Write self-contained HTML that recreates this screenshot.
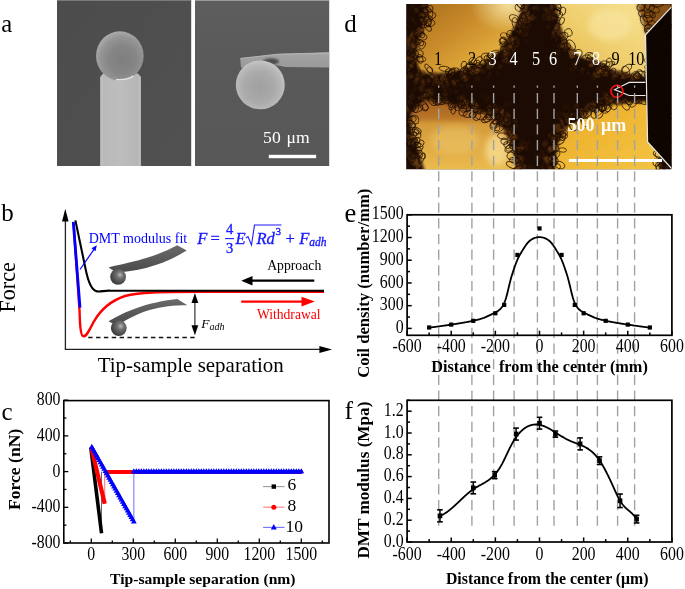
<!DOCTYPE html>
<html><head><meta charset="utf-8"><style>
html,body{margin:0;padding:0;background:#fff;width:685px;height:589px;overflow:hidden}
svg{display:block;font-family:'Liberation Serif',serif;will-change:transform}
</style></head><body>
<svg width="685" height="589" viewBox="0 0 685 589">
<text x="1.23" y="31.65" font-size="24.7" text-anchor="start" font-weight="normal" font-style="normal" fill="#000" >a</text>
<defs>
<linearGradient id="aBgL" x1="0" y1="0" x2="1" y2="1"><stop offset="0" stop-color="#4c4c4c"/><stop offset="1" stop-color="#515151"/></linearGradient>
<linearGradient id="aBgR" x1="0" y1="0" x2="0" y2="1"><stop offset="0" stop-color="#5e5e5e"/><stop offset="0.3" stop-color="#5a5a5a"/><stop offset="1" stop-color="#575757"/></linearGradient>
<linearGradient id="aBeam" x1="0" y1="0" x2="1" y2="0"><stop offset="0" stop-color="#c4c4c4"/><stop offset="0.08" stop-color="#b9b9b9"/><stop offset="0.5" stop-color="#bdbdbd"/><stop offset="0.92" stop-color="#b6b6b6"/><stop offset="1" stop-color="#c2c2c2"/></linearGradient>
<radialGradient id="aSphL" cx="0.55" cy="0.58" r="0.58" fx="0.55" fy="0.58"><stop offset="0" stop-color="#7e7e7e"/><stop offset="0.5" stop-color="#868686"/><stop offset="0.8" stop-color="#959595"/><stop offset="1" stop-color="#aaaaaa"/></radialGradient>
<radialGradient id="aSphR" cx="0.48" cy="0.55" r="0.52"><stop offset="0" stop-color="#a0a0a0"/><stop offset="0.6" stop-color="#aaaaaa"/><stop offset="0.88" stop-color="#b8b8b8"/><stop offset="1" stop-color="#c2c2c2"/></radialGradient>
<linearGradient id="aBeamR" x1="0" y1="0" x2="0" y2="1"><stop offset="0" stop-color="#b0b0b0"/><stop offset="0.18" stop-color="#a2a2a2"/><stop offset="1" stop-color="#9a9a9a"/></linearGradient>
<filter id="bl05"><feGaussianBlur stdDeviation="0.5"/></filter>
<filter id="bl1"><feGaussianBlur stdDeviation="1"/></filter>
<filter id="bl2"><feGaussianBlur stdDeviation="2"/></filter>
</defs>
<rect x="57" y="0.5" width="134.2" height="165.5" fill="url(#aBgL)"/>
<rect x="57" y="0" width="134.2" height="1" fill="#7a7a7a"/>
<polygon points="100.20,166.00 100.20,77.00 103.00,73.60 138.00,73.60 140.90,77.00 140.90,166.00" fill="url(#aBeam)" />
<ellipse cx="119.85" cy="55.9" rx="23.8" ry="24.6" fill="url(#aSphL)"/>
<path d="M116,79.4 Q126,80.6 133.5,75.8" fill="none" stroke="#e2e2e2" stroke-width="1.5" filter="url(#bl05)"/>
<rect x="195" y="0" width="134.2" height="166" fill="url(#aBgR)"/>
<rect x="195" y="0" width="134.2" height="1" fill="#9a9a9a"/>
<polygon points="240.20,58.20 278.20,53.90 329.20,52.40 329.20,67.40 285.50,67.00 273.80,64.80 241.00,67.70" fill="url(#aBeamR)" />
<polyline points="240.50,58.40 278.20,54.20 329.20,52.80" fill="none" stroke="#b8b8b8" stroke-width="0.9" />
<ellipse cx="271" cy="61.5" rx="8" ry="3.2" fill="#4e4e4e" filter="url(#bl1)"/>
<circle cx="260.3" cy="84.9" r="24.45" fill="url(#aSphR)"/>
<rect x="268.8" y="154.8" width="47.3" height="3.4" fill="#fff"/>
<text x="263.08" y="142.72" font-size="17.6" text-anchor="start" font-weight="normal" font-style="normal" fill="#fff" >50</text>
<text x="286.60" y="142.72" font-size="17.6" text-anchor="start" font-weight="normal" font-style="normal" fill="#fff" >μm</text>
<text x="344.30" y="31.55" font-size="24.9" text-anchor="start" font-weight="normal" font-style="normal" fill="#000" >d</text>
<defs>
<clipPath id="dClip"><rect x="406.2" y="4" width="265.4" height="165.2"/></clipPath>
<linearGradient id="dUL" x1="0" y1="0" x2="1" y2="1"><stop offset="0" stop-color="#a66c1c"/><stop offset="0.4" stop-color="#c88a2a"/><stop offset="0.7" stop-color="#e0aa3a"/><stop offset="1" stop-color="#f0c04a"/></linearGradient>
<radialGradient id="dULh" cx="0.85" cy="0.1" r="0.35"><stop offset="0" stop-color="#f8e6a8" stop-opacity="0.9"/><stop offset="1" stop-color="#f8e6a8" stop-opacity="0"/></radialGradient>
<linearGradient id="dUR" x1="0" y1="1" x2="1" y2="0"><stop offset="0" stop-color="#e4b848"/><stop offset="0.5" stop-color="#f0d070"/><stop offset="1" stop-color="#f8e498"/></linearGradient>
<linearGradient id="dLL" x1="0" y1="0" x2="0" y2="1"><stop offset="0" stop-color="#a86222"/><stop offset="0.25" stop-color="#b87428"/><stop offset="0.33" stop-color="#d49a3a"/><stop offset="1" stop-color="#ecbc4e"/></linearGradient>
<linearGradient id="dLR" x1="0" y1="0" x2="1" y2="1"><stop offset="0" stop-color="#e8a628"/><stop offset="0.5" stop-color="#f0b834"/><stop offset="1" stop-color="#f2c444"/></linearGradient>
<filter id="dBlur" x="-10%" y="-10%" width="120%" height="120%"><feGaussianBlur stdDeviation="1.6"/></filter>
<filter id="dBlur3"><feGaussianBlur stdDeviation="3"/></filter>
</defs>
<g clip-path="url(#dClip)">
<rect x="406" y="4" width="266" height="166" fill="#1c0b03"/>
<g filter="url(#dBlur)">
<polygon points="428.00,-2.00 524.00,-2.00 521.00,12.00 515.00,26.00 507.00,39.00 500.00,51.00 484.00,63.00 464.00,69.00 444.00,73.00 430.00,74.00 419.00,71.00 416.00,55.00 418.00,42.00 422.00,30.00 427.00,15.00" fill="url(#dUL)" />
<polygon points="554.00,-2.00 641.00,-2.00 645.00,15.00 652.00,30.00 652.00,77.00 638.00,75.50 612.60,70.00 595.00,62.00 579.00,56.00 566.00,42.00 559.00,22.00" fill="url(#dUR)" />
<polygon points="411.00,113.00 425.00,100.00 444.00,103.00 464.00,108.00 484.00,112.50 494.00,117.00 503.50,129.00 513.40,149.00 517.00,172.00 425.00,172.00 418.00,150.00 411.00,130.00" fill="url(#dLL)" />
<polygon points="660.00,101.00 640.00,101.70 604.70,105.60 585.00,114.50 569.30,125.30 559.40,139.10 555.50,158.80 555.00,172.00 660.00,172.00" fill="url(#dLR)" />
<polygon points="428.00,-2.00 524.00,-2.00 521.00,12.00 515.00,26.00 507.00,39.00 500.00,51.00 484.00,63.00 464.00,69.00 444.00,73.00 430.00,74.00 419.00,71.00 416.00,55.00 418.00,42.00 422.00,30.00 427.00,15.00" fill="url(#dULh)" />
<polygon points="636.00,4.00 672.00,4.00 672.00,8.00 645.50,34.80 641.00,18.00" fill="#8a5216" />
</g>
<g filter="url(#dBlur3)" opacity="0.8">
<ellipse cx="497" cy="150" rx="12" ry="16" fill="#f8dc90"/>
<ellipse cx="455" cy="140" rx="25" ry="14" fill="#f0cc70" opacity="0.6"/>
<ellipse cx="610" cy="25" rx="22" ry="16" fill="#fae8a8" opacity="0.7"/>
</g>
<ellipse cx="421.4" cy="87.7" rx="3.1" ry="1.6" transform="rotate(16 421.4 87.7)" fill="#7a4a18" opacity="0.10"/>
<ellipse cx="551.7" cy="14.4" rx="2.5" ry="2.7" transform="rotate(77 551.7 14.4)" fill="#5a3010" opacity="0.29"/>
<ellipse cx="446.4" cy="84.7" rx="3.7" ry="2.8" transform="rotate(103 446.4 84.7)" fill="#7a4a18" opacity="0.16"/>
<ellipse cx="508.6" cy="114.3" rx="3.2" ry="1.8" transform="rotate(21 508.6 114.3)" fill="#5a3010" opacity="0.12"/>
<ellipse cx="660.8" cy="28.9" rx="2.6" ry="1.9" transform="rotate(87 660.8 28.9)" fill="#6a3c12" opacity="0.26"/>
<ellipse cx="422.6" cy="15.1" rx="2.4" ry="2.1" transform="rotate(9 422.6 15.1)" fill="#84541c" opacity="0.37"/>
<ellipse cx="534.7" cy="18.2" rx="2.9" ry="2.0" transform="rotate(149 534.7 18.2)" fill="#84541c" opacity="0.10"/>
<ellipse cx="666.8" cy="112.4" rx="3.4" ry="1.7" transform="rotate(3 666.8 112.4)" fill="#84541c" opacity="0.32"/>
<ellipse cx="411.0" cy="76.6" rx="2.0" ry="2.9" transform="rotate(31 411.0 76.6)" fill="#7a4a18" opacity="0.19"/>
<ellipse cx="553.7" cy="133.4" rx="3.4" ry="1.9" transform="rotate(50 553.7 133.4)" fill="#6a3c12" opacity="0.26"/>
<ellipse cx="523.6" cy="16.0" rx="2.2" ry="2.6" transform="rotate(141 523.6 16.0)" fill="#6a3c12" opacity="0.42"/>
<ellipse cx="669.3" cy="141.4" rx="3.1" ry="2.4" transform="rotate(61 669.3 141.4)" fill="#6a3c12" opacity="0.23"/>
<ellipse cx="553.1" cy="156.9" rx="2.3" ry="2.4" transform="rotate(43 553.1 156.9)" fill="#5a3010" opacity="0.44"/>
<ellipse cx="410.8" cy="45.3" rx="3.8" ry="2.4" transform="rotate(34 410.8 45.3)" fill="#7a4a18" opacity="0.29"/>
<ellipse cx="594.0" cy="108.9" rx="2.9" ry="1.6" transform="rotate(23 594.0 108.9)" fill="#6a3c12" opacity="0.44"/>
<ellipse cx="488.3" cy="62.8" rx="3.0" ry="2.3" transform="rotate(90 488.3 62.8)" fill="#84541c" opacity="0.46"/>
<ellipse cx="570.1" cy="110.1" rx="2.4" ry="1.9" transform="rotate(134 570.1 110.1)" fill="#6a3c12" opacity="0.15"/>
<ellipse cx="666.2" cy="158.5" rx="3.1" ry="2.9" transform="rotate(174 666.2 158.5)" fill="#6a3c12" opacity="0.32"/>
<ellipse cx="535.3" cy="8.1" rx="3.2" ry="2.3" transform="rotate(54 535.3 8.1)" fill="#7a4a18" opacity="0.11"/>
<ellipse cx="525.7" cy="27.0" rx="2.2" ry="2.1" transform="rotate(16 525.7 27.0)" fill="#6a3c12" opacity="0.22"/>
<ellipse cx="472.1" cy="70.0" rx="4.4" ry="2.9" transform="rotate(157 472.1 70.0)" fill="#7a4a18" opacity="0.43"/>
<ellipse cx="575.3" cy="119.3" rx="2.2" ry="2.4" transform="rotate(105 575.3 119.3)" fill="#6a3c12" opacity="0.46"/>
<ellipse cx="465.5" cy="103.2" rx="2.8" ry="2.3" transform="rotate(173 465.5 103.2)" fill="#7a4a18" opacity="0.35"/>
<ellipse cx="661.5" cy="120.3" rx="2.1" ry="2.3" transform="rotate(121 661.5 120.3)" fill="#7a4a18" opacity="0.47"/>
<ellipse cx="505.5" cy="58.7" rx="2.0" ry="2.0" transform="rotate(63 505.5 58.7)" fill="#7a4a18" opacity="0.25"/>
<ellipse cx="416.8" cy="9.8" rx="4.3" ry="1.9" transform="rotate(135 416.8 9.8)" fill="#5a3010" opacity="0.17"/>
<ellipse cx="659.7" cy="67.8" rx="3.1" ry="2.3" transform="rotate(167 659.7 67.8)" fill="#5a3010" opacity="0.29"/>
<ellipse cx="649.2" cy="10.7" rx="2.3" ry="1.8" transform="rotate(175 649.2 10.7)" fill="#6a3c12" opacity="0.38"/>
<ellipse cx="422.8" cy="20.7" rx="3.4" ry="2.6" transform="rotate(16 422.8 20.7)" fill="#84541c" opacity="0.41"/>
<ellipse cx="514.1" cy="149.7" rx="2.4" ry="1.5" transform="rotate(99 514.1 149.7)" fill="#5a3010" opacity="0.47"/>
<ellipse cx="544.6" cy="156.7" rx="3.2" ry="2.9" transform="rotate(174 544.6 156.7)" fill="#7a4a18" opacity="0.17"/>
<ellipse cx="453.8" cy="82.1" rx="2.3" ry="2.2" transform="rotate(17 453.8 82.1)" fill="#7a4a18" opacity="0.18"/>
<ellipse cx="542.4" cy="151.8" rx="2.6" ry="2.6" transform="rotate(4 542.4 151.8)" fill="#7a4a18" opacity="0.10"/>
<ellipse cx="512.9" cy="47.6" rx="3.6" ry="2.5" transform="rotate(63 512.9 47.6)" fill="#84541c" opacity="0.26"/>
<ellipse cx="552.5" cy="159.3" rx="2.5" ry="2.5" transform="rotate(91 552.5 159.3)" fill="#6a3c12" opacity="0.41"/>
<ellipse cx="526.4" cy="41.3" rx="2.6" ry="1.6" transform="rotate(60 526.4 41.3)" fill="#6a3c12" opacity="0.10"/>
<ellipse cx="410.1" cy="47.0" rx="3.9" ry="3.1" transform="rotate(134 410.1 47.0)" fill="#5a3010" opacity="0.29"/>
<ellipse cx="574.0" cy="51.4" rx="2.2" ry="2.8" transform="rotate(37 574.0 51.4)" fill="#5a3010" opacity="0.47"/>
<ellipse cx="657.1" cy="50.8" rx="3.7" ry="2.3" transform="rotate(20 657.1 50.8)" fill="#6a3c12" opacity="0.35"/>
<ellipse cx="412.7" cy="38.0" rx="4.3" ry="2.4" transform="rotate(68 412.7 38.0)" fill="#84541c" opacity="0.30"/>
<ellipse cx="605.3" cy="73.5" rx="3.8" ry="3.0" transform="rotate(139 605.3 73.5)" fill="#84541c" opacity="0.33"/>
<ellipse cx="489.3" cy="107.7" rx="3.0" ry="2.8" transform="rotate(128 489.3 107.7)" fill="#5a3010" opacity="0.30"/>
<ellipse cx="515.2" cy="160.4" rx="3.7" ry="2.2" transform="rotate(137 515.2 160.4)" fill="#5a3010" opacity="0.47"/>
<ellipse cx="479.0" cy="69.9" rx="3.0" ry="2.2" transform="rotate(126 479.0 69.9)" fill="#6a3c12" opacity="0.38"/>
<ellipse cx="510.3" cy="39.0" rx="3.9" ry="2.9" transform="rotate(114 510.3 39.0)" fill="#84541c" opacity="0.44"/>
<ellipse cx="506.1" cy="45.8" rx="2.5" ry="1.5" transform="rotate(130 506.1 45.8)" fill="#7a4a18" opacity="0.43"/>
<ellipse cx="553.4" cy="140.4" rx="4.1" ry="2.2" transform="rotate(91 553.4 140.4)" fill="#84541c" opacity="0.34"/>
<ellipse cx="420.5" cy="97.6" rx="2.3" ry="2.9" transform="rotate(104 420.5 97.6)" fill="#7a4a18" opacity="0.33"/>
<ellipse cx="524.8" cy="6.3" rx="3.5" ry="3.1" transform="rotate(177 524.8 6.3)" fill="#5a3010" opacity="0.44"/>
<ellipse cx="573.2" cy="121.0" rx="4.3" ry="1.9" transform="rotate(174 573.2 121.0)" fill="#84541c" opacity="0.47"/>
<ellipse cx="556.8" cy="52.2" rx="4.4" ry="2.7" transform="rotate(149 556.8 52.2)" fill="#7a4a18" opacity="0.10"/>
<ellipse cx="562.8" cy="35.2" rx="2.5" ry="2.7" transform="rotate(65 562.8 35.2)" fill="#6a3c12" opacity="0.46"/>
<ellipse cx="447.5" cy="102.5" rx="3.3" ry="1.5" transform="rotate(6 447.5 102.5)" fill="#7a4a18" opacity="0.44"/>
<ellipse cx="662.3" cy="45.9" rx="2.5" ry="1.8" transform="rotate(15 662.3 45.9)" fill="#84541c" opacity="0.20"/>
<ellipse cx="439.0" cy="83.4" rx="2.6" ry="1.7" transform="rotate(122 439.0 83.4)" fill="#5a3010" opacity="0.20"/>
<ellipse cx="443.2" cy="77.8" rx="4.3" ry="2.9" transform="rotate(113 443.2 77.8)" fill="#84541c" opacity="0.38"/>
<ellipse cx="515.5" cy="29.7" rx="4.1" ry="2.1" transform="rotate(30 515.5 29.7)" fill="#7a4a18" opacity="0.46"/>
<ellipse cx="411.5" cy="163.6" rx="2.5" ry="1.7" transform="rotate(45 411.5 163.6)" fill="#6a3c12" opacity="0.24"/>
<ellipse cx="558.4" cy="127.2" rx="4.1" ry="3.1" transform="rotate(70 558.4 127.2)" fill="#6a3c12" opacity="0.27"/>
<ellipse cx="521.4" cy="160.9" rx="2.8" ry="2.6" transform="rotate(22 521.4 160.9)" fill="#5a3010" opacity="0.29"/>
<ellipse cx="484.1" cy="71.1" rx="2.6" ry="1.6" transform="rotate(98 484.1 71.1)" fill="#5a3010" opacity="0.27"/>
<ellipse cx="637.8" cy="76.6" rx="3.0" ry="2.2" transform="rotate(132 637.8 76.6)" fill="#7a4a18" opacity="0.46"/>
<ellipse cx="483.3" cy="96.7" rx="3.3" ry="2.2" transform="rotate(73 483.3 96.7)" fill="#5a3010" opacity="0.10"/>
<ellipse cx="499.9" cy="123.2" rx="4.4" ry="1.9" transform="rotate(171 499.9 123.2)" fill="#5a3010" opacity="0.47"/>
<ellipse cx="466.5" cy="78.7" rx="3.8" ry="1.9" transform="rotate(162 466.5 78.7)" fill="#5a3010" opacity="0.22"/>
<ellipse cx="416.8" cy="10.6" rx="2.5" ry="2.0" transform="rotate(69 416.8 10.6)" fill="#7a4a18" opacity="0.17"/>
<ellipse cx="654.9" cy="62.0" rx="4.2" ry="1.7" transform="rotate(101 654.9 62.0)" fill="#6a3c12" opacity="0.44"/>
<ellipse cx="592.6" cy="77.9" rx="2.8" ry="2.3" transform="rotate(65 592.6 77.9)" fill="#5a3010" opacity="0.10"/>
<ellipse cx="615.3" cy="74.2" rx="3.7" ry="2.4" transform="rotate(76 615.3 74.2)" fill="#84541c" opacity="0.39"/>
<ellipse cx="410.0" cy="102.1" rx="2.7" ry="2.7" transform="rotate(77 410.0 102.1)" fill="#5a3010" opacity="0.25"/>
<ellipse cx="552.0" cy="136.5" rx="4.3" ry="2.6" transform="rotate(46 552.0 136.5)" fill="#84541c" opacity="0.24"/>
<ellipse cx="509.2" cy="62.4" rx="3.4" ry="2.1" transform="rotate(4 509.2 62.4)" fill="#84541c" opacity="0.10"/>
<ellipse cx="552.6" cy="158.7" rx="4.3" ry="2.5" transform="rotate(14 552.6 158.7)" fill="#7a4a18" opacity="0.41"/>
<ellipse cx="545.2" cy="159.3" rx="2.0" ry="2.3" transform="rotate(118 545.2 159.3)" fill="#6a3c12" opacity="0.20"/>
<ellipse cx="512.9" cy="146.6" rx="3.4" ry="2.2" transform="rotate(165 512.9 146.6)" fill="#5a3010" opacity="0.47"/>
<ellipse cx="463.6" cy="98.0" rx="4.2" ry="3.0" transform="rotate(48 463.6 98.0)" fill="#7a4a18" opacity="0.19"/>
<ellipse cx="670.6" cy="53.1" rx="2.3" ry="3.2" transform="rotate(2 670.6 53.1)" fill="#5a3010" opacity="0.10"/>
<ellipse cx="520.5" cy="21.3" rx="4.5" ry="2.0" transform="rotate(158 520.5 21.3)" fill="#84541c" opacity="0.43"/>
<ellipse cx="459.4" cy="98.1" rx="2.4" ry="2.7" transform="rotate(49 459.4 98.1)" fill="#7a4a18" opacity="0.24"/>
<ellipse cx="603.0" cy="70.3" rx="3.7" ry="2.4" transform="rotate(138 603.0 70.3)" fill="#7a4a18" opacity="0.37"/>
<ellipse cx="606.4" cy="97.1" rx="3.7" ry="2.7" transform="rotate(87 606.4 97.1)" fill="#84541c" opacity="0.26"/>
<ellipse cx="666.7" cy="68.6" rx="2.9" ry="2.6" transform="rotate(40 666.7 68.6)" fill="#5a3010" opacity="0.10"/>
<ellipse cx="538.1" cy="157.4" rx="3.2" ry="3.0" transform="rotate(108 538.1 157.4)" fill="#7a4a18" opacity="0.10"/>
<ellipse cx="549.8" cy="18.6" rx="2.7" ry="3.0" transform="rotate(152 549.8 18.6)" fill="#7a4a18" opacity="0.23"/>
<ellipse cx="424.5" cy="96.3" rx="3.4" ry="2.8" transform="rotate(107 424.5 96.3)" fill="#84541c" opacity="0.38"/>
<ellipse cx="415.0" cy="88.7" rx="3.6" ry="1.7" transform="rotate(104 415.0 88.7)" fill="#6a3c12" opacity="0.10"/>
<ellipse cx="437.3" cy="81.2" rx="3.3" ry="2.4" transform="rotate(66 437.3 81.2)" fill="#7a4a18" opacity="0.26"/>
<ellipse cx="513.4" cy="37.6" rx="2.6" ry="3.0" transform="rotate(90 513.4 37.6)" fill="#7a4a18" opacity="0.38"/>
<ellipse cx="547.4" cy="160.1" rx="4.4" ry="2.8" transform="rotate(45 547.4 160.1)" fill="#84541c" opacity="0.26"/>
<ellipse cx="407.2" cy="84.7" rx="2.3" ry="2.9" transform="rotate(75 407.2 84.7)" fill="#5a3010" opacity="0.10"/>
<ellipse cx="570.7" cy="52.2" rx="2.7" ry="2.7" transform="rotate(80 570.7 52.2)" fill="#84541c" opacity="0.39"/>
<ellipse cx="449.1" cy="91.0" rx="2.4" ry="3.1" transform="rotate(82 449.1 91.0)" fill="#84541c" opacity="0.10"/>
<ellipse cx="415.3" cy="57.7" rx="4.4" ry="3.0" transform="rotate(26 415.3 57.7)" fill="#5a3010" opacity="0.47"/>
<ellipse cx="657.0" cy="36.6" rx="3.1" ry="1.7" transform="rotate(47 657.0 36.6)" fill="#5a3010" opacity="0.35"/>
<ellipse cx="515.8" cy="137.3" rx="2.8" ry="2.6" transform="rotate(174 515.8 137.3)" fill="#6a3c12" opacity="0.28"/>
<ellipse cx="593.2" cy="105.0" rx="2.2" ry="2.5" transform="rotate(148 593.2 105.0)" fill="#6a3c12" opacity="0.35"/>
<ellipse cx="406.9" cy="107.8" rx="2.7" ry="1.6" transform="rotate(80 406.9 107.8)" fill="#84541c" opacity="0.27"/>
<ellipse cx="465.7" cy="107.9" rx="2.8" ry="2.5" transform="rotate(39 465.7 107.9)" fill="#5a3010" opacity="0.46"/>
<ellipse cx="425.0" cy="82.8" rx="3.1" ry="2.7" transform="rotate(128 425.0 82.8)" fill="#6a3c12" opacity="0.22"/>
<ellipse cx="513.2" cy="50.6" rx="3.8" ry="2.4" transform="rotate(79 513.2 50.6)" fill="#5a3010" opacity="0.18"/>
<ellipse cx="527.0" cy="20.9" rx="2.4" ry="2.8" transform="rotate(85 527.0 20.9)" fill="#6a3c12" opacity="0.24"/>
<ellipse cx="433.7" cy="101.6" rx="2.5" ry="2.3" transform="rotate(105 433.7 101.6)" fill="#7a4a18" opacity="0.47"/>
<ellipse cx="594.1" cy="76.5" rx="3.8" ry="1.6" transform="rotate(85 594.1 76.5)" fill="#7a4a18" opacity="0.11"/>
<ellipse cx="664.9" cy="121.1" rx="4.0" ry="1.8" transform="rotate(92 664.9 121.1)" fill="#6a3c12" opacity="0.38"/>
<ellipse cx="520.6" cy="148.9" rx="4.4" ry="2.3" transform="rotate(127 520.6 148.9)" fill="#7a4a18" opacity="0.29"/>
<ellipse cx="472.4" cy="72.0" rx="2.6" ry="3.0" transform="rotate(166 472.4 72.0)" fill="#7a4a18" opacity="0.35"/>
<ellipse cx="647.1" cy="6.2" rx="3.8" ry="3.2" transform="rotate(32 647.1 6.2)" fill="#84541c" opacity="0.41"/>
<ellipse cx="423.0" cy="15.0" rx="2.9" ry="1.7" transform="rotate(20 423.0 15.0)" fill="#7a4a18" opacity="0.39"/>
<ellipse cx="663.9" cy="117.4" rx="3.9" ry="1.8" transform="rotate(18 663.9 117.4)" fill="#6a3c12" opacity="0.41"/>
<ellipse cx="414.2" cy="140.7" rx="4.1" ry="2.9" transform="rotate(121 414.2 140.7)" fill="#6a3c12" opacity="0.47"/>
<ellipse cx="562.1" cy="113.1" rx="2.4" ry="1.7" transform="rotate(177 562.1 113.1)" fill="#6a3c12" opacity="0.10"/>
<ellipse cx="507.3" cy="130.2" rx="2.5" ry="1.9" transform="rotate(69 507.3 130.2)" fill="#84541c" opacity="0.41"/>
<ellipse cx="523.1" cy="23.5" rx="2.9" ry="2.3" transform="rotate(169 523.1 23.5)" fill="#7a4a18" opacity="0.33"/>
<ellipse cx="415.6" cy="76.4" rx="2.5" ry="2.8" transform="rotate(105 415.6 76.4)" fill="#5a3010" opacity="0.31"/>
<ellipse cx="512.9" cy="116.1" rx="4.4" ry="1.9" transform="rotate(86 512.9 116.1)" fill="#5a3010" opacity="0.10"/>
<ellipse cx="669.8" cy="106.5" rx="4.1" ry="1.8" transform="rotate(180 669.8 106.5)" fill="#6a3c12" opacity="0.23"/>
<ellipse cx="412.1" cy="65.7" rx="4.1" ry="1.5" transform="rotate(109 412.1 65.7)" fill="#7a4a18" opacity="0.33"/>
<ellipse cx="663.2" cy="147.6" rx="3.3" ry="2.9" transform="rotate(145 663.2 147.6)" fill="#5a3010" opacity="0.41"/>
<ellipse cx="662.0" cy="35.8" rx="4.2" ry="2.5" transform="rotate(33 662.0 35.8)" fill="#5a3010" opacity="0.23"/>
<ellipse cx="638.8" cy="101.2" rx="2.0" ry="2.4" transform="rotate(131 638.8 101.2)" fill="#6a3c12" opacity="0.47"/>
<ellipse cx="555.1" cy="12.5" rx="3.7" ry="2.2" transform="rotate(129 555.1 12.5)" fill="#7a4a18" opacity="0.41"/>
<ellipse cx="556.3" cy="26.8" rx="3.5" ry="1.7" transform="rotate(114 556.3 26.8)" fill="#84541c" opacity="0.38"/>
<ellipse cx="488.8" cy="113.3" rx="2.4" ry="1.9" transform="rotate(139 488.8 113.3)" fill="#6a3c12" opacity="0.47"/>
<ellipse cx="420.8" cy="104.5" rx="2.1" ry="2.4" transform="rotate(27 420.8 104.5)" fill="#7a4a18" opacity="0.47"/>
<ellipse cx="667.0" cy="154.1" rx="3.2" ry="2.6" transform="rotate(54 667.0 154.1)" fill="#6a3c12" opacity="0.32"/>
<ellipse cx="530.8" cy="167.4" rx="4.1" ry="2.0" transform="rotate(31 530.8 167.4)" fill="#7a4a18" opacity="0.10"/>
<ellipse cx="499.9" cy="66.4" rx="2.6" ry="3.0" transform="rotate(74 499.9 66.4)" fill="#84541c" opacity="0.16"/>
<ellipse cx="586.1" cy="111.7" rx="4.2" ry="2.4" transform="rotate(82 586.1 111.7)" fill="#6a3c12" opacity="0.43"/>
<ellipse cx="412.9" cy="135.4" rx="2.2" ry="1.6" transform="rotate(133 412.9 135.4)" fill="#6a3c12" opacity="0.47"/>
<ellipse cx="596.8" cy="74.8" rx="3.3" ry="2.9" transform="rotate(142 596.8 74.8)" fill="#84541c" opacity="0.19"/>
<ellipse cx="530.6" cy="19.2" rx="2.9" ry="2.7" transform="rotate(135 530.6 19.2)" fill="#6a3c12" opacity="0.18"/>
<ellipse cx="458.7" cy="101.7" rx="2.4" ry="1.6" transform="rotate(126 458.7 101.7)" fill="#6a3c12" opacity="0.34"/>
<ellipse cx="499.6" cy="118.0" rx="2.4" ry="3.0" transform="rotate(103 499.6 118.0)" fill="#84541c" opacity="0.38"/>
<ellipse cx="594.4" cy="108.0" rx="2.4" ry="1.8" transform="rotate(110 594.4 108.0)" fill="#5a3010" opacity="0.42"/>
<ellipse cx="510.0" cy="45.8" rx="4.4" ry="3.2" transform="rotate(127 510.0 45.8)" fill="#6a3c12" opacity="0.37"/>
<ellipse cx="508.0" cy="118.0" rx="4.0" ry="2.8" transform="rotate(93 508.0 118.0)" fill="#7a4a18" opacity="0.19"/>
<ellipse cx="490.1" cy="66.1" rx="4.3" ry="2.8" transform="rotate(142 490.1 66.1)" fill="#7a4a18" opacity="0.33"/>
<ellipse cx="475.8" cy="104.8" rx="4.1" ry="2.3" transform="rotate(50 475.8 104.8)" fill="#7a4a18" opacity="0.32"/>
<ellipse cx="519.7" cy="158.0" rx="3.9" ry="1.7" transform="rotate(50 519.7 158.0)" fill="#7a4a18" opacity="0.35"/>
<ellipse cx="575.4" cy="66.1" rx="4.0" ry="1.6" transform="rotate(86 575.4 66.1)" fill="#84541c" opacity="0.18"/>
<ellipse cx="633.4" cy="77.2" rx="4.3" ry="2.9" transform="rotate(123 633.4 77.2)" fill="#7a4a18" opacity="0.41"/>
<ellipse cx="608.7" cy="101.2" rx="4.2" ry="2.1" transform="rotate(173 608.7 101.2)" fill="#6a3c12" opacity="0.38"/>
<ellipse cx="551.6" cy="55.8" rx="2.5" ry="1.7" transform="rotate(51 551.6 55.8)" fill="#84541c" opacity="0.10"/>
<ellipse cx="489.3" cy="97.8" rx="3.0" ry="3.0" transform="rotate(106 489.3 97.8)" fill="#5a3010" opacity="0.10"/>
<ellipse cx="409.5" cy="37.5" rx="4.1" ry="1.7" transform="rotate(168 409.5 37.5)" fill="#6a3c12" opacity="0.20"/>
<ellipse cx="513.7" cy="119.1" rx="4.1" ry="3.2" transform="rotate(20 513.7 119.1)" fill="#84541c" opacity="0.10"/>
<ellipse cx="655.1" cy="44.3" rx="2.8" ry="2.1" transform="rotate(164 655.1 44.3)" fill="#5a3010" opacity="0.41"/>
<ellipse cx="520.1" cy="31.4" rx="2.3" ry="2.9" transform="rotate(117 520.1 31.4)" fill="#6a3c12" opacity="0.30"/>
<ellipse cx="503.5" cy="121.5" rx="4.4" ry="2.2" transform="rotate(1 503.5 121.5)" fill="#84541c" opacity="0.35"/>
<ellipse cx="507.2" cy="114.8" rx="2.1" ry="2.1" transform="rotate(157 507.2 114.8)" fill="#7a4a18" opacity="0.14"/>
<ellipse cx="505.8" cy="51.9" rx="3.8" ry="2.9" transform="rotate(87 505.8 51.9)" fill="#84541c" opacity="0.38"/>
<ellipse cx="636.8" cy="76.5" rx="2.8" ry="3.2" transform="rotate(33 636.8 76.5)" fill="#84541c" opacity="0.44"/>
<ellipse cx="564.3" cy="46.1" rx="3.0" ry="2.1" transform="rotate(2 564.3 46.1)" fill="#84541c" opacity="0.37"/>
<ellipse cx="586.8" cy="107.1" rx="2.1" ry="2.6" transform="rotate(110 586.8 107.1)" fill="#7a4a18" opacity="0.33"/>
<ellipse cx="509.0" cy="135.9" rx="2.6" ry="2.8" transform="rotate(79 509.0 135.9)" fill="#84541c" opacity="0.42"/>
<ellipse cx="430.2" cy="80.2" rx="2.0" ry="1.7" transform="rotate(16 430.2 80.2)" fill="#5a3010" opacity="0.32"/>
<ellipse cx="543.3" cy="166.0" rx="3.3" ry="2.3" transform="rotate(67 543.3 166.0)" fill="#5a3010" opacity="0.14"/>
<ellipse cx="660.1" cy="64.9" rx="3.6" ry="2.4" transform="rotate(59 660.1 64.9)" fill="#6a3c12" opacity="0.26"/>
<ellipse cx="517.0" cy="161.9" rx="3.0" ry="1.8" transform="rotate(119 517.0 161.9)" fill="#5a3010" opacity="0.41"/>
<ellipse cx="577.6" cy="118.5" rx="3.6" ry="1.7" transform="rotate(110 577.6 118.5)" fill="#84541c" opacity="0.46"/>
<ellipse cx="664.6" cy="124.1" rx="4.1" ry="1.8" transform="rotate(149 664.6 124.1)" fill="#84541c" opacity="0.38"/>
<ellipse cx="511.4" cy="41.0" rx="4.4" ry="2.1" transform="rotate(92 511.4 41.0)" fill="#7a4a18" opacity="0.39"/>
<ellipse cx="463.9" cy="76.2" rx="4.0" ry="1.9" transform="rotate(150 463.9 76.2)" fill="#84541c" opacity="0.29"/>
<ellipse cx="566.0" cy="107.3" rx="3.9" ry="2.0" transform="rotate(155 566.0 107.3)" fill="#7a4a18" opacity="0.10"/>
<ellipse cx="653.4" cy="36.9" rx="3.9" ry="2.5" transform="rotate(97 653.4 36.9)" fill="#6a3c12" opacity="0.47"/>
<ellipse cx="408.2" cy="58.3" rx="3.7" ry="2.8" transform="rotate(179 408.2 58.3)" fill="#84541c" opacity="0.26"/>
<ellipse cx="653.7" cy="68.8" rx="2.2" ry="3.1" transform="rotate(92 653.7 68.8)" fill="#5a3010" opacity="0.47"/>
<ellipse cx="551.2" cy="137.3" rx="3.8" ry="1.6" transform="rotate(169 551.2 137.3)" fill="#84541c" opacity="0.25"/>
<ellipse cx="525.4" cy="148.2" rx="3.1" ry="2.8" transform="rotate(50 525.4 148.2)" fill="#5a3010" opacity="0.14"/>
<ellipse cx="561.9" cy="121.2" rx="4.3" ry="1.7" transform="rotate(54 561.9 121.2)" fill="#5a3010" opacity="0.24"/>
<ellipse cx="411.1" cy="66.0" rx="3.2" ry="1.5" transform="rotate(27 411.1 66.0)" fill="#84541c" opacity="0.30"/>
<ellipse cx="516.9" cy="45.6" rx="4.1" ry="1.6" transform="rotate(134 516.9 45.6)" fill="#5a3010" opacity="0.18"/>
<ellipse cx="562.3" cy="123.0" rx="3.2" ry="1.8" transform="rotate(79 562.3 123.0)" fill="#7a4a18" opacity="0.28"/>
<ellipse cx="557.1" cy="39.0" rx="2.3" ry="1.8" transform="rotate(129 557.1 39.0)" fill="#5a3010" opacity="0.29"/>
<ellipse cx="477.2" cy="69.1" rx="3.1" ry="2.1" transform="rotate(2 477.2 69.1)" fill="#84541c" opacity="0.38"/>
<ellipse cx="661.5" cy="41.7" rx="2.1" ry="1.7" transform="rotate(128 661.5 41.7)" fill="#6a3c12" opacity="0.23"/>
<ellipse cx="664.5" cy="32.8" rx="3.1" ry="1.5" transform="rotate(87 664.5 32.8)" fill="#5a3010" opacity="0.14"/>
<ellipse cx="562.0" cy="43.2" rx="3.2" ry="2.2" transform="rotate(116 562.0 43.2)" fill="#5a3010" opacity="0.35"/>
<ellipse cx="409.3" cy="67.3" rx="3.6" ry="1.6" transform="rotate(98 409.3 67.3)" fill="#84541c" opacity="0.23"/>
<ellipse cx="618.9" cy="102.7" rx="3.5" ry="3.0" transform="rotate(178 618.9 102.7)" fill="#5a3010" opacity="0.44"/>
<ellipse cx="652.8" cy="14.6" rx="2.4" ry="1.7" transform="rotate(55 652.8 14.6)" fill="#6a3c12" opacity="0.30"/>
<ellipse cx="414.3" cy="60.2" rx="4.0" ry="2.7" transform="rotate(141 414.3 60.2)" fill="#5a3010" opacity="0.41"/>
<ellipse cx="508.4" cy="52.3" rx="3.8" ry="1.9" transform="rotate(59 508.4 52.3)" fill="#5a3010" opacity="0.28"/>
<ellipse cx="574.4" cy="64.3" rx="2.2" ry="2.4" transform="rotate(105 574.4 64.3)" fill="#6a3c12" opacity="0.22"/>
<ellipse cx="420.3" cy="30.3" rx="4.0" ry="3.0" transform="rotate(43 420.3 30.3)" fill="#7a4a18" opacity="0.44"/>
<ellipse cx="547.8" cy="11.0" rx="3.7" ry="2.7" transform="rotate(68 547.8 11.0)" fill="#84541c" opacity="0.19"/>
<ellipse cx="409.5" cy="58.5" rx="2.5" ry="2.2" transform="rotate(162 409.5 58.5)" fill="#5a3010" opacity="0.29"/>
<ellipse cx="663.0" cy="151.0" rx="3.4" ry="3.1" transform="rotate(21 663.0 151.0)" fill="#6a3c12" opacity="0.41"/>
<ellipse cx="413.8" cy="156.4" rx="2.1" ry="1.7" transform="rotate(179 413.8 156.4)" fill="#7a4a18" opacity="0.33"/>
<ellipse cx="558.3" cy="25.3" rx="3.1" ry="2.2" transform="rotate(101 558.3 25.3)" fill="#5a3010" opacity="0.44"/>
<ellipse cx="528.2" cy="27.9" rx="3.8" ry="1.6" transform="rotate(146 528.2 27.9)" fill="#5a3010" opacity="0.14"/>
<ellipse cx="439.0" cy="96.5" rx="2.8" ry="2.6" transform="rotate(162 439.0 96.5)" fill="#6a3c12" opacity="0.32"/>
<ellipse cx="473.7" cy="100.7" rx="4.0" ry="1.8" transform="rotate(47 473.7 100.7)" fill="#7a4a18" opacity="0.20"/>
<ellipse cx="507.4" cy="48.8" rx="4.2" ry="2.1" transform="rotate(126 507.4 48.8)" fill="#84541c" opacity="0.37"/>
<ellipse cx="418.2" cy="166.0" rx="4.1" ry="1.7" transform="rotate(118 418.2 166.0)" fill="#7a4a18" opacity="0.44"/>
<ellipse cx="577.0" cy="116.5" rx="2.7" ry="1.6" transform="rotate(177 577.0 116.5)" fill="#84541c" opacity="0.42"/>
<ellipse cx="522.0" cy="157.6" rx="2.4" ry="2.6" transform="rotate(118 522.0 157.6)" fill="#7a4a18" opacity="0.29"/>
<ellipse cx="513.4" cy="136.0" rx="2.8" ry="3.1" transform="rotate(156 513.4 136.0)" fill="#5a3010" opacity="0.33"/>
<ellipse cx="590.4" cy="65.3" rx="2.4" ry="2.9" transform="rotate(83 590.4 65.3)" fill="#84541c" opacity="0.37"/>
<ellipse cx="653.6" cy="12.5" rx="2.6" ry="2.8" transform="rotate(27 653.6 12.5)" fill="#7a4a18" opacity="0.26"/>
<ellipse cx="412.2" cy="49.2" rx="3.3" ry="2.0" transform="rotate(121 412.2 49.2)" fill="#5a3010" opacity="0.35"/>
<ellipse cx="548.3" cy="161.9" rx="2.1" ry="3.1" transform="rotate(47 548.3 161.9)" fill="#84541c" opacity="0.29"/>
<ellipse cx="657.1" cy="46.0" rx="3.5" ry="1.9" transform="rotate(128 657.1 46.0)" fill="#6a3c12" opacity="0.35"/>
<ellipse cx="410.9" cy="75.2" rx="3.5" ry="3.2" transform="rotate(38 410.9 75.2)" fill="#7a4a18" opacity="0.20"/>
<ellipse cx="522.8" cy="166.7" rx="2.8" ry="2.3" transform="rotate(29 522.8 166.7)" fill="#7a4a18" opacity="0.27"/>
<ellipse cx="425.0" cy="10.0" rx="2.1" ry="2.4" transform="rotate(114 425.0 10.0)" fill="#5a3010" opacity="0.41"/>
<ellipse cx="573.8" cy="55.6" rx="4.3" ry="2.4" transform="rotate(4 573.8 55.6)" fill="#5a3010" opacity="0.39"/>
<ellipse cx="666.8" cy="134.7" rx="2.3" ry="1.9" transform="rotate(118 666.8 134.7)" fill="#7a4a18" opacity="0.32"/>
<ellipse cx="474.9" cy="67.1" rx="2.0" ry="1.9" transform="rotate(44 474.9 67.1)" fill="#6a3c12" opacity="0.47"/>
<ellipse cx="656.2" cy="77.8" rx="2.1" ry="2.3" transform="rotate(96 656.2 77.8)" fill="#7a4a18" opacity="0.38"/>
<ellipse cx="434.0" cy="83.9" rx="2.4" ry="2.3" transform="rotate(63 434.0 83.9)" fill="#7a4a18" opacity="0.22"/>
<ellipse cx="554.8" cy="164.1" rx="2.9" ry="2.0" transform="rotate(134 554.8 164.1)" fill="#7a4a18" opacity="0.47"/>
<ellipse cx="668.6" cy="109.4" rx="3.5" ry="2.0" transform="rotate(85 668.6 109.4)" fill="#7a4a18" opacity="0.26"/>
<ellipse cx="573.5" cy="51.6" rx="3.3" ry="2.4" transform="rotate(40 573.5 51.6)" fill="#84541c" opacity="0.47"/>
<ellipse cx="559.2" cy="34.0" rx="2.4" ry="2.3" transform="rotate(8 559.2 34.0)" fill="#7a4a18" opacity="0.39"/>
<ellipse cx="552.9" cy="7.7" rx="2.1" ry="3.2" transform="rotate(163 552.9 7.7)" fill="#84541c" opacity="0.35"/>
<ellipse cx="473.7" cy="71.8" rx="2.2" ry="3.0" transform="rotate(123 473.7 71.8)" fill="#7a4a18" opacity="0.37"/>
<ellipse cx="551.0" cy="149.2" rx="2.9" ry="2.7" transform="rotate(96 551.0 149.2)" fill="#84541c" opacity="0.34"/>
<ellipse cx="573.3" cy="114.4" rx="2.8" ry="2.1" transform="rotate(155 573.3 114.4)" fill="#84541c" opacity="0.30"/>
<ellipse cx="421.7" cy="14.2" rx="2.2" ry="3.1" transform="rotate(65 421.7 14.2)" fill="#7a4a18" opacity="0.33"/>
<ellipse cx="523.3" cy="19.1" rx="4.4" ry="2.1" transform="rotate(115 523.3 19.1)" fill="#84541c" opacity="0.37"/>
<ellipse cx="444.8" cy="94.4" rx="2.3" ry="3.0" transform="rotate(103 444.8 94.4)" fill="#84541c" opacity="0.23"/>
<ellipse cx="556.3" cy="6.8" rx="2.4" ry="2.6" transform="rotate(110 556.3 6.8)" fill="#5a3010" opacity="0.47"/>
<ellipse cx="463.7" cy="71.0" rx="3.5" ry="1.9" transform="rotate(126 463.7 71.0)" fill="#84541c" opacity="0.44"/>
<ellipse cx="609.1" cy="103.0" rx="4.3" ry="3.1" transform="rotate(171 609.1 103.0)" fill="#6a3c12" opacity="0.41"/>
<ellipse cx="549.5" cy="148.2" rx="2.0" ry="2.3" transform="rotate(18 549.5 148.2)" fill="#84541c" opacity="0.27"/>
<ellipse cx="661.1" cy="38.1" rx="2.5" ry="1.8" transform="rotate(153 661.1 38.1)" fill="#5a3010" opacity="0.23"/>
<ellipse cx="646.6" cy="77.4" rx="3.5" ry="1.7" transform="rotate(94 646.6 77.4)" fill="#84541c" opacity="0.47"/>
<ellipse cx="429.6" cy="94.5" rx="3.9" ry="2.5" transform="rotate(164 429.6 94.5)" fill="#6a3c12" opacity="0.29"/>
<ellipse cx="422.6" cy="72.8" rx="3.2" ry="3.0" transform="rotate(101 422.6 72.8)" fill="#5a3010" opacity="0.47"/>
<ellipse cx="416.0" cy="161.6" rx="2.1" ry="2.8" transform="rotate(29 416.0 161.6)" fill="#7a4a18" opacity="0.38"/>
<ellipse cx="458.2" cy="105.3" rx="3.9" ry="2.5" transform="rotate(149 458.2 105.3)" fill="#5a3010" opacity="0.44"/>
<ellipse cx="558.5" cy="114.0" rx="3.1" ry="3.1" transform="rotate(37 558.5 114.0)" fill="#6a3c12" opacity="0.10"/>
<ellipse cx="530.3" cy="16.8" rx="4.1" ry="1.6" transform="rotate(144 530.3 16.8)" fill="#7a4a18" opacity="0.22"/>
<ellipse cx="653.8" cy="65.3" rx="4.4" ry="2.4" transform="rotate(123 653.8 65.3)" fill="#6a3c12" opacity="0.47"/>
<ellipse cx="589.7" cy="60.1" rx="2.8" ry="2.8" transform="rotate(101 589.7 60.1)" fill="#5a3010" opacity="0.47"/>
<ellipse cx="417.9" cy="78.2" rx="4.2" ry="1.7" transform="rotate(135 417.9 78.2)" fill="#7a4a18" opacity="0.28"/>
<ellipse cx="422.6" cy="82.9" rx="3.5" ry="2.2" transform="rotate(82 422.6 82.9)" fill="#7a4a18" opacity="0.20"/>
<ellipse cx="666.3" cy="167.8" rx="2.2" ry="1.9" transform="rotate(90 666.3 167.8)" fill="#6a3c12" opacity="0.32"/>
<ellipse cx="589.8" cy="106.6" rx="4.2" ry="2.8" transform="rotate(93 589.8 106.6)" fill="#84541c" opacity="0.34"/>
<ellipse cx="620.5" cy="72.6" rx="3.2" ry="2.7" transform="rotate(161 620.5 72.6)" fill="#6a3c12" opacity="0.47"/>
<ellipse cx="453.1" cy="82.6" rx="3.6" ry="2.2" transform="rotate(44 453.1 82.6)" fill="#7a4a18" opacity="0.18"/>
<ellipse cx="552.7" cy="17.4" rx="2.4" ry="3.1" transform="rotate(142 552.7 17.4)" fill="#6a3c12" opacity="0.32"/>
<ellipse cx="664.2" cy="30.3" rx="3.0" ry="2.9" transform="rotate(18 664.2 30.3)" fill="#5a3010" opacity="0.14"/>
<ellipse cx="416.3" cy="81.0" rx="3.9" ry="2.7" transform="rotate(123 416.3 81.0)" fill="#6a3c12" opacity="0.22"/>
<ellipse cx="510.8" cy="40.5" rx="3.9" ry="3.0" transform="rotate(82 510.8 40.5)" fill="#6a3c12" opacity="0.42"/>
<ellipse cx="557.5" cy="128.2" rx="4.5" ry="2.5" transform="rotate(108 557.5 128.2)" fill="#84541c" opacity="0.27"/>
<ellipse cx="554.6" cy="161.3" rx="3.6" ry="1.5" transform="rotate(75 554.6 161.3)" fill="#84541c" opacity="0.47"/>
<ellipse cx="545.7" cy="9.0" rx="3.7" ry="2.2" transform="rotate(17 545.7 9.0)" fill="#7a4a18" opacity="0.14"/>
<ellipse cx="418.7" cy="33.7" rx="3.4" ry="3.1" transform="rotate(140 418.7 33.7)" fill="#6a3c12" opacity="0.42"/>
<ellipse cx="594.1" cy="103.7" rx="3.1" ry="2.4" transform="rotate(68 594.1 103.7)" fill="#7a4a18" opacity="0.31"/>
<ellipse cx="525.1" cy="145.2" rx="4.0" ry="2.6" transform="rotate(140 525.1 145.2)" fill="#5a3010" opacity="0.12"/>
<ellipse cx="530.4" cy="24.6" rx="2.7" ry="1.8" transform="rotate(162 530.4 24.6)" fill="#5a3010" opacity="0.12"/>
<ellipse cx="666.8" cy="66.7" rx="3.1" ry="1.6" transform="rotate(109 666.8 66.7)" fill="#7a4a18" opacity="0.10"/>
<ellipse cx="653.1" cy="7.1" rx="2.8" ry="2.9" transform="rotate(18 653.1 7.1)" fill="#6a3c12" opacity="0.23"/>
<ellipse cx="601.5" cy="98.9" rx="2.7" ry="1.6" transform="rotate(167 601.5 98.9)" fill="#84541c" opacity="0.27"/>
<ellipse cx="665.2" cy="136.5" rx="2.3" ry="3.1" transform="rotate(11 665.2 136.5)" fill="#5a3010" opacity="0.35"/>
<ellipse cx="564.5" cy="40.7" rx="3.9" ry="2.3" transform="rotate(22 564.5 40.7)" fill="#6a3c12" opacity="0.47"/>
<ellipse cx="662.0" cy="150.1" rx="3.6" ry="2.4" transform="rotate(97 662.0 150.1)" fill="#5a3010" opacity="0.44"/>
<ellipse cx="600.3" cy="72.0" rx="3.0" ry="2.5" transform="rotate(16 600.3 72.0)" fill="#7a4a18" opacity="0.29"/>
<ellipse cx="413.7" cy="44.7" rx="3.6" ry="1.8" transform="rotate(87 413.7 44.7)" fill="#7a4a18" opacity="0.37"/>
<ellipse cx="425.0" cy="8.3" rx="2.8" ry="1.7" transform="rotate(78 425.0 8.3)" fill="#6a3c12" opacity="0.41"/>
<ellipse cx="606.3" cy="73.5" rx="4.1" ry="3.0" transform="rotate(130 606.3 73.5)" fill="#6a3c12" opacity="0.34"/>
<ellipse cx="546.7" cy="159.1" rx="2.7" ry="2.1" transform="rotate(115 546.7 159.1)" fill="#6a3c12" opacity="0.23"/>
<ellipse cx="511.8" cy="142.1" rx="3.0" ry="2.7" transform="rotate(174 511.8 142.1)" fill="#6a3c12" opacity="0.46"/>
<ellipse cx="559.8" cy="131.6" rx="3.2" ry="1.8" transform="rotate(116 559.8 131.6)" fill="#6a3c12" opacity="0.37"/>
<ellipse cx="472.7" cy="102.6" rx="4.3" ry="2.7" transform="rotate(89 472.7 102.6)" fill="#7a4a18" opacity="0.27"/>
<ellipse cx="653.2" cy="55.0" rx="4.4" ry="2.7" transform="rotate(78 653.2 55.0)" fill="#84541c" opacity="0.47"/>
<ellipse cx="517.9" cy="164.5" rx="2.1" ry="3.0" transform="rotate(14 517.9 164.5)" fill="#6a3c12" opacity="0.41"/>
<ellipse cx="423.9" cy="93.8" rx="4.1" ry="2.2" transform="rotate(179 423.9 93.8)" fill="#5a3010" opacity="0.28"/>
<ellipse cx="605.4" cy="94.0" rx="2.6" ry="2.6" transform="rotate(21 605.4 94.0)" fill="#7a4a18" opacity="0.17"/>
<ellipse cx="593.2" cy="64.4" rx="3.1" ry="1.7" transform="rotate(85 593.2 64.4)" fill="#6a3c12" opacity="0.42"/>
<ellipse cx="526.1" cy="12.6" rx="4.1" ry="2.8" transform="rotate(35 526.1 12.6)" fill="#84541c" opacity="0.35"/>
<ellipse cx="556.9" cy="11.2" rx="3.7" ry="1.7" transform="rotate(162 556.9 11.2)" fill="#6a3c12" opacity="0.44"/>
<ellipse cx="442.0" cy="102.3" rx="3.7" ry="3.0" transform="rotate(149 442.0 102.3)" fill="#6a3c12" opacity="0.47"/>
<ellipse cx="545.3" cy="143.5" rx="4.2" ry="2.6" transform="rotate(107 545.3 143.5)" fill="#7a4a18" opacity="0.12"/>
<ellipse cx="411.0" cy="159.3" rx="4.0" ry="2.2" transform="rotate(40 411.0 159.3)" fill="#7a4a18" opacity="0.26"/>
<ellipse cx="565.3" cy="128.4" rx="2.8" ry="2.7" transform="rotate(102 565.3 128.4)" fill="#7a4a18" opacity="0.46"/>
<ellipse cx="548.0" cy="166.2" rx="3.0" ry="2.4" transform="rotate(10 548.0 166.2)" fill="#5a3010" opacity="0.26"/>
<ellipse cx="445.8" cy="99.8" rx="3.0" ry="2.3" transform="rotate(52 445.8 99.8)" fill="#6a3c12" opacity="0.38"/>
<ellipse cx="623.3" cy="75.7" rx="3.6" ry="1.6" transform="rotate(117 623.3 75.7)" fill="#84541c" opacity="0.41"/>
<ellipse cx="503.7" cy="116.2" rx="3.4" ry="2.0" transform="rotate(164 503.7 116.2)" fill="#84541c" opacity="0.27"/>
<ellipse cx="414.0" cy="21.0" rx="4.2" ry="1.6" transform="rotate(58 414.0 21.0)" fill="#5a3010" opacity="0.16"/>
<ellipse cx="410.5" cy="120.2" rx="3.5" ry="2.4" transform="rotate(130 410.5 120.2)" fill="#6a3c12" opacity="0.47"/>
<ellipse cx="509.1" cy="133.7" rx="4.4" ry="1.9" transform="rotate(51 509.1 133.7)" fill="#7a4a18" opacity="0.39"/>
<ellipse cx="435.3" cy="75.2" rx="4.0" ry="2.2" transform="rotate(80 435.3 75.2)" fill="#6a3c12" opacity="0.44"/>
<ellipse cx="467.5" cy="108.7" rx="3.9" ry="2.7" transform="rotate(66 467.5 108.7)" fill="#6a3c12" opacity="0.47"/>
<ellipse cx="600.8" cy="105.4" rx="3.7" ry="2.8" transform="rotate(122 600.8 105.4)" fill="#5a3010" opacity="0.44"/>
<ellipse cx="503.9" cy="47.9" rx="3.9" ry="2.2" transform="rotate(27 503.9 47.9)" fill="#6a3c12" opacity="0.47"/>
<ellipse cx="657.4" cy="65.4" rx="3.1" ry="2.4" transform="rotate(139 657.4 65.4)" fill="#84541c" opacity="0.35"/>
<ellipse cx="660.2" cy="13.3" rx="3.5" ry="2.7" transform="rotate(108 660.2 13.3)" fill="#5a3010" opacity="0.10"/>
<ellipse cx="590.4" cy="64.2" rx="3.5" ry="2.1" transform="rotate(99 590.4 64.2)" fill="#5a3010" opacity="0.39"/>
<ellipse cx="655.2" cy="76.6" rx="4.3" ry="2.9" transform="rotate(122 655.2 76.6)" fill="#6a3c12" opacity="0.41"/>
<ellipse cx="408.5" cy="95.0" rx="3.4" ry="1.5" transform="rotate(84 408.5 95.0)" fill="#6a3c12" opacity="0.10"/>
<ellipse cx="553.2" cy="32.1" rx="2.7" ry="2.1" transform="rotate(75 553.2 32.1)" fill="#5a3010" opacity="0.24"/>
<ellipse cx="665.2" cy="56.6" rx="2.5" ry="1.5" transform="rotate(48 665.2 56.6)" fill="#7a4a18" opacity="0.11"/>
<ellipse cx="425.2" cy="13.3" rx="3.5" ry="1.6" transform="rotate(90 425.2 13.3)" fill="#84541c" opacity="0.44"/>
<ellipse cx="516.7" cy="39.8" rx="4.2" ry="2.6" transform="rotate(54 516.7 39.8)" fill="#7a4a18" opacity="0.27"/>
<ellipse cx="501.6" cy="117.9" rx="2.6" ry="1.8" transform="rotate(19 501.6 117.9)" fill="#7a4a18" opacity="0.33"/>
<ellipse cx="501.0" cy="112.8" rx="2.6" ry="3.0" transform="rotate(141 501.0 112.8)" fill="#5a3010" opacity="0.27"/>
<ellipse cx="432.2" cy="100.8" rx="3.8" ry="2.1" transform="rotate(68 432.2 100.8)" fill="#6a3c12" opacity="0.46"/>
<ellipse cx="604.9" cy="67.3" rx="2.1" ry="2.8" transform="rotate(77 604.9 67.3)" fill="#6a3c12" opacity="0.47"/>
<ellipse cx="496.8" cy="111.2" rx="2.5" ry="3.0" transform="rotate(83 496.8 111.2)" fill="#7a4a18" opacity="0.31"/>
<ellipse cx="436.9" cy="81.6" rx="2.4" ry="2.4" transform="rotate(126 436.9 81.6)" fill="#6a3c12" opacity="0.26"/>
<ellipse cx="518.2" cy="166.0" rx="2.0" ry="2.5" transform="rotate(125 518.2 166.0)" fill="#6a3c12" opacity="0.38"/>
<ellipse cx="664.6" cy="133.4" rx="3.8" ry="2.2" transform="rotate(84 664.6 133.4)" fill="#84541c" opacity="0.38"/>
<ellipse cx="611.0" cy="91.2" rx="2.8" ry="3.1" transform="rotate(50 611.0 91.2)" fill="#84541c" opacity="0.11"/>
<ellipse cx="406.1" cy="156.3" rx="3.4" ry="1.8" transform="rotate(80 406.1 156.3)" fill="#6a3c12" opacity="0.13"/>
<ellipse cx="525.2" cy="4.8" rx="4.3" ry="1.6" transform="rotate(72 525.2 4.8)" fill="#84541c" opacity="0.41"/>
<ellipse cx="415.6" cy="157.6" rx="4.4" ry="2.2" transform="rotate(106 415.6 157.6)" fill="#5a3010" opacity="0.38"/>
<ellipse cx="408.2" cy="109.9" rx="2.5" ry="1.7" transform="rotate(90 408.2 109.9)" fill="#6a3c12" opacity="0.35"/>
<ellipse cx="518.4" cy="168.3" rx="2.9" ry="1.8" transform="rotate(31 518.4 168.3)" fill="#84541c" opacity="0.41"/>
<ellipse cx="520.4" cy="32.6" rx="3.3" ry="2.1" transform="rotate(90 520.4 32.6)" fill="#7a4a18" opacity="0.28"/>
<ellipse cx="443.4" cy="83.4" rx="3.2" ry="2.6" transform="rotate(132 443.4 83.4)" fill="#5a3010" opacity="0.20"/>
<ellipse cx="439.3" cy="100.0" rx="3.9" ry="1.6" transform="rotate(122 439.3 100.0)" fill="#6a3c12" opacity="0.41"/>
<ellipse cx="603.8" cy="66.8" rx="4.2" ry="2.6" transform="rotate(63 603.8 66.8)" fill="#6a3c12" opacity="0.47"/>
<ellipse cx="495.4" cy="107.4" rx="3.8" ry="2.0" transform="rotate(76 495.4 107.4)" fill="#84541c" opacity="0.22"/>
<ellipse cx="468.2" cy="85.9" rx="2.9" ry="2.5" transform="rotate(47 468.2 85.9)" fill="#5a3010" opacity="0.10"/>
<ellipse cx="562.9" cy="36.6" rx="2.6" ry="1.8" transform="rotate(1 562.9 36.6)" fill="#7a4a18" opacity="0.44"/>
<ellipse cx="653.3" cy="48.8" rx="2.3" ry="2.1" transform="rotate(18 653.3 48.8)" fill="#84541c" opacity="0.47"/>
<ellipse cx="565.4" cy="48.8" rx="2.8" ry="2.2" transform="rotate(116 565.4 48.8)" fill="#6a3c12" opacity="0.35"/>
<ellipse cx="658.0" cy="37.4" rx="2.4" ry="2.0" transform="rotate(75 658.0 37.4)" fill="#5a3010" opacity="0.35"/>
<ellipse cx="528.4" cy="9.8" rx="3.3" ry="1.6" transform="rotate(87 528.4 9.8)" fill="#5a3010" opacity="0.30"/>
<ellipse cx="525.9" cy="4.1" rx="4.3" ry="2.4" transform="rotate(176 525.9 4.1)" fill="#7a4a18" opacity="0.41"/>
<ellipse cx="476.8" cy="73.1" rx="2.1" ry="1.7" transform="rotate(1 476.8 73.1)" fill="#84541c" opacity="0.28"/>
<ellipse cx="420.3" cy="29.8" rx="2.5" ry="2.1" transform="rotate(18 420.3 29.8)" fill="#7a4a18" opacity="0.44"/>
<ellipse cx="613.5" cy="77.9" rx="2.1" ry="2.7" transform="rotate(66 613.5 77.9)" fill="#6a3c12" opacity="0.29"/>
<ellipse cx="563.3" cy="131.9" rx="2.2" ry="2.5" transform="rotate(111 563.3 131.9)" fill="#84541c" opacity="0.46"/>
<ellipse cx="423.4" cy="5.7" rx="2.8" ry="1.9" transform="rotate(155 423.4 5.7)" fill="#6a3c12" opacity="0.38"/>
<ellipse cx="505.0" cy="60.0" rx="3.1" ry="3.1" transform="rotate(175 505.0 60.0)" fill="#84541c" opacity="0.22"/>
<ellipse cx="666.7" cy="134.4" rx="2.5" ry="2.6" transform="rotate(31 666.7 134.4)" fill="#5a3010" opacity="0.32"/>
<ellipse cx="540.8" cy="167.4" rx="3.1" ry="1.8" transform="rotate(30 540.8 167.4)" fill="#6a3c12" opacity="0.10"/>
<ellipse cx="507.8" cy="47.7" rx="2.6" ry="2.7" transform="rotate(144 507.8 47.7)" fill="#5a3010" opacity="0.38"/>
<ellipse cx="442.2" cy="83.4" rx="3.2" ry="2.3" transform="rotate(3 442.2 83.4)" fill="#6a3c12" opacity="0.20"/>
<ellipse cx="492.2" cy="61.4" rx="3.5" ry="1.9" transform="rotate(96 492.2 61.4)" fill="#5a3010" opacity="0.41"/>
<ellipse cx="537.9" cy="6.5" rx="4.4" ry="1.9" transform="rotate(77 537.9 6.5)" fill="#7a4a18" opacity="0.10"/>
<ellipse cx="570.4" cy="47.5" rx="2.8" ry="1.6" transform="rotate(36 570.4 47.5)" fill="#84541c" opacity="0.47"/>
<ellipse cx="509.9" cy="129.5" rx="2.5" ry="2.4" transform="rotate(124 509.9 129.5)" fill="#6a3c12" opacity="0.34"/>
<ellipse cx="566.3" cy="117.7" rx="2.3" ry="2.4" transform="rotate(40 566.3 117.7)" fill="#6a3c12" opacity="0.26"/>
<ellipse cx="455.9" cy="91.5" rx="2.8" ry="2.6" transform="rotate(27 455.9 91.5)" fill="#7a4a18" opacity="0.10"/>
<ellipse cx="576.2" cy="106.5" rx="3.2" ry="3.0" transform="rotate(101 576.2 106.5)" fill="#7a4a18" opacity="0.15"/>
<ellipse cx="409.1" cy="40.1" rx="2.2" ry="1.6" transform="rotate(136 409.1 40.1)" fill="#6a3c12" opacity="0.23"/>
<ellipse cx="524.7" cy="8.8" rx="3.2" ry="1.5" transform="rotate(79 524.7 8.8)" fill="#6a3c12" opacity="0.42"/>
<ellipse cx="582.4" cy="70.0" rx="2.9" ry="2.4" transform="rotate(113 582.4 70.0)" fill="#84541c" opacity="0.14"/>
<ellipse cx="580.9" cy="111.8" rx="4.0" ry="1.7" transform="rotate(159 580.9 111.8)" fill="#5a3010" opacity="0.34"/>
<ellipse cx="550.4" cy="168.3" rx="2.2" ry="2.5" transform="rotate(41 550.4 168.3)" fill="#7a4a18" opacity="0.35"/>
<ellipse cx="665.5" cy="150.8" rx="4.2" ry="2.4" transform="rotate(177 665.5 150.8)" fill="#84541c" opacity="0.35"/>
<ellipse cx="410.0" cy="138.8" rx="2.2" ry="2.5" transform="rotate(17 410.0 138.8)" fill="#6a3c12" opacity="0.38"/>
<ellipse cx="418.4" cy="164.4" rx="3.7" ry="2.6" transform="rotate(37 418.4 164.4)" fill="#6a3c12" opacity="0.44"/>
<ellipse cx="557.6" cy="137.5" rx="4.5" ry="2.7" transform="rotate(85 557.6 137.5)" fill="#6a3c12" opacity="0.42"/>
<ellipse cx="507.3" cy="133.1" rx="3.8" ry="2.5" transform="rotate(4 507.3 133.1)" fill="#5a3010" opacity="0.44"/>
<ellipse cx="582.8" cy="112.1" rx="3.5" ry="2.1" transform="rotate(46 582.8 112.1)" fill="#84541c" opacity="0.39"/>
<ellipse cx="427.8" cy="92.2" rx="3.3" ry="2.9" transform="rotate(121 427.8 92.2)" fill="#84541c" opacity="0.25"/>
<ellipse cx="506.6" cy="49.4" rx="3.6" ry="2.4" transform="rotate(78 506.6 49.4)" fill="#6a3c12" opacity="0.38"/>
<ellipse cx="561.1" cy="46.0" rx="3.6" ry="2.9" transform="rotate(171 561.1 46.0)" fill="#7a4a18" opacity="0.33"/>
<ellipse cx="624.9" cy="101.3" rx="2.7" ry="3.0" transform="rotate(49 624.9 101.3)" fill="#6a3c12" opacity="0.44"/>
<ellipse cx="552.1" cy="6.9" rx="2.5" ry="2.9" transform="rotate(141 552.1 6.9)" fill="#5a3010" opacity="0.35"/>
<ellipse cx="663.6" cy="107.7" rx="3.5" ry="1.9" transform="rotate(13 663.6 107.7)" fill="#6a3c12" opacity="0.41"/>
<ellipse cx="647.3" cy="6.1" rx="2.1" ry="2.2" transform="rotate(58 647.3 6.1)" fill="#84541c" opacity="0.41"/>
<ellipse cx="410.0" cy="154.3" rx="3.4" ry="3.1" transform="rotate(138 410.0 154.3)" fill="#6a3c12" opacity="0.26"/>
<ellipse cx="553.3" cy="35.0" rx="3.5" ry="2.2" transform="rotate(90 553.3 35.0)" fill="#7a4a18" opacity="0.20"/>
<ellipse cx="422.1" cy="84.9" rx="2.5" ry="1.8" transform="rotate(69 422.1 84.9)" fill="#84541c" opacity="0.15"/>
<ellipse cx="654.5" cy="53.6" rx="2.2" ry="2.1" transform="rotate(141 654.5 53.6)" fill="#5a3010" opacity="0.44"/>
<ellipse cx="670.9" cy="142.3" rx="3.4" ry="2.5" transform="rotate(99 670.9 142.3)" fill="#7a4a18" opacity="0.20"/>
<ellipse cx="664.2" cy="36.7" rx="2.9" ry="2.3" transform="rotate(26 664.2 36.7)" fill="#6a3c12" opacity="0.14"/>
<ellipse cx="507.0" cy="123.1" rx="3.7" ry="2.3" transform="rotate(177 507.0 123.1)" fill="#7a4a18" opacity="0.30"/>
<ellipse cx="408.1" cy="41.1" rx="3.8" ry="3.1" transform="rotate(113 408.1 41.1)" fill="#5a3010" opacity="0.20"/>
<ellipse cx="449.1" cy="75.1" rx="3.3" ry="2.2" transform="rotate(53 449.1 75.1)" fill="#5a3010" opacity="0.41"/>
<ellipse cx="516.0" cy="126.6" rx="2.5" ry="2.6" transform="rotate(85 516.0 126.6)" fill="#7a4a18" opacity="0.14"/>
<ellipse cx="461.1" cy="85.4" rx="2.8" ry="1.7" transform="rotate(34 461.1 85.4)" fill="#6a3c12" opacity="0.10"/>
<ellipse cx="515.8" cy="52.3" rx="2.7" ry="2.2" transform="rotate(124 515.8 52.3)" fill="#6a3c12" opacity="0.10"/>
<ellipse cx="533.4" cy="8.2" rx="2.6" ry="1.8" transform="rotate(149 533.4 8.2)" fill="#84541c" opacity="0.16"/>
<ellipse cx="486.1" cy="99.9" rx="4.3" ry="2.4" transform="rotate(106 486.1 99.9)" fill="#5a3010" opacity="0.11"/>
<ellipse cx="490.6" cy="111.6" rx="3.6" ry="1.7" transform="rotate(35 490.6 111.6)" fill="#6a3c12" opacity="0.39"/>
<ellipse cx="464.3" cy="78.3" rx="4.2" ry="3.0" transform="rotate(34 464.3 78.3)" fill="#7a4a18" opacity="0.23"/>
<ellipse cx="532.4" cy="18.7" rx="4.0" ry="2.0" transform="rotate(126 532.4 18.7)" fill="#84541c" opacity="0.14"/>
<ellipse cx="527.8" cy="18.0" rx="3.7" ry="2.2" transform="rotate(37 527.8 18.0)" fill="#7a4a18" opacity="0.27"/>
<ellipse cx="507.7" cy="113.7" rx="2.9" ry="3.1" transform="rotate(176 507.7 113.7)" fill="#6a3c12" opacity="0.12"/>
<ellipse cx="562.6" cy="131.4" rx="2.1" ry="2.9" transform="rotate(125 562.6 131.4)" fill="#7a4a18" opacity="0.43"/>
<ellipse cx="563.8" cy="43.0" rx="2.6" ry="2.4" transform="rotate(50 563.8 43.0)" fill="#6a3c12" opacity="0.42"/>
<ellipse cx="658.3" cy="70.9" rx="3.8" ry="3.0" transform="rotate(67 658.3 70.9)" fill="#5a3010" opacity="0.32"/>
<ellipse cx="545.0" cy="162.5" rx="3.0" ry="1.5" transform="rotate(9 545.0 162.5)" fill="#5a3010" opacity="0.17"/>
<ellipse cx="577.2" cy="62.5" rx="2.8" ry="1.6" transform="rotate(146 577.2 62.5)" fill="#6a3c12" opacity="0.31"/>
<ellipse cx="412.1" cy="93.9" rx="4.4" ry="2.0" transform="rotate(94 412.1 93.9)" fill="#6a3c12" opacity="0.10"/>
<ellipse cx="646.5" cy="5.4" rx="2.6" ry="2.8" transform="rotate(67 646.5 5.4)" fill="#7a4a18" opacity="0.44"/>
<ellipse cx="527.0" cy="18.2" rx="3.3" ry="2.5" transform="rotate(38 527.0 18.2)" fill="#5a3010" opacity="0.27"/>
<ellipse cx="515.7" cy="121.9" rx="2.1" ry="1.9" transform="rotate(115 515.7 121.9)" fill="#7a4a18" opacity="0.10"/>
<ellipse cx="661.4" cy="149.7" rx="3.0" ry="1.7" transform="rotate(110 661.4 149.7)" fill="#84541c" opacity="0.47"/>
<ellipse cx="406.0" cy="68.2" rx="3.9" ry="3.2" transform="rotate(6 406.0 68.2)" fill="#6a3c12" opacity="0.14"/>
<ellipse cx="507.3" cy="104.2" rx="4.3" ry="3.1" transform="rotate(6 507.3 104.2)" fill="#5a3010" opacity="0.10"/>
<ellipse cx="407.6" cy="55.8" rx="3.9" ry="3.0" transform="rotate(98 407.6 55.8)" fill="#5a3010" opacity="0.23"/>
<ellipse cx="658.7" cy="17.4" rx="2.9" ry="3.1" transform="rotate(82 658.7 17.4)" fill="#84541c" opacity="0.18"/>
<ellipse cx="549.4" cy="150.7" rx="2.6" ry="2.9" transform="rotate(143 549.4 150.7)" fill="#5a3010" opacity="0.29"/>
<ellipse cx="602.5" cy="69.7" rx="3.9" ry="2.7" transform="rotate(65 602.5 69.7)" fill="#84541c" opacity="0.39"/>
<ellipse cx="497.5" cy="73.1" rx="2.8" ry="2.1" transform="rotate(59 497.5 73.1)" fill="#84541c" opacity="0.10"/>
<ellipse cx="512.2" cy="130.7" rx="3.1" ry="1.6" transform="rotate(39 512.2 130.7)" fill="#5a3010" opacity="0.27"/>
<ellipse cx="507.1" cy="117.4" rx="2.3" ry="1.5" transform="rotate(60 507.1 117.4)" fill="#6a3c12" opacity="0.19"/>
<ellipse cx="662.4" cy="21.7" rx="3.2" ry="2.8" transform="rotate(5 662.4 21.7)" fill="#6a3c12" opacity="0.12"/>
<ellipse cx="595.1" cy="73.4" rx="2.2" ry="2.8" transform="rotate(92 595.1 73.4)" fill="#7a4a18" opacity="0.20"/>
<ellipse cx="410.8" cy="137.1" rx="4.4" ry="2.1" transform="rotate(26 410.8 137.1)" fill="#7a4a18" opacity="0.41"/>
<ellipse cx="563.2" cy="40.8" rx="2.2" ry="1.9" transform="rotate(39 563.2 40.8)" fill="#7a4a18" opacity="0.44"/>
<ellipse cx="446.4" cy="79.5" rx="4.0" ry="2.2" transform="rotate(50 446.4 79.5)" fill="#7a4a18" opacity="0.31"/>
<ellipse cx="413.3" cy="145.2" rx="2.6" ry="2.0" transform="rotate(90 413.3 145.2)" fill="#6a3c12" opacity="0.41"/>
<ellipse cx="428.3" cy="80.2" rx="3.1" ry="1.8" transform="rotate(80 428.3 80.2)" fill="#5a3010" opacity="0.31"/>
<ellipse cx="566.7" cy="115.2" rx="4.1" ry="2.1" transform="rotate(15 566.7 115.2)" fill="#84541c" opacity="0.20"/>
<ellipse cx="517.2" cy="168.5" rx="4.4" ry="2.6" transform="rotate(116 517.2 168.5)" fill="#5a3010" opacity="0.43"/>
<ellipse cx="664.8" cy="109.9" rx="4.2" ry="2.8" transform="rotate(110 664.8 109.9)" fill="#7a4a18" opacity="0.38"/>
<ellipse cx="548.0" cy="27.0" rx="2.2" ry="2.3" transform="rotate(100 548.0 27.0)" fill="#6a3c12" opacity="0.16"/>
<ellipse cx="424.8" cy="15.7" rx="2.9" ry="3.1" transform="rotate(141 424.8 15.7)" fill="#5a3010" opacity="0.42"/>
<ellipse cx="519.0" cy="25.4" rx="2.1" ry="2.4" transform="rotate(17 519.0 25.4)" fill="#7a4a18" opacity="0.43"/>
<ellipse cx="554.6" cy="146.4" rx="3.8" ry="2.9" transform="rotate(94 554.6 146.4)" fill="#7a4a18" opacity="0.41"/>
<ellipse cx="415.7" cy="106.6" rx="3.9" ry="1.5" transform="rotate(124 415.7 106.6)" fill="#5a3010" opacity="0.43"/>
<ellipse cx="664.4" cy="52.7" rx="2.7" ry="2.1" transform="rotate(107 664.4 52.7)" fill="#5a3010" opacity="0.14"/>
<ellipse cx="527.2" cy="21.3" rx="3.8" ry="2.3" transform="rotate(158 527.2 21.3)" fill="#5a3010" opacity="0.23"/>
<ellipse cx="524.4" cy="34.9" rx="4.2" ry="2.1" transform="rotate(172 524.4 34.9)" fill="#5a3010" opacity="0.15"/>
<ellipse cx="654.3" cy="75.4" rx="2.4" ry="2.0" transform="rotate(67 654.3 75.4)" fill="#5a3010" opacity="0.44"/>
<ellipse cx="557.9" cy="29.5" rx="4.4" ry="2.7" transform="rotate(169 557.9 29.5)" fill="#7a4a18" opacity="0.38"/>
<ellipse cx="479.0" cy="65.8" rx="3.4" ry="1.8" transform="rotate(40 479.0 65.8)" fill="#84541c" opacity="0.47"/>
<ellipse cx="411.0" cy="143.0" rx="3.3" ry="2.5" transform="rotate(7 411.0 143.0)" fill="#84541c" opacity="0.35"/>
<ellipse cx="521.4" cy="28.1" rx="2.7" ry="2.5" transform="rotate(11 521.4 28.1)" fill="#6a3c12" opacity="0.31"/>
<ellipse cx="445.2" cy="92.3" rx="4.1" ry="1.6" transform="rotate(64 445.2 92.3)" fill="#7a4a18" opacity="0.17"/>
<ellipse cx="455.8" cy="105.6" rx="2.1" ry="1.8" transform="rotate(142 455.8 105.6)" fill="#84541c" opacity="0.47"/>
<ellipse cx="417.5" cy="74.6" rx="2.1" ry="1.7" transform="rotate(127 417.5 74.6)" fill="#7a4a18" opacity="0.39"/>
<ellipse cx="454.8" cy="84.6" rx="3.1" ry="1.7" transform="rotate(36 454.8 84.6)" fill="#84541c" opacity="0.11"/>
<ellipse cx="571.7" cy="69.1" rx="2.8" ry="2.7" transform="rotate(34 571.7 69.1)" fill="#84541c" opacity="0.10"/>
<ellipse cx="590.4" cy="105.7" rx="2.0" ry="3.0" transform="rotate(60 590.4 105.7)" fill="#5a3010" opacity="0.33"/>
<ellipse cx="659.7" cy="58.6" rx="2.4" ry="3.0" transform="rotate(145 659.7 58.6)" fill="#7a4a18" opacity="0.29"/>
<ellipse cx="655.2" cy="50.7" rx="3.2" ry="2.3" transform="rotate(88 655.2 50.7)" fill="#84541c" opacity="0.41"/>
<ellipse cx="545.0" cy="143.9" rx="3.8" ry="2.3" transform="rotate(170 545.0 143.9)" fill="#7a4a18" opacity="0.12"/>
<ellipse cx="419.0" cy="30.2" rx="3.6" ry="2.7" transform="rotate(150 419.0 30.2)" fill="#6a3c12" opacity="0.39"/>
<ellipse cx="664.9" cy="61.5" rx="3.0" ry="3.0" transform="rotate(154 664.9 61.5)" fill="#84541c" opacity="0.14"/>
<ellipse cx="653.8" cy="27.3" rx="2.8" ry="2.9" transform="rotate(138 653.8 27.3)" fill="#5a3010" opacity="0.44"/>
<ellipse cx="407.1" cy="77.3" rx="2.2" ry="2.7" transform="rotate(138 407.1 77.3)" fill="#84541c" opacity="0.10"/>
<ellipse cx="579.8" cy="111.5" rx="3.1" ry="2.9" transform="rotate(107 579.8 111.5)" fill="#5a3010" opacity="0.33"/>
<ellipse cx="431.4" cy="90.8" rx="3.6" ry="2.8" transform="rotate(69 431.4 90.8)" fill="#6a3c12" opacity="0.17"/>
<ellipse cx="571.6" cy="54.4" rx="4.3" ry="2.6" transform="rotate(90 571.6 54.4)" fill="#84541c" opacity="0.37"/>
<ellipse cx="494.5" cy="57.8" rx="2.6" ry="1.9" transform="rotate(159 494.5 57.8)" fill="#6a3c12" opacity="0.46"/>
<ellipse cx="520.8" cy="149.3" rx="2.7" ry="1.7" transform="rotate(149 520.8 149.3)" fill="#6a3c12" opacity="0.29"/>
<ellipse cx="490.9" cy="64.5" rx="3.6" ry="2.9" transform="rotate(41 490.9 64.5)" fill="#84541c" opacity="0.37"/>
<ellipse cx="415.7" cy="54.8" rx="2.1" ry="1.7" transform="rotate(148 415.7 54.8)" fill="#6a3c12" opacity="0.47"/>
<ellipse cx="604.2" cy="67.1" rx="4.1" ry="3.1" transform="rotate(68 604.2 67.1)" fill="#5a3010" opacity="0.47"/>
<ellipse cx="462.4" cy="75.0" rx="3.2" ry="2.5" transform="rotate(73 462.4 75.0)" fill="#84541c" opacity="0.35"/>
<ellipse cx="611.2" cy="98.7" rx="4.5" ry="2.8" transform="rotate(173 611.2 98.7)" fill="#6a3c12" opacity="0.31"/>
<ellipse cx="656.9" cy="30.3" rx="3.3" ry="2.6" transform="rotate(27 656.9 30.3)" fill="#84541c" opacity="0.38"/>
<ellipse cx="412.8" cy="55.3" rx="3.3" ry="1.7" transform="rotate(119 412.8 55.3)" fill="#6a3c12" opacity="0.38"/>
<ellipse cx="669.5" cy="23.6" rx="3.3" ry="2.4" transform="rotate(152 669.5 23.6)" fill="#6a3c12" opacity="0.10"/>
<ellipse cx="413.1" cy="33.8" rx="3.1" ry="2.9" transform="rotate(119 413.1 33.8)" fill="#7a4a18" opacity="0.28"/>
<ellipse cx="527.2" cy="143.1" rx="2.8" ry="1.7" transform="rotate(152 527.2 143.1)" fill="#7a4a18" opacity="0.10"/>
<ellipse cx="407.7" cy="148.9" rx="2.4" ry="2.8" transform="rotate(78 407.7 148.9)" fill="#5a3010" opacity="0.22"/>
<ellipse cx="655.9" cy="29.0" rx="4.3" ry="3.1" transform="rotate(147 655.9 29.0)" fill="#7a4a18" opacity="0.41"/>
<ellipse cx="434.1" cy="79.6" rx="3.1" ry="1.8" transform="rotate(74 434.1 79.6)" fill="#5a3010" opacity="0.32"/>
<ellipse cx="654.4" cy="54.5" rx="3.0" ry="1.9" transform="rotate(152 654.4 54.5)" fill="#6a3c12" opacity="0.44"/>
<ellipse cx="582.5" cy="111.0" rx="2.7" ry="2.8" transform="rotate(17 582.5 111.0)" fill="#6a3c12" opacity="0.35"/>
<ellipse cx="598.5" cy="74.6" rx="3.6" ry="2.9" transform="rotate(133 598.5 74.6)" fill="#84541c" opacity="0.22"/>
<ellipse cx="422.6" cy="80.3" rx="3.3" ry="2.6" transform="rotate(108 422.6 80.3)" fill="#5a3010" opacity="0.26"/>
<ellipse cx="479.1" cy="110.7" rx="2.3" ry="2.9" transform="rotate(147 479.1 110.7)" fill="#7a4a18" opacity="0.47"/>
<ellipse cx="667.8" cy="72.8" rx="2.8" ry="1.7" transform="rotate(157 667.8 72.8)" fill="#5a3010" opacity="0.10"/>
<ellipse cx="447.1" cy="82.0" rx="4.3" ry="1.5" transform="rotate(63 447.1 82.0)" fill="#6a3c12" opacity="0.22"/>
<ellipse cx="504.5" cy="111.1" rx="2.6" ry="2.0" transform="rotate(73 504.5 111.1)" fill="#6a3c12" opacity="0.16"/>
<ellipse cx="662.4" cy="159.9" rx="4.4" ry="1.9" transform="rotate(20 662.4 159.9)" fill="#6a3c12" opacity="0.44"/>
<ellipse cx="466.0" cy="71.6" rx="2.2" ry="1.9" transform="rotate(5 466.0 71.6)" fill="#6a3c12" opacity="0.43"/>
<ellipse cx="504.9" cy="56.4" rx="3.7" ry="2.2" transform="rotate(2 504.9 56.4)" fill="#5a3010" opacity="0.31"/>
<ellipse cx="525.2" cy="166.2" rx="2.8" ry="1.9" transform="rotate(85 525.2 166.2)" fill="#7a4a18" opacity="0.19"/>
<ellipse cx="662.9" cy="104.8" rx="2.4" ry="3.1" transform="rotate(137 662.9 104.8)" fill="#84541c" opacity="0.44"/>
<ellipse cx="661.9" cy="100.4" rx="4.2" ry="3.1" transform="rotate(87 661.9 100.4)" fill="#7a4a18" opacity="0.46"/>
<ellipse cx="477.1" cy="67.4" rx="3.3" ry="3.0" transform="rotate(53 477.1 67.4)" fill="#84541c" opacity="0.44"/>
<ellipse cx="656.5" cy="62.8" rx="3.9" ry="2.9" transform="rotate(142 656.5 62.8)" fill="#6a3c12" opacity="0.38"/>
<ellipse cx="474.9" cy="109.3" rx="4.3" ry="2.4" transform="rotate(58 474.9 109.3)" fill="#84541c" opacity="0.47"/>
<ellipse cx="625.6" cy="75.6" rx="4.1" ry="2.8" transform="rotate(114 625.6 75.6)" fill="#5a3010" opacity="0.41"/>
<ellipse cx="657.4" cy="66.8" rx="3.7" ry="3.1" transform="rotate(96 657.4 66.8)" fill="#6a3c12" opacity="0.35"/>
<ellipse cx="423.5" cy="89.3" rx="3.9" ry="2.7" transform="rotate(41 423.5 89.3)" fill="#5a3010" opacity="0.16"/>
<ellipse cx="601.0" cy="69.5" rx="2.8" ry="2.1" transform="rotate(88 601.0 69.5)" fill="#84541c" opacity="0.38"/>
<ellipse cx="420.6" cy="89.2" rx="3.2" ry="2.5" transform="rotate(40 420.6 89.2)" fill="#7a4a18" opacity="0.14"/>
<ellipse cx="652.4" cy="14.4" rx="3.3" ry="2.2" transform="rotate(47 652.4 14.4)" fill="#6a3c12" opacity="0.30"/>
<ellipse cx="667.5" cy="42.9" rx="2.6" ry="3.1" transform="rotate(112 667.5 42.9)" fill="#84541c" opacity="0.10"/>
<ellipse cx="501.8" cy="110.2" rx="3.8" ry="2.9" transform="rotate(96 501.8 110.2)" fill="#84541c" opacity="0.20"/>
<ellipse cx="544.8" cy="143.7" rx="2.2" ry="2.3" transform="rotate(110 544.8 143.7)" fill="#6a3c12" opacity="0.10"/>
<ellipse cx="516.6" cy="46.6" rx="2.1" ry="2.3" transform="rotate(168 516.6 46.6)" fill="#5a3010" opacity="0.16"/>
<ellipse cx="558.7" cy="19.4" rx="2.3" ry="1.7" transform="rotate(156 558.7 19.4)" fill="#5a3010" opacity="0.47"/>
<ellipse cx="558.6" cy="118.7" rx="4.4" ry="1.6" transform="rotate(20 558.6 118.7)" fill="#6a3c12" opacity="0.12"/>
<ellipse cx="466.4" cy="102.3" rx="3.3" ry="2.8" transform="rotate(76 466.4 102.3)" fill="#84541c" opacity="0.31"/>
<ellipse cx="545.0" cy="17.0" rx="4.1" ry="3.1" transform="rotate(75 545.0 17.0)" fill="#84541c" opacity="0.11"/>
<ellipse cx="656.7" cy="50.1" rx="3.9" ry="2.0" transform="rotate(130 656.7 50.1)" fill="#5a3010" opacity="0.38"/>
<ellipse cx="588.0" cy="73.3" rx="2.4" ry="2.1" transform="rotate(89 588.0 73.3)" fill="#7a4a18" opacity="0.12"/>
<ellipse cx="451.8" cy="72.3" rx="3.3" ry="2.7" transform="rotate(5 451.8 72.3)" fill="#84541c" opacity="0.47"/>
<ellipse cx="489.4" cy="74.8" rx="3.8" ry="1.8" transform="rotate(104 489.4 74.8)" fill="#6a3c12" opacity="0.14"/>
<ellipse cx="409.4" cy="41.3" rx="3.7" ry="3.2" transform="rotate(38 409.4 41.3)" fill="#6a3c12" opacity="0.23"/>
<ellipse cx="512.6" cy="139.8" rx="4.0" ry="1.6" transform="rotate(107 512.6 139.8)" fill="#6a3c12" opacity="0.39"/>
<ellipse cx="566.6" cy="44.2" rx="4.0" ry="2.0" transform="rotate(167 566.6 44.2)" fill="#7a4a18" opacity="0.46"/>
<ellipse cx="431.1" cy="75.1" rx="3.6" ry="2.3" transform="rotate(57 431.1 75.1)" fill="#84541c" opacity="0.46"/>
<ellipse cx="550.6" cy="10.7" rx="2.6" ry="2.0" transform="rotate(64 550.6 10.7)" fill="#7a4a18" opacity="0.29"/>
<ellipse cx="503.6" cy="116.9" rx="4.4" ry="1.6" transform="rotate(53 503.6 116.9)" fill="#84541c" opacity="0.27"/>
<ellipse cx="461.3" cy="104.4" rx="2.6" ry="1.7" transform="rotate(124 461.3 104.4)" fill="#5a3010" opacity="0.41"/>
<ellipse cx="513.9" cy="135.1" rx="4.2" ry="2.5" transform="rotate(71 513.9 135.1)" fill="#6a3c12" opacity="0.31"/>
<ellipse cx="558.5" cy="54.6" rx="3.4" ry="2.5" transform="rotate(119 558.5 54.6)" fill="#5a3010" opacity="0.10"/>
<ellipse cx="554.0" cy="125.8" rx="3.2" ry="3.0" transform="rotate(88 554.0 125.8)" fill="#7a4a18" opacity="0.14"/>
<ellipse cx="547.3" cy="157.8" rx="2.7" ry="1.8" transform="rotate(157 547.3 157.8)" fill="#6a3c12" opacity="0.26"/>
<ellipse cx="522.3" cy="142.8" rx="3.9" ry="2.9" transform="rotate(132 522.3 142.8)" fill="#6a3c12" opacity="0.16"/>
<ellipse cx="477.2" cy="78.7" rx="3.4" ry="2.7" transform="rotate(93 477.2 78.7)" fill="#6a3c12" opacity="0.13"/>
<ellipse cx="628.5" cy="75.8" rx="2.1" ry="2.5" transform="rotate(95 628.5 75.8)" fill="#6a3c12" opacity="0.44"/>
<ellipse cx="466.0" cy="105.7" rx="3.1" ry="1.9" transform="rotate(114 466.0 105.7)" fill="#7a4a18" opacity="0.41"/>
<ellipse cx="569.0" cy="120.6" rx="3.6" ry="3.0" transform="rotate(14 569.0 120.6)" fill="#6a3c12" opacity="0.37"/>
<ellipse cx="415.5" cy="162.6" rx="4.0" ry="2.9" transform="rotate(105 415.5 162.6)" fill="#84541c" opacity="0.37"/>
<ellipse cx="520.2" cy="165.2" rx="3.1" ry="2.5" transform="rotate(67 520.2 165.2)" fill="#5a3010" opacity="0.32"/>
<ellipse cx="653.9" cy="65.8" rx="3.3" ry="1.7" transform="rotate(44 653.9 65.8)" fill="#5a3010" opacity="0.47"/>
<ellipse cx="525.7" cy="33.3" rx="4.4" ry="2.9" transform="rotate(114 525.7 33.3)" fill="#6a3c12" opacity="0.14"/>
<ellipse cx="552.2" cy="4.5" rx="2.1" ry="3.0" transform="rotate(156 552.2 4.5)" fill="#5a3010" opacity="0.35"/>
<ellipse cx="475.2" cy="105.4" rx="3.3" ry="2.4" transform="rotate(122 475.2 105.4)" fill="#6a3c12" opacity="0.35"/>
<ellipse cx="598.2" cy="70.1" rx="2.6" ry="2.9" transform="rotate(170 598.2 70.1)" fill="#7a4a18" opacity="0.33"/>
<ellipse cx="662.0" cy="31.8" rx="4.5" ry="1.7" transform="rotate(6 662.0 31.8)" fill="#5a3010" opacity="0.20"/>
<ellipse cx="444.1" cy="86.5" rx="3.9" ry="2.4" transform="rotate(10 444.1 86.5)" fill="#7a4a18" opacity="0.11"/>
<ellipse cx="650.1" cy="100.9" rx="3.7" ry="2.3" transform="rotate(33 650.1 100.9)" fill="#7a4a18" opacity="0.47"/>
<ellipse cx="412.1" cy="97.6" rx="3.2" ry="2.8" transform="rotate(16 412.1 97.6)" fill="#7a4a18" opacity="0.16"/>
<ellipse cx="510.6" cy="46.8" rx="4.4" ry="2.2" transform="rotate(149 510.6 46.8)" fill="#5a3010" opacity="0.33"/>
<ellipse cx="413.7" cy="7.3" rx="2.5" ry="2.9" transform="rotate(120 413.7 7.3)" fill="#7a4a18" opacity="0.10"/>
<ellipse cx="501.8" cy="111.2" rx="3.6" ry="2.4" transform="rotate(106 501.8 111.2)" fill="#84541c" opacity="0.22"/>
<ellipse cx="456.1" cy="80.8" rx="3.4" ry="2.2" transform="rotate(153 456.1 80.8)" fill="#6a3c12" opacity="0.22"/>
<ellipse cx="570.5" cy="116.2" rx="4.4" ry="3.1" transform="rotate(47 570.5 116.2)" fill="#7a4a18" opacity="0.30"/>
<ellipse cx="441.7" cy="85.0" rx="2.3" ry="2.7" transform="rotate(142 441.7 85.0)" fill="#84541c" opacity="0.14"/>
<ellipse cx="519.0" cy="148.1" rx="3.3" ry="1.9" transform="rotate(20 519.0 148.1)" fill="#7a4a18" opacity="0.35"/>
<ellipse cx="481.0" cy="69.4" rx="4.2" ry="2.0" transform="rotate(72 481.0 69.4)" fill="#5a3010" opacity="0.35"/>
<ellipse cx="562.3" cy="134.1" rx="4.2" ry="1.9" transform="rotate(179 562.3 134.1)" fill="#5a3010" opacity="0.47"/>
<ellipse cx="611.0" cy="72.2" rx="4.1" ry="2.5" transform="rotate(38 611.0 72.2)" fill="#5a3010" opacity="0.43"/>
<ellipse cx="511.5" cy="165.1" rx="5.6" ry="2.7" transform="rotate(26 511.5 165.1)" fill="none" stroke="#1e0c03" stroke-width="0.9" opacity="0.8"/>
<ellipse cx="508.6" cy="114.3" rx="5.3" ry="2.4" transform="rotate(45 508.6 114.3)" fill="none" stroke="#1e0c03" stroke-width="0.9" opacity="0.8"/>
<ellipse cx="510.0" cy="147.8" rx="4.3" ry="3.2" transform="rotate(159 510.0 147.8)" fill="none" stroke="#1e0c03" stroke-width="0.9" opacity="0.8"/>
<ellipse cx="422.6" cy="15.1" rx="3.5" ry="2.4" transform="rotate(65 422.6 15.1)" fill="none" stroke="#1e0c03" stroke-width="0.9" opacity="0.8"/>
<ellipse cx="412.8" cy="148.3" rx="3.8" ry="2.8" transform="rotate(66 412.8 148.3)" fill="none" stroke="#1e0c03" stroke-width="0.9" opacity="0.8"/>
<ellipse cx="475.5" cy="64.5" rx="5.3" ry="3.2" transform="rotate(140 475.5 64.5)" fill="none" stroke="#1e0c03" stroke-width="0.9" opacity="0.8"/>
<ellipse cx="503.0" cy="40.4" rx="3.6" ry="2.6" transform="rotate(112 503.0 40.4)" fill="none" stroke="#1e0c03" stroke-width="0.9" opacity="0.8"/>
<ellipse cx="562.0" cy="46.8" rx="5.7" ry="2.8" transform="rotate(82 562.0 46.8)" fill="none" stroke="#1e0c03" stroke-width="0.9" opacity="0.8"/>
<ellipse cx="411.2" cy="95.4" rx="4.0" ry="3.3" transform="rotate(92 411.2 95.4)" fill="none" stroke="#1e0c03" stroke-width="0.9" opacity="0.8"/>
<ellipse cx="664.5" cy="21.3" rx="5.3" ry="2.7" transform="rotate(23 664.5 21.3)" fill="none" stroke="#1e0c03" stroke-width="0.9" opacity="0.8"/>
<ellipse cx="518.3" cy="154.4" rx="3.4" ry="3.9" transform="rotate(103 518.3 154.4)" fill="none" stroke="#1e0c03" stroke-width="0.9" opacity="0.8"/>
<ellipse cx="553.1" cy="156.9" rx="3.5" ry="2.3" transform="rotate(36 553.1 156.9)" fill="none" stroke="#1e0c03" stroke-width="0.9" opacity="0.8"/>
<ellipse cx="594.0" cy="108.9" rx="5.2" ry="2.7" transform="rotate(29 594.0 108.9)" fill="none" stroke="#1e0c03" stroke-width="0.9" opacity="0.8"/>
<ellipse cx="488.3" cy="62.8" rx="4.5" ry="2.2" transform="rotate(48 488.3 62.8)" fill="none" stroke="#1e0c03" stroke-width="0.9" opacity="0.8"/>
<ellipse cx="429.9" cy="69.9" rx="3.1" ry="2.7" transform="rotate(42 429.9 69.9)" fill="none" stroke="#1e0c03" stroke-width="0.9" opacity="0.8"/>
<ellipse cx="598.6" cy="110.1" rx="5.5" ry="3.8" transform="rotate(113 598.6 110.1)" fill="none" stroke="#1e0c03" stroke-width="0.9" opacity="0.8"/>
<ellipse cx="414.3" cy="26.0" rx="5.5" ry="3.2" transform="rotate(113 414.3 26.0)" fill="none" stroke="#1e0c03" stroke-width="0.9" opacity="0.8"/>
<ellipse cx="572.6" cy="116.3" rx="5.4" ry="3.5" transform="rotate(91 572.6 116.3)" fill="none" stroke="#1e0c03" stroke-width="0.9" opacity="0.8"/>
<ellipse cx="557.0" cy="6.1" rx="3.8" ry="3.4" transform="rotate(125 557.0 6.1)" fill="none" stroke="#1e0c03" stroke-width="0.9" opacity="0.8"/>
<ellipse cx="657.5" cy="38.8" rx="4.6" ry="3.9" transform="rotate(24 657.5 38.8)" fill="none" stroke="#1e0c03" stroke-width="0.9" opacity="0.8"/>
<ellipse cx="497.5" cy="56.2" rx="5.3" ry="3.7" transform="rotate(22 497.5 56.2)" fill="none" stroke="#1e0c03" stroke-width="0.9" opacity="0.8"/>
<ellipse cx="472.1" cy="70.0" rx="3.1" ry="3.5" transform="rotate(161 472.1 70.0)" fill="none" stroke="#1e0c03" stroke-width="0.9" opacity="0.8"/>
<ellipse cx="416.5" cy="133.1" rx="5.8" ry="3.4" transform="rotate(55 416.5 133.1)" fill="none" stroke="#1e0c03" stroke-width="0.9" opacity="0.8"/>
<ellipse cx="444.9" cy="68.9" rx="5.9" ry="2.5" transform="rotate(9 444.9 68.9)" fill="none" stroke="#1e0c03" stroke-width="0.9" opacity="0.8"/>
<ellipse cx="463.9" cy="64.8" rx="3.6" ry="2.7" transform="rotate(108 463.9 64.8)" fill="none" stroke="#1e0c03" stroke-width="0.9" opacity="0.8"/>
<ellipse cx="422.8" cy="20.7" rx="5.1" ry="2.9" transform="rotate(51 422.8 20.7)" fill="none" stroke="#1e0c03" stroke-width="0.9" opacity="0.8"/>
<ellipse cx="513.6" cy="143.6" rx="3.7" ry="2.9" transform="rotate(93 513.6 143.6)" fill="none" stroke="#1e0c03" stroke-width="0.9" opacity="0.8"/>
<ellipse cx="412.2" cy="106.1" rx="5.3" ry="3.6" transform="rotate(82 412.2 106.1)" fill="none" stroke="#1e0c03" stroke-width="0.9" opacity="0.8"/>
<ellipse cx="660.5" cy="155.1" rx="5.4" ry="3.9" transform="rotate(12 660.5 155.1)" fill="none" stroke="#1e0c03" stroke-width="0.9" opacity="0.8"/>
<ellipse cx="499.3" cy="128.8" rx="5.7" ry="2.7" transform="rotate(147 499.3 128.8)" fill="none" stroke="#1e0c03" stroke-width="0.9" opacity="0.8"/>
<ellipse cx="523.6" cy="33.2" rx="5.5" ry="2.7" transform="rotate(115 523.6 33.2)" fill="none" stroke="#1e0c03" stroke-width="0.9" opacity="0.8"/>
<ellipse cx="542.4" cy="151.8" rx="4.1" ry="2.4" transform="rotate(64 542.4 151.8)" fill="none" stroke="#1e0c03" stroke-width="0.9" opacity="0.8"/>
<ellipse cx="648.3" cy="27.9" rx="3.3" ry="3.9" transform="rotate(62 648.3 27.9)" fill="none" stroke="#1e0c03" stroke-width="0.9" opacity="0.8"/>
<ellipse cx="574.6" cy="119.0" rx="4.8" ry="2.9" transform="rotate(147 574.6 119.0)" fill="none" stroke="#1e0c03" stroke-width="0.9" opacity="0.8"/>
<ellipse cx="518.7" cy="7.5" rx="3.8" ry="3.5" transform="rotate(66 518.7 7.5)" fill="none" stroke="#1e0c03" stroke-width="0.9" opacity="0.8"/>
<ellipse cx="498.2" cy="120.3" rx="5.6" ry="2.4" transform="rotate(148 498.2 120.3)" fill="none" stroke="#1e0c03" stroke-width="0.9" opacity="0.8"/>
<ellipse cx="521.7" cy="36.4" rx="3.6" ry="2.9" transform="rotate(6 521.7 36.4)" fill="none" stroke="#1e0c03" stroke-width="0.9" opacity="0.8"/>
<ellipse cx="515.2" cy="160.4" rx="6.0" ry="2.8" transform="rotate(10 515.2 160.4)" fill="none" stroke="#1e0c03" stroke-width="0.9" opacity="0.8"/>
<ellipse cx="553.4" cy="140.4" rx="4.5" ry="4.0" transform="rotate(118 553.4 140.4)" fill="none" stroke="#1e0c03" stroke-width="0.9" opacity="0.8"/>
<ellipse cx="419.2" cy="53.6" rx="3.6" ry="3.9" transform="rotate(110 419.2 53.6)" fill="none" stroke="#1e0c03" stroke-width="0.9" opacity="0.8"/>
<ellipse cx="649.1" cy="61.2" rx="4.7" ry="3.6" transform="rotate(36 649.1 61.2)" fill="none" stroke="#1e0c03" stroke-width="0.9" opacity="0.8"/>
<ellipse cx="662.3" cy="45.9" rx="4.7" ry="3.8" transform="rotate(82 662.3 45.9)" fill="none" stroke="#1e0c03" stroke-width="0.9" opacity="0.8"/>
<ellipse cx="658.0" cy="154.1" rx="4.8" ry="2.9" transform="rotate(22 658.0 154.1)" fill="none" stroke="#1e0c03" stroke-width="0.9" opacity="0.8"/>
<ellipse cx="439.0" cy="83.4" rx="5.2" ry="2.6" transform="rotate(6 439.0 83.4)" fill="none" stroke="#1e0c03" stroke-width="0.9" opacity="0.8"/>
<ellipse cx="669.6" cy="168.7" rx="3.9" ry="3.8" transform="rotate(10 669.6 168.7)" fill="none" stroke="#1e0c03" stroke-width="0.9" opacity="0.8"/>
<ellipse cx="455.4" cy="75.8" rx="4.7" ry="2.4" transform="rotate(32 455.4 75.8)" fill="none" stroke="#1e0c03" stroke-width="0.9" opacity="0.8"/>
<ellipse cx="600.9" cy="71.3" rx="5.4" ry="2.8" transform="rotate(152 600.9 71.3)" fill="none" stroke="#1e0c03" stroke-width="0.9" opacity="0.8"/>
<ellipse cx="476.7" cy="115.9" rx="4.6" ry="3.9" transform="rotate(112 476.7 115.9)" fill="none" stroke="#1e0c03" stroke-width="0.9" opacity="0.8"/>
<ellipse cx="637.8" cy="76.6" rx="3.7" ry="3.9" transform="rotate(133 637.8 76.6)" fill="none" stroke="#1e0c03" stroke-width="0.9" opacity="0.8"/>
<ellipse cx="460.3" cy="74.4" rx="3.1" ry="3.2" transform="rotate(90 460.3 74.4)" fill="none" stroke="#1e0c03" stroke-width="0.9" opacity="0.8"/>
<ellipse cx="596.3" cy="62.4" rx="3.8" ry="2.4" transform="rotate(163 596.3 62.4)" fill="none" stroke="#1e0c03" stroke-width="0.9" opacity="0.8"/>
<ellipse cx="571.0" cy="45.1" rx="5.8" ry="3.7" transform="rotate(57 571.0 45.1)" fill="none" stroke="#1e0c03" stroke-width="0.9" opacity="0.8"/>
<ellipse cx="483.3" cy="96.7" rx="3.4" ry="3.7" transform="rotate(63 483.3 96.7)" fill="none" stroke="#1e0c03" stroke-width="0.9" opacity="0.8"/>
<ellipse cx="557.0" cy="55.3" rx="3.5" ry="3.7" transform="rotate(58 557.0 55.3)" fill="none" stroke="#1e0c03" stroke-width="0.9" opacity="0.8"/>
<ellipse cx="416.8" cy="10.6" rx="3.9" ry="3.3" transform="rotate(32 416.8 10.6)" fill="none" stroke="#1e0c03" stroke-width="0.9" opacity="0.8"/>
<ellipse cx="633.2" cy="104.2" rx="3.7" ry="2.4" transform="rotate(142 633.2 104.2)" fill="none" stroke="#1e0c03" stroke-width="0.9" opacity="0.8"/>
<ellipse cx="652.9" cy="25.1" rx="5.1" ry="3.7" transform="rotate(47 652.9 25.1)" fill="none" stroke="#1e0c03" stroke-width="0.9" opacity="0.8"/>
<ellipse cx="594.1" cy="114.6" rx="3.7" ry="3.1" transform="rotate(80 594.1 114.6)" fill="none" stroke="#1e0c03" stroke-width="0.9" opacity="0.8"/>
<ellipse cx="483.0" cy="63.5" rx="3.2" ry="2.7" transform="rotate(35 483.0 63.5)" fill="none" stroke="#1e0c03" stroke-width="0.9" opacity="0.8"/>
<ellipse cx="504.2" cy="141.2" rx="3.1" ry="3.2" transform="rotate(113 504.2 141.2)" fill="none" stroke="#1e0c03" stroke-width="0.9" opacity="0.8"/>
<ellipse cx="449.5" cy="77.1" rx="3.1" ry="3.0" transform="rotate(34 449.5 77.1)" fill="none" stroke="#1e0c03" stroke-width="0.9" opacity="0.8"/>
<ellipse cx="553.4" cy="41.4" rx="4.5" ry="3.3" transform="rotate(14 553.4 41.4)" fill="none" stroke="#1e0c03" stroke-width="0.9" opacity="0.8"/>
<ellipse cx="626.8" cy="68.7" rx="5.9" ry="3.2" transform="rotate(139 626.8 68.7)" fill="none" stroke="#1e0c03" stroke-width="0.9" opacity="0.8"/>
<ellipse cx="555.7" cy="155.4" rx="5.2" ry="2.8" transform="rotate(137 555.7 155.4)" fill="none" stroke="#1e0c03" stroke-width="0.9" opacity="0.8"/>
<ellipse cx="524.8" cy="142.3" rx="3.1" ry="2.4" transform="rotate(144 524.8 142.3)" fill="none" stroke="#1e0c03" stroke-width="0.9" opacity="0.8"/>
<ellipse cx="562.7" cy="11.2" rx="4.1" ry="3.0" transform="rotate(104 562.7 11.2)" fill="none" stroke="#1e0c03" stroke-width="0.9" opacity="0.8"/>
<ellipse cx="660.6" cy="167.7" rx="4.7" ry="3.6" transform="rotate(157 660.6 167.7)" fill="none" stroke="#1e0c03" stroke-width="0.9" opacity="0.8"/>
<ellipse cx="503.7" cy="44.2" rx="4.0" ry="2.4" transform="rotate(1 503.7 44.2)" fill="none" stroke="#1e0c03" stroke-width="0.9" opacity="0.8"/>
<ellipse cx="552.6" cy="158.7" rx="4.7" ry="4.0" transform="rotate(64 552.6 158.7)" fill="none" stroke="#1e0c03" stroke-width="0.9" opacity="0.8"/>
<ellipse cx="612.0" cy="74.7" rx="4.5" ry="3.8" transform="rotate(50 612.0 74.7)" fill="none" stroke="#1e0c03" stroke-width="0.9" opacity="0.8"/>
<ellipse cx="513.8" cy="116.0" rx="4.2" ry="2.3" transform="rotate(113 513.8 116.0)" fill="none" stroke="#1e0c03" stroke-width="0.9" opacity="0.8"/>
<ellipse cx="565.0" cy="46.4" rx="5.8" ry="3.2" transform="rotate(178 565.0 46.4)" fill="none" stroke="#1e0c03" stroke-width="0.9" opacity="0.8"/>
<ellipse cx="429.9" cy="8.6" rx="3.2" ry="3.1" transform="rotate(100 429.9 8.6)" fill="none" stroke="#1e0c03" stroke-width="0.9" opacity="0.8"/>
<ellipse cx="651.1" cy="30.7" rx="5.3" ry="2.6" transform="rotate(177 651.1 30.7)" fill="none" stroke="#1e0c03" stroke-width="0.9" opacity="0.8"/>
<ellipse cx="520.5" cy="21.3" rx="4.5" ry="2.4" transform="rotate(77 520.5 21.3)" fill="none" stroke="#1e0c03" stroke-width="0.9" opacity="0.8"/>
<ellipse cx="606.4" cy="97.1" rx="5.1" ry="3.0" transform="rotate(105 606.4 97.1)" fill="none" stroke="#1e0c03" stroke-width="0.9" opacity="0.8"/>
<ellipse cx="503.3" cy="136.2" rx="5.8" ry="3.2" transform="rotate(9 503.3 136.2)" fill="none" stroke="#1e0c03" stroke-width="0.9" opacity="0.8"/>
<ellipse cx="654.7" cy="77.4" rx="4.3" ry="3.4" transform="rotate(9 654.7 77.4)" fill="none" stroke="#1e0c03" stroke-width="0.9" opacity="0.8"/>
<ellipse cx="658.9" cy="72.4" rx="5.7" ry="3.4" transform="rotate(28 658.9 72.4)" fill="none" stroke="#1e0c03" stroke-width="0.9" opacity="0.8"/>
<ellipse cx="514.3" cy="18.5" rx="5.2" ry="3.4" transform="rotate(27 514.3 18.5)" fill="none" stroke="#1e0c03" stroke-width="0.9" opacity="0.8"/>
<ellipse cx="605.9" cy="109.0" rx="4.9" ry="3.7" transform="rotate(142 605.9 109.0)" fill="none" stroke="#1e0c03" stroke-width="0.9" opacity="0.8"/>
<ellipse cx="662.9" cy="115.0" rx="5.5" ry="3.9" transform="rotate(163 662.9 115.0)" fill="none" stroke="#1e0c03" stroke-width="0.9" opacity="0.8"/>
<ellipse cx="625.7" cy="71.0" rx="5.0" ry="3.7" transform="rotate(61 625.7 71.0)" fill="none" stroke="#1e0c03" stroke-width="0.9" opacity="0.8"/>
<ellipse cx="472.7" cy="62.1" rx="4.7" ry="3.8" transform="rotate(92 472.7 62.1)" fill="none" stroke="#1e0c03" stroke-width="0.9" opacity="0.8"/>
<ellipse cx="593.2" cy="105.0" rx="3.6" ry="2.6" transform="rotate(17 593.2 105.0)" fill="none" stroke="#1e0c03" stroke-width="0.9" opacity="0.8"/>
<ellipse cx="414.1" cy="132.4" rx="4.5" ry="3.0" transform="rotate(11 414.1 132.4)" fill="none" stroke="#1e0c03" stroke-width="0.9" opacity="0.8"/>
<ellipse cx="462.9" cy="100.6" rx="5.5" ry="3.6" transform="rotate(83 462.9 100.6)" fill="none" stroke="#1e0c03" stroke-width="0.9" opacity="0.8"/>
<ellipse cx="417.5" cy="150.7" rx="4.0" ry="3.3" transform="rotate(159 417.5 150.7)" fill="none" stroke="#1e0c03" stroke-width="0.9" opacity="0.8"/>
<ellipse cx="585.0" cy="121.8" rx="4.9" ry="3.4" transform="rotate(85 585.0 121.8)" fill="none" stroke="#1e0c03" stroke-width="0.9" opacity="0.8"/>
<ellipse cx="650.5" cy="47.4" rx="3.1" ry="3.6" transform="rotate(19 650.5 47.4)" fill="none" stroke="#1e0c03" stroke-width="0.9" opacity="0.8"/>
<ellipse cx="664.9" cy="121.1" rx="5.4" ry="3.8" transform="rotate(165 664.9 121.1)" fill="none" stroke="#1e0c03" stroke-width="0.9" opacity="0.8"/>
<ellipse cx="564.2" cy="135.9" rx="3.2" ry="3.2" transform="rotate(52 564.2 135.9)" fill="none" stroke="#1e0c03" stroke-width="0.9" opacity="0.8"/>
<ellipse cx="503.8" cy="53.9" rx="4.8" ry="4.0" transform="rotate(138 503.8 53.9)" fill="none" stroke="#1e0c03" stroke-width="0.9" opacity="0.8"/>
<ellipse cx="414.2" cy="140.7" rx="3.0" ry="2.5" transform="rotate(163 414.2 140.7)" fill="none" stroke="#1e0c03" stroke-width="0.9" opacity="0.8"/>
<ellipse cx="423.2" cy="6.4" rx="5.9" ry="2.9" transform="rotate(130 423.2 6.4)" fill="none" stroke="#1e0c03" stroke-width="0.9" opacity="0.8"/>
<ellipse cx="412.1" cy="65.7" rx="4.4" ry="3.2" transform="rotate(128 412.1 65.7)" fill="none" stroke="#1e0c03" stroke-width="0.9" opacity="0.8"/>
<ellipse cx="641.8" cy="13.4" rx="3.5" ry="3.3" transform="rotate(81 641.8 13.4)" fill="none" stroke="#1e0c03" stroke-width="0.9" opacity="0.8"/>
<ellipse cx="419.7" cy="154.9" rx="3.1" ry="2.7" transform="rotate(52 419.7 154.9)" fill="none" stroke="#1e0c03" stroke-width="0.9" opacity="0.8"/>
<ellipse cx="661.0" cy="133.6" rx="4.3" ry="3.9" transform="rotate(37 661.0 133.6)" fill="none" stroke="#1e0c03" stroke-width="0.9" opacity="0.8"/>
<ellipse cx="500.6" cy="120.2" rx="4.4" ry="2.2" transform="rotate(122 500.6 120.2)" fill="none" stroke="#1e0c03" stroke-width="0.9" opacity="0.8"/>
<ellipse cx="574.8" cy="120.3" rx="5.3" ry="2.7" transform="rotate(46 574.8 120.3)" fill="none" stroke="#1e0c03" stroke-width="0.9" opacity="0.8"/>
<ellipse cx="638.8" cy="101.2" rx="3.2" ry="2.2" transform="rotate(31 638.8 101.2)" fill="none" stroke="#1e0c03" stroke-width="0.9" opacity="0.8"/>
<ellipse cx="555.1" cy="12.5" rx="5.4" ry="3.6" transform="rotate(17 555.1 12.5)" fill="none" stroke="#1e0c03" stroke-width="0.9" opacity="0.8"/>
<ellipse cx="556.3" cy="26.8" rx="3.8" ry="3.0" transform="rotate(96 556.3 26.8)" fill="none" stroke="#1e0c03" stroke-width="0.9" opacity="0.8"/>
<ellipse cx="473.2" cy="114.3" rx="4.0" ry="3.1" transform="rotate(128 473.2 114.3)" fill="none" stroke="#1e0c03" stroke-width="0.9" opacity="0.8"/>
<ellipse cx="667.0" cy="154.1" rx="5.3" ry="3.6" transform="rotate(79 667.0 154.1)" fill="none" stroke="#1e0c03" stroke-width="0.9" opacity="0.8"/>
<ellipse cx="428.8" cy="69.0" rx="5.9" ry="2.3" transform="rotate(52 428.8 69.0)" fill="none" stroke="#1e0c03" stroke-width="0.9" opacity="0.8"/>
<ellipse cx="412.9" cy="135.4" rx="4.4" ry="2.9" transform="rotate(144 412.9 135.4)" fill="none" stroke="#1e0c03" stroke-width="0.9" opacity="0.8"/>
<ellipse cx="516.8" cy="149.3" rx="4.1" ry="2.9" transform="rotate(173 516.8 149.3)" fill="none" stroke="#1e0c03" stroke-width="0.9" opacity="0.8"/>
<ellipse cx="493.5" cy="124.8" rx="4.6" ry="3.1" transform="rotate(120 493.5 124.8)" fill="none" stroke="#1e0c03" stroke-width="0.9" opacity="0.8"/>
<ellipse cx="452.7" cy="103.5" rx="4.8" ry="3.5" transform="rotate(135 452.7 103.5)" fill="none" stroke="#1e0c03" stroke-width="0.9" opacity="0.8"/>
<ellipse cx="499.6" cy="118.0" rx="5.5" ry="3.5" transform="rotate(64 499.6 118.0)" fill="none" stroke="#1e0c03" stroke-width="0.9" opacity="0.8"/>
<ellipse cx="606.4" cy="102.5" rx="3.2" ry="2.4" transform="rotate(4 606.4 102.5)" fill="none" stroke="#1e0c03" stroke-width="0.9" opacity="0.8"/>
<ellipse cx="510.0" cy="45.8" rx="3.5" ry="2.5" transform="rotate(63 510.0 45.8)" fill="none" stroke="#1e0c03" stroke-width="0.9" opacity="0.8"/>
<ellipse cx="508.0" cy="118.0" rx="5.4" ry="2.9" transform="rotate(120 508.0 118.0)" fill="none" stroke="#1e0c03" stroke-width="0.9" opacity="0.8"/>
<ellipse cx="519.7" cy="158.0" rx="5.6" ry="3.0" transform="rotate(131 519.7 158.0)" fill="none" stroke="#1e0c03" stroke-width="0.9" opacity="0.8"/>
<ellipse cx="463.1" cy="112.0" rx="4.1" ry="3.9" transform="rotate(170 463.1 112.0)" fill="none" stroke="#1e0c03" stroke-width="0.9" opacity="0.8"/>
<ellipse cx="575.4" cy="66.1" rx="5.6" ry="3.8" transform="rotate(6 575.4 66.1)" fill="none" stroke="#1e0c03" stroke-width="0.9" opacity="0.8"/>
<ellipse cx="423.1" cy="5.6" rx="4.5" ry="2.4" transform="rotate(151 423.1 5.6)" fill="none" stroke="#1e0c03" stroke-width="0.9" opacity="0.8"/>
<ellipse cx="669.9" cy="115.9" rx="3.1" ry="3.0" transform="rotate(174 669.9 115.9)" fill="none" stroke="#1e0c03" stroke-width="0.9" opacity="0.8"/>
<ellipse cx="562.5" cy="136.1" rx="4.5" ry="3.2" transform="rotate(101 562.5 136.1)" fill="none" stroke="#1e0c03" stroke-width="0.9" opacity="0.8"/>
<ellipse cx="520.1" cy="31.4" rx="4.9" ry="2.3" transform="rotate(91 520.1 31.4)" fill="none" stroke="#1e0c03" stroke-width="0.9" opacity="0.8"/>
<ellipse cx="559.8" cy="165.1" rx="5.1" ry="3.6" transform="rotate(20 559.8 165.1)" fill="none" stroke="#1e0c03" stroke-width="0.9" opacity="0.8"/>
<ellipse cx="503.5" cy="121.5" rx="5.2" ry="3.8" transform="rotate(115 503.5 121.5)" fill="none" stroke="#1e0c03" stroke-width="0.9" opacity="0.8"/>
<ellipse cx="585.9" cy="108.8" rx="3.2" ry="2.8" transform="rotate(6 585.9 108.8)" fill="none" stroke="#1e0c03" stroke-width="0.9" opacity="0.8"/>
<ellipse cx="636.8" cy="76.5" rx="3.8" ry="3.9" transform="rotate(153 636.8 76.5)" fill="none" stroke="#1e0c03" stroke-width="0.9" opacity="0.8"/>
<ellipse cx="642.9" cy="74.5" rx="5.3" ry="2.9" transform="rotate(21 642.9 74.5)" fill="none" stroke="#1e0c03" stroke-width="0.9" opacity="0.8"/>
<ellipse cx="470.8" cy="100.9" rx="5.4" ry="3.7" transform="rotate(48 470.8 100.9)" fill="none" stroke="#1e0c03" stroke-width="0.9" opacity="0.8"/>
<ellipse cx="577.6" cy="118.5" rx="4.5" ry="2.8" transform="rotate(99 577.6 118.5)" fill="none" stroke="#1e0c03" stroke-width="0.9" opacity="0.8"/>
<ellipse cx="664.0" cy="139.7" rx="4.8" ry="2.3" transform="rotate(168 664.0 139.7)" fill="none" stroke="#1e0c03" stroke-width="0.9" opacity="0.8"/>
<ellipse cx="425.2" cy="107.0" rx="3.5" ry="2.7" transform="rotate(50 425.2 107.0)" fill="none" stroke="#1e0c03" stroke-width="0.9" opacity="0.8"/>
<ellipse cx="653.4" cy="36.9" rx="5.3" ry="2.8" transform="rotate(131 653.4 36.9)" fill="none" stroke="#1e0c03" stroke-width="0.9" opacity="0.8"/>
<ellipse cx="446.8" cy="94.9" rx="5.5" ry="3.8" transform="rotate(9 446.8 94.9)" fill="none" stroke="#1e0c03" stroke-width="0.9" opacity="0.8"/>
<ellipse cx="576.9" cy="112.4" rx="4.3" ry="2.8" transform="rotate(107 576.9 112.4)" fill="none" stroke="#1e0c03" stroke-width="0.9" opacity="0.8"/>
<ellipse cx="551.2" cy="137.3" rx="5.2" ry="2.9" transform="rotate(32 551.2 137.3)" fill="none" stroke="#1e0c03" stroke-width="0.9" opacity="0.8"/>
<ellipse cx="469.3" cy="96.5" rx="4.3" ry="3.8" transform="rotate(55 469.3 96.5)" fill="none" stroke="#1e0c03" stroke-width="0.9" opacity="0.8"/>
<ellipse cx="411.1" cy="66.0" rx="3.2" ry="2.4" transform="rotate(35 411.1 66.0)" fill="none" stroke="#1e0c03" stroke-width="0.9" opacity="0.8"/>
<ellipse cx="516.9" cy="45.6" rx="5.8" ry="2.9" transform="rotate(108 516.9 45.6)" fill="none" stroke="#1e0c03" stroke-width="0.9" opacity="0.8"/>
<ellipse cx="554.4" cy="17.1" rx="3.8" ry="3.3" transform="rotate(35 554.4 17.1)" fill="none" stroke="#1e0c03" stroke-width="0.9" opacity="0.8"/>
<ellipse cx="556.6" cy="167.7" rx="4.4" ry="3.2" transform="rotate(131 556.6 167.7)" fill="none" stroke="#1e0c03" stroke-width="0.9" opacity="0.8"/>
<ellipse cx="469.3" cy="66.9" rx="5.1" ry="3.2" transform="rotate(109 469.3 66.9)" fill="none" stroke="#1e0c03" stroke-width="0.9" opacity="0.8"/>
<ellipse cx="423.8" cy="95.3" rx="3.1" ry="3.1" transform="rotate(6 423.8 95.3)" fill="none" stroke="#1e0c03" stroke-width="0.9" opacity="0.8"/>
<ellipse cx="602.0" cy="107.2" rx="4.3" ry="2.6" transform="rotate(33 602.0 107.2)" fill="none" stroke="#1e0c03" stroke-width="0.9" opacity="0.8"/>
<ellipse cx="552.4" cy="128.7" rx="5.3" ry="2.6" transform="rotate(85 552.4 128.7)" fill="none" stroke="#1e0c03" stroke-width="0.9" opacity="0.8"/>
<ellipse cx="409.5" cy="58.5" rx="5.5" ry="2.8" transform="rotate(2 409.5 58.5)" fill="none" stroke="#1e0c03" stroke-width="0.9" opacity="0.8"/>
<ellipse cx="414.9" cy="119.6" rx="4.6" ry="3.7" transform="rotate(63 414.9 119.6)" fill="none" stroke="#1e0c03" stroke-width="0.9" opacity="0.8"/>
<ellipse cx="667.3" cy="35.0" rx="3.8" ry="2.4" transform="rotate(27 667.3 35.0)" fill="none" stroke="#1e0c03" stroke-width="0.9" opacity="0.8"/>
<ellipse cx="546.5" cy="32.8" rx="4.9" ry="3.7" transform="rotate(23 546.5 32.8)" fill="none" stroke="#1e0c03" stroke-width="0.9" opacity="0.8"/>
<ellipse cx="551.0" cy="8.2" rx="5.6" ry="3.4" transform="rotate(77 551.0 8.2)" fill="none" stroke="#1e0c03" stroke-width="0.9" opacity="0.8"/>
<ellipse cx="665.2" cy="160.2" rx="5.1" ry="3.5" transform="rotate(109 665.2 160.2)" fill="none" stroke="#1e0c03" stroke-width="0.9" opacity="0.8"/>
<ellipse cx="657.8" cy="4.5" rx="6.0" ry="2.4" transform="rotate(172 657.8 4.5)" fill="none" stroke="#1e0c03" stroke-width="0.9" opacity="0.8"/>
<ellipse cx="639.0" cy="73.3" rx="3.7" ry="3.0" transform="rotate(117 639.0 73.3)" fill="none" stroke="#1e0c03" stroke-width="0.9" opacity="0.8"/>
<ellipse cx="542.4" cy="167.2" rx="4.0" ry="2.8" transform="rotate(22 542.4 167.2)" fill="none" stroke="#1e0c03" stroke-width="0.9" opacity="0.8"/>
<ellipse cx="659.2" cy="58.0" rx="4.2" ry="3.3" transform="rotate(115 659.2 58.0)" fill="none" stroke="#1e0c03" stroke-width="0.9" opacity="0.8"/>
<ellipse cx="647.6" cy="31.3" rx="3.4" ry="2.6" transform="rotate(60 647.6 31.3)" fill="none" stroke="#1e0c03" stroke-width="0.9" opacity="0.8"/>
<ellipse cx="495.4" cy="116.4" rx="5.1" ry="3.0" transform="rotate(12 495.4 116.4)" fill="none" stroke="#1e0c03" stroke-width="0.9" opacity="0.8"/>
<ellipse cx="577.0" cy="116.5" rx="4.8" ry="2.8" transform="rotate(34 577.0 116.5)" fill="none" stroke="#1e0c03" stroke-width="0.9" opacity="0.8"/>
<ellipse cx="417.2" cy="141.1" rx="4.0" ry="2.5" transform="rotate(108 417.2 141.1)" fill="none" stroke="#1e0c03" stroke-width="0.9" opacity="0.8"/>
<ellipse cx="491.7" cy="71.2" rx="5.1" ry="3.6" transform="rotate(143 491.7 71.2)" fill="none" stroke="#1e0c03" stroke-width="0.9" opacity="0.8"/>
<ellipse cx="554.2" cy="18.8" rx="3.4" ry="3.4" transform="rotate(115 554.2 18.8)" fill="none" stroke="#1e0c03" stroke-width="0.9" opacity="0.8"/>
<ellipse cx="500.0" cy="61.6" rx="5.5" ry="2.8" transform="rotate(164 500.0 61.6)" fill="none" stroke="#1e0c03" stroke-width="0.9" opacity="0.8"/>
<ellipse cx="493.6" cy="54.4" rx="5.9" ry="3.3" transform="rotate(149 493.6 54.4)" fill="none" stroke="#1e0c03" stroke-width="0.9" opacity="0.8"/>
<ellipse cx="657.9" cy="148.7" rx="5.5" ry="2.2" transform="rotate(75 657.9 148.7)" fill="none" stroke="#1e0c03" stroke-width="0.9" opacity="0.8"/>
<ellipse cx="520.1" cy="4.5" rx="5.1" ry="2.4" transform="rotate(46 520.1 4.5)" fill="none" stroke="#1e0c03" stroke-width="0.9" opacity="0.8"/>
<ellipse cx="410.9" cy="75.2" rx="5.1" ry="2.4" transform="rotate(40 410.9 75.2)" fill="none" stroke="#1e0c03" stroke-width="0.9" opacity="0.8"/>
<ellipse cx="573.7" cy="125.8" rx="5.1" ry="4.0" transform="rotate(70 573.7 125.8)" fill="none" stroke="#1e0c03" stroke-width="0.9" opacity="0.8"/>
<ellipse cx="425.0" cy="10.0" rx="5.6" ry="2.9" transform="rotate(173 425.0 10.0)" fill="none" stroke="#1e0c03" stroke-width="0.9" opacity="0.8"/>
<ellipse cx="666.2" cy="153.0" rx="4.3" ry="2.4" transform="rotate(131 666.2 153.0)" fill="none" stroke="#1e0c03" stroke-width="0.9" opacity="0.8"/>
<ellipse cx="492.3" cy="60.4" rx="4.3" ry="2.4" transform="rotate(180 492.3 60.4)" fill="none" stroke="#1e0c03" stroke-width="0.9" opacity="0.8"/>
<ellipse cx="625.7" cy="106.2" rx="4.7" ry="2.9" transform="rotate(48 625.7 106.2)" fill="none" stroke="#1e0c03" stroke-width="0.9" opacity="0.8"/>
<ellipse cx="666.8" cy="134.7" rx="3.1" ry="3.1" transform="rotate(1 666.8 134.7)" fill="none" stroke="#1e0c03" stroke-width="0.9" opacity="0.8"/>
<ellipse cx="661.2" cy="164.2" rx="4.7" ry="3.0" transform="rotate(42 661.2 164.2)" fill="none" stroke="#1e0c03" stroke-width="0.9" opacity="0.8"/>
<ellipse cx="504.1" cy="49.5" rx="3.8" ry="3.1" transform="rotate(177 504.1 49.5)" fill="none" stroke="#1e0c03" stroke-width="0.9" opacity="0.8"/>
<ellipse cx="663.3" cy="150.6" rx="4.4" ry="3.1" transform="rotate(141 663.3 150.6)" fill="none" stroke="#1e0c03" stroke-width="0.9" opacity="0.8"/>
<ellipse cx="605.6" cy="73.9" rx="5.6" ry="2.6" transform="rotate(9 605.6 73.9)" fill="none" stroke="#1e0c03" stroke-width="0.9" opacity="0.8"/>
<ellipse cx="664.5" cy="62.5" rx="4.5" ry="3.2" transform="rotate(18 664.5 62.5)" fill="none" stroke="#1e0c03" stroke-width="0.9" opacity="0.8"/>
<ellipse cx="427.1" cy="21.6" rx="5.4" ry="3.2" transform="rotate(64 427.1 21.6)" fill="none" stroke="#1e0c03" stroke-width="0.9" opacity="0.8"/>
<ellipse cx="561.7" cy="21.0" rx="3.8" ry="2.3" transform="rotate(115 561.7 21.0)" fill="none" stroke="#1e0c03" stroke-width="0.9" opacity="0.8"/>
<ellipse cx="529.5" cy="158.6" rx="4.1" ry="2.6" transform="rotate(112 529.5 158.6)" fill="none" stroke="#1e0c03" stroke-width="0.9" opacity="0.8"/>
<ellipse cx="564.7" cy="111.7" rx="4.4" ry="3.7" transform="rotate(108 564.7 111.7)" fill="none" stroke="#1e0c03" stroke-width="0.9" opacity="0.8"/>
<ellipse cx="448.0" cy="83.9" rx="3.8" ry="3.9" transform="rotate(48 448.0 83.9)" fill="none" stroke="#1e0c03" stroke-width="0.9" opacity="0.8"/>
<ellipse cx="664.1" cy="49.6" rx="4.1" ry="2.3" transform="rotate(90 664.1 49.6)" fill="none" stroke="#1e0c03" stroke-width="0.9" opacity="0.8"/>
<ellipse cx="664.9" cy="36.2" rx="4.7" ry="3.5" transform="rotate(28 664.9 36.2)" fill="none" stroke="#1e0c03" stroke-width="0.9" opacity="0.8"/>
<ellipse cx="421.7" cy="158.3" rx="5.7" ry="2.3" transform="rotate(117 421.7 158.3)" fill="none" stroke="#1e0c03" stroke-width="0.9" opacity="0.8"/>
<ellipse cx="428.8" cy="22.5" rx="3.6" ry="2.5" transform="rotate(119 428.8 22.5)" fill="none" stroke="#1e0c03" stroke-width="0.9" opacity="0.8"/>
<ellipse cx="523.3" cy="19.1" rx="5.3" ry="3.8" transform="rotate(67 523.3 19.1)" fill="none" stroke="#1e0c03" stroke-width="0.9" opacity="0.8"/>
<ellipse cx="657.2" cy="142.3" rx="3.4" ry="4.0" transform="rotate(157 657.2 142.3)" fill="none" stroke="#1e0c03" stroke-width="0.9" opacity="0.8"/>
<ellipse cx="463.7" cy="71.0" rx="5.1" ry="3.3" transform="rotate(128 463.7 71.0)" fill="none" stroke="#1e0c03" stroke-width="0.9" opacity="0.8"/>
<ellipse cx="608.5" cy="93.6" rx="3.3" ry="3.2" transform="rotate(158 608.5 93.6)" fill="none" stroke="#1e0c03" stroke-width="0.9" opacity="0.8"/>
<ellipse cx="502.2" cy="113.3" rx="5.9" ry="2.7" transform="rotate(98 502.2 113.3)" fill="none" stroke="#1e0c03" stroke-width="0.9" opacity="0.8"/>
<ellipse cx="407.9" cy="24.4" rx="4.4" ry="2.8" transform="rotate(133 407.9 24.4)" fill="none" stroke="#1e0c03" stroke-width="0.9" opacity="0.8"/>
<ellipse cx="458.2" cy="105.3" rx="5.5" ry="3.1" transform="rotate(114 458.2 105.3)" fill="none" stroke="#1e0c03" stroke-width="0.9" opacity="0.8"/>
<ellipse cx="653.8" cy="65.3" rx="3.0" ry="2.7" transform="rotate(19 653.8 65.3)" fill="none" stroke="#1e0c03" stroke-width="0.9" opacity="0.8"/>
<ellipse cx="660.7" cy="115.9" rx="5.1" ry="2.8" transform="rotate(95 660.7 115.9)" fill="none" stroke="#1e0c03" stroke-width="0.9" opacity="0.8"/>
<ellipse cx="589.7" cy="60.1" rx="3.7" ry="3.1" transform="rotate(3 589.7 60.1)" fill="none" stroke="#1e0c03" stroke-width="0.9" opacity="0.8"/>
<ellipse cx="666.3" cy="167.8" rx="3.8" ry="3.1" transform="rotate(123 666.3 167.8)" fill="none" stroke="#1e0c03" stroke-width="0.9" opacity="0.8"/>
<ellipse cx="666.9" cy="27.9" rx="5.9" ry="3.5" transform="rotate(146 666.9 27.9)" fill="none" stroke="#1e0c03" stroke-width="0.9" opacity="0.8"/>
<ellipse cx="550.7" cy="135.7" rx="3.3" ry="3.5" transform="rotate(91 550.7 135.7)" fill="none" stroke="#1e0c03" stroke-width="0.9" opacity="0.8"/>
<ellipse cx="568.1" cy="111.8" rx="4.7" ry="2.9" transform="rotate(160 568.1 111.8)" fill="none" stroke="#1e0c03" stroke-width="0.9" opacity="0.8"/>
<ellipse cx="599.2" cy="114.0" rx="4.5" ry="3.6" transform="rotate(115 599.2 114.0)" fill="none" stroke="#1e0c03" stroke-width="0.9" opacity="0.8"/>
<ellipse cx="648.0" cy="18.7" rx="4.9" ry="3.2" transform="rotate(13 648.0 18.7)" fill="none" stroke="#1e0c03" stroke-width="0.9" opacity="0.8"/>
<ellipse cx="554.6" cy="161.3" rx="3.4" ry="3.7" transform="rotate(21 554.6 161.3)" fill="none" stroke="#1e0c03" stroke-width="0.9" opacity="0.8"/>
<ellipse cx="418.7" cy="33.7" rx="4.6" ry="2.8" transform="rotate(176 418.7 33.7)" fill="none" stroke="#1e0c03" stroke-width="0.9" opacity="0.8"/>
<ellipse cx="601.9" cy="66.9" rx="4.9" ry="2.2" transform="rotate(35 601.9 66.9)" fill="none" stroke="#1e0c03" stroke-width="0.9" opacity="0.8"/>
<ellipse cx="571.9" cy="118.7" rx="4.4" ry="2.3" transform="rotate(33 571.9 118.7)" fill="none" stroke="#1e0c03" stroke-width="0.9" opacity="0.8"/>
<ellipse cx="489.7" cy="114.3" rx="4.5" ry="2.5" transform="rotate(134 489.7 114.3)" fill="none" stroke="#1e0c03" stroke-width="0.9" opacity="0.8"/>
<ellipse cx="511.5" cy="145.5" rx="3.4" ry="2.2" transform="rotate(100 511.5 145.5)" fill="none" stroke="#1e0c03" stroke-width="0.9" opacity="0.8"/>
<ellipse cx="413.7" cy="44.7" rx="4.7" ry="3.4" transform="rotate(93 413.7 44.7)" fill="none" stroke="#1e0c03" stroke-width="0.9" opacity="0.8"/>
<ellipse cx="605.5" cy="106.8" rx="5.0" ry="3.1" transform="rotate(137 605.5 106.8)" fill="none" stroke="#1e0c03" stroke-width="0.9" opacity="0.8"/>
<ellipse cx="655.3" cy="62.0" rx="5.0" ry="2.2" transform="rotate(148 655.3 62.0)" fill="none" stroke="#1e0c03" stroke-width="0.9" opacity="0.8"/>
<ellipse cx="658.1" cy="166.1" rx="3.7" ry="2.5" transform="rotate(80 658.1 166.1)" fill="none" stroke="#1e0c03" stroke-width="0.9" opacity="0.8"/>
<ellipse cx="423.9" cy="106.1" rx="5.2" ry="3.6" transform="rotate(58 423.9 106.1)" fill="none" stroke="#1e0c03" stroke-width="0.9" opacity="0.8"/>
<ellipse cx="415.0" cy="94.0" rx="5.7" ry="3.2" transform="rotate(180 415.0 94.0)" fill="none" stroke="#1e0c03" stroke-width="0.9" opacity="0.8"/>
<ellipse cx="606.3" cy="73.5" rx="4.5" ry="3.1" transform="rotate(66 606.3 73.5)" fill="none" stroke="#1e0c03" stroke-width="0.9" opacity="0.8"/>
<ellipse cx="497.0" cy="72.0" rx="6.0" ry="3.6" transform="rotate(101 497.0 72.0)" fill="none" stroke="#1e0c03" stroke-width="0.9" opacity="0.8"/>
<ellipse cx="417.7" cy="99.7" rx="3.1" ry="3.4" transform="rotate(12 417.7 99.7)" fill="none" stroke="#1e0c03" stroke-width="0.9" opacity="0.8"/>
<ellipse cx="448.7" cy="71.6" rx="3.3" ry="2.8" transform="rotate(158 448.7 71.6)" fill="none" stroke="#1e0c03" stroke-width="0.9" opacity="0.8"/>
<ellipse cx="459.5" cy="79.9" rx="4.2" ry="2.6" transform="rotate(152 459.5 79.9)" fill="none" stroke="#1e0c03" stroke-width="0.9" opacity="0.8"/>
<ellipse cx="426.6" cy="95.5" rx="3.3" ry="3.4" transform="rotate(85 426.6 95.5)" fill="none" stroke="#1e0c03" stroke-width="0.9" opacity="0.8"/>
<ellipse cx="420.9" cy="59.0" rx="4.9" ry="2.6" transform="rotate(5 420.9 59.0)" fill="none" stroke="#1e0c03" stroke-width="0.9" opacity="0.8"/>
<ellipse cx="430.3" cy="13.4" rx="4.2" ry="2.5" transform="rotate(83 430.3 13.4)" fill="none" stroke="#1e0c03" stroke-width="0.9" opacity="0.8"/>
<ellipse cx="653.2" cy="55.0" rx="4.1" ry="2.7" transform="rotate(171 653.2 55.0)" fill="none" stroke="#1e0c03" stroke-width="0.9" opacity="0.8"/>
<ellipse cx="652.3" cy="104.3" rx="5.7" ry="2.3" transform="rotate(21 652.3 104.3)" fill="none" stroke="#1e0c03" stroke-width="0.9" opacity="0.8"/>
<ellipse cx="593.2" cy="64.4" rx="5.2" ry="2.6" transform="rotate(168 593.2 64.4)" fill="none" stroke="#1e0c03" stroke-width="0.9" opacity="0.8"/>
<ellipse cx="520.4" cy="4.4" rx="5.5" ry="3.0" transform="rotate(53 520.4 4.4)" fill="none" stroke="#1e0c03" stroke-width="0.9" opacity="0.8"/>
<ellipse cx="556.9" cy="11.2" rx="3.2" ry="4.0" transform="rotate(73 556.9 11.2)" fill="none" stroke="#1e0c03" stroke-width="0.9" opacity="0.8"/>
<ellipse cx="498.8" cy="105.6" rx="5.1" ry="3.0" transform="rotate(95 498.8 105.6)" fill="none" stroke="#1e0c03" stroke-width="0.9" opacity="0.8"/>
<ellipse cx="411.0" cy="159.3" rx="4.3" ry="3.3" transform="rotate(10 411.0 159.3)" fill="none" stroke="#1e0c03" stroke-width="0.9" opacity="0.8"/>
<ellipse cx="648.8" cy="72.3" rx="5.4" ry="2.7" transform="rotate(129 648.8 72.3)" fill="none" stroke="#1e0c03" stroke-width="0.9" opacity="0.8"/>
<ellipse cx="445.8" cy="99.8" rx="5.0" ry="3.3" transform="rotate(15 445.8 99.8)" fill="none" stroke="#1e0c03" stroke-width="0.9" opacity="0.8"/>
<ellipse cx="515.2" cy="23.0" rx="5.5" ry="3.0" transform="rotate(79 515.2 23.0)" fill="none" stroke="#1e0c03" stroke-width="0.9" opacity="0.8"/>
<ellipse cx="410.5" cy="120.2" rx="5.9" ry="3.5" transform="rotate(157 410.5 120.2)" fill="none" stroke="#1e0c03" stroke-width="0.9" opacity="0.8"/>
<ellipse cx="563.1" cy="43.7" rx="5.2" ry="3.5" transform="rotate(124 563.1 43.7)" fill="none" stroke="#1e0c03" stroke-width="0.9" opacity="0.8"/>
<ellipse cx="650.5" cy="66.1" rx="5.9" ry="3.6" transform="rotate(161 650.5 66.1)" fill="none" stroke="#1e0c03" stroke-width="0.9" opacity="0.8"/>
<ellipse cx="478.8" cy="71.5" rx="5.5" ry="3.9" transform="rotate(166 478.8 71.5)" fill="none" stroke="#1e0c03" stroke-width="0.9" opacity="0.8"/>
<ellipse cx="661.5" cy="166.9" rx="4.2" ry="2.3" transform="rotate(71 661.5 166.9)" fill="none" stroke="#1e0c03" stroke-width="0.9" opacity="0.8"/>
<ellipse cx="423.7" cy="24.7" rx="5.6" ry="3.1" transform="rotate(174 423.7 24.7)" fill="none" stroke="#1e0c03" stroke-width="0.9" opacity="0.8"/>
<ellipse cx="481.0" cy="102.3" rx="5.5" ry="3.1" transform="rotate(44 481.0 102.3)" fill="none" stroke="#1e0c03" stroke-width="0.9" opacity="0.8"/>
<ellipse cx="468.9" cy="114.0" rx="5.9" ry="3.2" transform="rotate(166 468.9 114.0)" fill="none" stroke="#1e0c03" stroke-width="0.9" opacity="0.8"/>
<ellipse cx="600.8" cy="105.4" rx="5.9" ry="3.8" transform="rotate(78 600.8 105.4)" fill="none" stroke="#1e0c03" stroke-width="0.9" opacity="0.8"/>
<ellipse cx="474.8" cy="82.9" rx="5.6" ry="2.9" transform="rotate(53 474.8 82.9)" fill="none" stroke="#1e0c03" stroke-width="0.9" opacity="0.8"/>
<ellipse cx="654.6" cy="65.1" rx="4.2" ry="3.8" transform="rotate(148 654.6 65.1)" fill="none" stroke="#1e0c03" stroke-width="0.9" opacity="0.8"/>
<ellipse cx="447.8" cy="96.3" rx="5.8" ry="3.5" transform="rotate(150 447.8 96.3)" fill="none" stroke="#1e0c03" stroke-width="0.9" opacity="0.8"/>
<ellipse cx="417.6" cy="23.6" rx="4.6" ry="3.3" transform="rotate(113 417.6 23.6)" fill="none" stroke="#1e0c03" stroke-width="0.9" opacity="0.8"/>
<ellipse cx="657.4" cy="65.4" rx="3.1" ry="3.5" transform="rotate(34 657.4 65.4)" fill="none" stroke="#1e0c03" stroke-width="0.9" opacity="0.8"/>
<ellipse cx="509.2" cy="148.7" rx="4.6" ry="3.3" transform="rotate(151 509.2 148.7)" fill="none" stroke="#1e0c03" stroke-width="0.9" opacity="0.8"/>
<ellipse cx="416.8" cy="72.6" rx="5.3" ry="3.0" transform="rotate(112 416.8 72.6)" fill="none" stroke="#1e0c03" stroke-width="0.9" opacity="0.8"/>
<ellipse cx="643.9" cy="20.4" rx="5.7" ry="3.3" transform="rotate(72 643.9 20.4)" fill="none" stroke="#1e0c03" stroke-width="0.9" opacity="0.8"/>
<ellipse cx="412.7" cy="156.1" rx="3.1" ry="3.2" transform="rotate(168 412.7 156.1)" fill="none" stroke="#1e0c03" stroke-width="0.9" opacity="0.8"/>
<ellipse cx="432.2" cy="100.8" rx="5.4" ry="3.4" transform="rotate(54 432.2 100.8)" fill="none" stroke="#1e0c03" stroke-width="0.9" opacity="0.8"/>
<ellipse cx="589.7" cy="55.5" rx="4.2" ry="3.0" transform="rotate(178 589.7 55.5)" fill="none" stroke="#1e0c03" stroke-width="0.9" opacity="0.8"/>
<ellipse cx="446.6" cy="81.9" rx="4.4" ry="2.5" transform="rotate(108 446.6 81.9)" fill="none" stroke="#1e0c03" stroke-width="0.9" opacity="0.8"/>
<ellipse cx="462.3" cy="106.6" rx="5.9" ry="3.8" transform="rotate(66 462.3 106.6)" fill="none" stroke="#1e0c03" stroke-width="0.9" opacity="0.8"/>
<ellipse cx="555.1" cy="137.9" rx="5.9" ry="3.9" transform="rotate(151 555.1 137.9)" fill="none" stroke="#1e0c03" stroke-width="0.9" opacity="0.8"/>
<ellipse cx="666.8" cy="60.6" rx="5.4" ry="2.4" transform="rotate(90 666.8 60.6)" fill="none" stroke="#1e0c03" stroke-width="0.9" opacity="0.8"/>
<ellipse cx="417.4" cy="144.8" rx="3.2" ry="2.4" transform="rotate(14 417.4 144.8)" fill="none" stroke="#1e0c03" stroke-width="0.9" opacity="0.8"/>
<ellipse cx="416.8" cy="130.4" rx="4.7" ry="2.7" transform="rotate(29 416.8 130.4)" fill="none" stroke="#1e0c03" stroke-width="0.9" opacity="0.8"/>
<ellipse cx="510.9" cy="155.9" rx="3.8" ry="3.9" transform="rotate(130 510.9 155.9)" fill="none" stroke="#1e0c03" stroke-width="0.9" opacity="0.8"/>
<ellipse cx="469.2" cy="67.7" rx="5.5" ry="3.6" transform="rotate(174 469.2 67.7)" fill="none" stroke="#1e0c03" stroke-width="0.9" opacity="0.8"/>
<ellipse cx="518.4" cy="168.3" rx="4.9" ry="2.3" transform="rotate(156 518.4 168.3)" fill="none" stroke="#1e0c03" stroke-width="0.9" opacity="0.8"/>
<ellipse cx="520.4" cy="32.6" rx="4.1" ry="3.1" transform="rotate(15 520.4 32.6)" fill="none" stroke="#1e0c03" stroke-width="0.9" opacity="0.8"/>
<ellipse cx="428.0" cy="27.4" rx="4.6" ry="2.5" transform="rotate(50 428.0 27.4)" fill="none" stroke="#1e0c03" stroke-width="0.9" opacity="0.8"/>
<ellipse cx="515.5" cy="35.9" rx="5.6" ry="2.2" transform="rotate(75 515.5 35.9)" fill="none" stroke="#1e0c03" stroke-width="0.9" opacity="0.8"/>
<ellipse cx="439.3" cy="100.0" rx="5.9" ry="2.8" transform="rotate(120 439.3 100.0)" fill="none" stroke="#1e0c03" stroke-width="0.9" opacity="0.8"/>
<ellipse cx="603.8" cy="66.8" rx="4.9" ry="2.3" transform="rotate(43 603.8 66.8)" fill="none" stroke="#1e0c03" stroke-width="0.9" opacity="0.8"/>
<ellipse cx="418.9" cy="32.4" rx="6.0" ry="2.7" transform="rotate(144 418.9 32.4)" fill="none" stroke="#1e0c03" stroke-width="0.9" opacity="0.8"/>
<ellipse cx="659.8" cy="109.7" rx="5.9" ry="3.5" transform="rotate(33 659.8 109.7)" fill="none" stroke="#1e0c03" stroke-width="0.9" opacity="0.8"/>
<ellipse cx="413.4" cy="39.2" rx="3.6" ry="2.3" transform="rotate(105 413.4 39.2)" fill="none" stroke="#1e0c03" stroke-width="0.9" opacity="0.8"/>
<ellipse cx="628.9" cy="102.2" rx="3.7" ry="2.4" transform="rotate(20 628.9 102.2)" fill="none" stroke="#1e0c03" stroke-width="0.9" opacity="0.8"/>
<ellipse cx="562.9" cy="36.6" rx="5.4" ry="3.8" transform="rotate(155 562.9 36.6)" fill="none" stroke="#1e0c03" stroke-width="0.9" opacity="0.8"/>
<ellipse cx="416.2" cy="40.8" rx="4.5" ry="3.1" transform="rotate(47 416.2 40.8)" fill="none" stroke="#1e0c03" stroke-width="0.9" opacity="0.8"/>
<ellipse cx="498.9" cy="107.2" rx="5.3" ry="3.6" transform="rotate(127 498.9 107.2)" fill="none" stroke="#1e0c03" stroke-width="0.9" opacity="0.8"/>
<ellipse cx="420.7" cy="143.6" rx="3.8" ry="2.9" transform="rotate(126 420.7 143.6)" fill="none" stroke="#1e0c03" stroke-width="0.9" opacity="0.8"/>
<ellipse cx="421.3" cy="154.5" rx="5.3" ry="2.6" transform="rotate(49 421.3 154.5)" fill="none" stroke="#1e0c03" stroke-width="0.9" opacity="0.8"/>
<ellipse cx="523.3" cy="15.8" rx="3.0" ry="2.3" transform="rotate(69 523.3 15.8)" fill="none" stroke="#1e0c03" stroke-width="0.9" opacity="0.8"/>
<ellipse cx="652.9" cy="37.5" rx="3.4" ry="2.6" transform="rotate(41 652.9 37.5)" fill="none" stroke="#1e0c03" stroke-width="0.9" opacity="0.8"/>
<ellipse cx="478.0" cy="61.2" rx="5.4" ry="2.9" transform="rotate(128 478.0 61.2)" fill="none" stroke="#1e0c03" stroke-width="0.9" opacity="0.8"/>
<ellipse cx="472.6" cy="115.0" rx="3.4" ry="2.8" transform="rotate(170 472.6 115.0)" fill="none" stroke="#1e0c03" stroke-width="0.9" opacity="0.8"/>
<ellipse cx="432.0" cy="77.0" rx="3.2" ry="2.6" transform="rotate(15 432.0 77.0)" fill="none" stroke="#1e0c03" stroke-width="0.9" opacity="0.8"/>
<ellipse cx="578.8" cy="114.3" rx="5.1" ry="3.9" transform="rotate(16 578.8 114.3)" fill="none" stroke="#1e0c03" stroke-width="0.9" opacity="0.8"/>
<ellipse cx="607.1" cy="84.3" rx="5.7" ry="2.8" transform="rotate(98 607.1 84.3)" fill="none" stroke="#1e0c03" stroke-width="0.9" opacity="0.8"/>
<ellipse cx="490.0" cy="116.8" rx="4.9" ry="2.7" transform="rotate(179 490.0 116.8)" fill="none" stroke="#1e0c03" stroke-width="0.9" opacity="0.8"/>
<ellipse cx="582.9" cy="67.9" rx="5.2" ry="3.4" transform="rotate(3 582.9 67.9)" fill="none" stroke="#1e0c03" stroke-width="0.9" opacity="0.8"/>
<ellipse cx="528.3" cy="23.2" rx="4.9" ry="3.2" transform="rotate(23 528.3 23.2)" fill="none" stroke="#1e0c03" stroke-width="0.9" opacity="0.8"/>
<ellipse cx="496.6" cy="127.0" rx="3.1" ry="4.0" transform="rotate(165 496.6 127.0)" fill="none" stroke="#1e0c03" stroke-width="0.9" opacity="0.8"/>
<ellipse cx="512.2" cy="142.6" rx="5.0" ry="2.5" transform="rotate(178 512.2 142.6)" fill="none" stroke="#1e0c03" stroke-width="0.9" opacity="0.8"/>
<ellipse cx="601.6" cy="108.3" rx="3.1" ry="3.1" transform="rotate(109 601.6 108.3)" fill="none" stroke="#1e0c03" stroke-width="0.9" opacity="0.8"/>
<ellipse cx="466.8" cy="107.8" rx="5.3" ry="3.6" transform="rotate(178 466.8 107.8)" fill="none" stroke="#1e0c03" stroke-width="0.9" opacity="0.8"/>
<ellipse cx="567.1" cy="121.2" rx="3.6" ry="3.3" transform="rotate(23 567.1 121.2)" fill="none" stroke="#1e0c03" stroke-width="0.9" opacity="0.8"/>
<ellipse cx="481.1" cy="116.5" rx="5.9" ry="3.4" transform="rotate(7 481.1 116.5)" fill="none" stroke="#1e0c03" stroke-width="0.9" opacity="0.8"/>
<ellipse cx="507.3" cy="145.0" rx="3.9" ry="3.1" transform="rotate(40 507.3 145.0)" fill="none" stroke="#1e0c03" stroke-width="0.9" opacity="0.8"/>
<ellipse cx="524.7" cy="8.8" rx="3.8" ry="3.8" transform="rotate(165 524.7 8.8)" fill="none" stroke="#1e0c03" stroke-width="0.9" opacity="0.8"/>
<ellipse cx="436.4" cy="101.0" rx="3.9" ry="3.2" transform="rotate(77 436.4 101.0)" fill="none" stroke="#1e0c03" stroke-width="0.9" opacity="0.8"/>
<ellipse cx="483.3" cy="107.3" rx="4.9" ry="3.2" transform="rotate(115 483.3 107.3)" fill="none" stroke="#1e0c03" stroke-width="0.9" opacity="0.8"/>
<ellipse cx="550.4" cy="168.3" rx="6.0" ry="3.2" transform="rotate(53 550.4 168.3)" fill="none" stroke="#1e0c03" stroke-width="0.9" opacity="0.8"/>
<ellipse cx="503.0" cy="41.2" rx="3.4" ry="4.0" transform="rotate(132 503.0 41.2)" fill="none" stroke="#1e0c03" stroke-width="0.9" opacity="0.8"/>
<ellipse cx="489.8" cy="60.0" rx="5.4" ry="2.4" transform="rotate(70 489.8 60.0)" fill="none" stroke="#1e0c03" stroke-width="0.9" opacity="0.8"/>
<ellipse cx="662.3" cy="105.5" rx="3.6" ry="3.7" transform="rotate(176 662.3 105.5)" fill="none" stroke="#1e0c03" stroke-width="0.9" opacity="0.8"/>
<ellipse cx="444.5" cy="88.6" rx="5.1" ry="2.4" transform="rotate(68 444.5 88.6)" fill="none" stroke="#1e0c03" stroke-width="0.9" opacity="0.8"/>
<ellipse cx="439.8" cy="99.9" rx="5.7" ry="4.0" transform="rotate(35 439.8 99.9)" fill="none" stroke="#1e0c03" stroke-width="0.9" opacity="0.8"/>
<ellipse cx="518.5" cy="33.5" rx="5.1" ry="3.9" transform="rotate(98 518.5 33.5)" fill="none" stroke="#1e0c03" stroke-width="0.9" opacity="0.8"/>
<ellipse cx="557.6" cy="137.5" rx="5.6" ry="3.2" transform="rotate(178 557.6 137.5)" fill="none" stroke="#1e0c03" stroke-width="0.9" opacity="0.8"/>
<ellipse cx="432.0" cy="15.4" rx="3.7" ry="3.6" transform="rotate(138 432.0 15.4)" fill="none" stroke="#1e0c03" stroke-width="0.9" opacity="0.8"/>
<ellipse cx="590.8" cy="64.8" rx="3.7" ry="3.0" transform="rotate(47 590.8 64.8)" fill="none" stroke="#1e0c03" stroke-width="0.9" opacity="0.8"/>
<ellipse cx="552.1" cy="6.9" rx="3.5" ry="4.0" transform="rotate(30 552.1 6.9)" fill="none" stroke="#1e0c03" stroke-width="0.9" opacity="0.8"/>
<ellipse cx="647.3" cy="6.1" rx="5.4" ry="2.4" transform="rotate(114 647.3 6.1)" fill="none" stroke="#1e0c03" stroke-width="0.9" opacity="0.8"/>
<ellipse cx="642.7" cy="101.5" rx="5.2" ry="2.5" transform="rotate(19 642.7 101.5)" fill="none" stroke="#1e0c03" stroke-width="0.9" opacity="0.8"/>
<ellipse cx="487.2" cy="118.2" rx="4.1" ry="3.3" transform="rotate(136 487.2 118.2)" fill="none" stroke="#1e0c03" stroke-width="0.9" opacity="0.8"/>
<ellipse cx="587.5" cy="112.6" rx="4.7" ry="3.7" transform="rotate(117 587.5 112.6)" fill="none" stroke="#1e0c03" stroke-width="0.9" opacity="0.8"/>
<ellipse cx="436.9" cy="85.5" rx="3.6" ry="2.3" transform="rotate(150 436.9 85.5)" fill="none" stroke="#1e0c03" stroke-width="0.9" opacity="0.8"/>
<ellipse cx="450.9" cy="72.3" rx="5.8" ry="2.2" transform="rotate(132 450.9 72.3)" fill="none" stroke="#1e0c03" stroke-width="0.9" opacity="0.8"/>
<ellipse cx="587.2" cy="58.2" rx="5.0" ry="3.2" transform="rotate(9 587.2 58.2)" fill="none" stroke="#1e0c03" stroke-width="0.9" opacity="0.8"/>
<ellipse cx="420.9" cy="42.8" rx="3.3" ry="2.4" transform="rotate(57 420.9 42.8)" fill="none" stroke="#1e0c03" stroke-width="0.9" opacity="0.8"/>
<ellipse cx="410.1" cy="124.0" rx="5.7" ry="3.6" transform="rotate(18 410.1 124.0)" fill="none" stroke="#1e0c03" stroke-width="0.9" opacity="0.8"/>
<ellipse cx="488.2" cy="60.3" rx="5.4" ry="2.9" transform="rotate(53 488.2 60.3)" fill="none" stroke="#1e0c03" stroke-width="0.9" opacity="0.8"/>
<ellipse cx="490.6" cy="111.6" rx="4.6" ry="3.5" transform="rotate(170 490.6 111.6)" fill="none" stroke="#1e0c03" stroke-width="0.9" opacity="0.8"/>
<ellipse cx="568.4" cy="32.6" rx="3.7" ry="3.9" transform="rotate(162 568.4 32.6)" fill="none" stroke="#1e0c03" stroke-width="0.9" opacity="0.8"/>
<ellipse cx="435.6" cy="98.6" rx="3.8" ry="3.4" transform="rotate(4 435.6 98.6)" fill="none" stroke="#1e0c03" stroke-width="0.9" opacity="0.8"/>
<ellipse cx="422.2" cy="45.2" rx="4.1" ry="2.8" transform="rotate(121 422.2 45.2)" fill="none" stroke="#1e0c03" stroke-width="0.9" opacity="0.8"/>
<ellipse cx="456.4" cy="93.8" rx="5.6" ry="2.7" transform="rotate(86 456.4 93.8)" fill="none" stroke="#1e0c03" stroke-width="0.9" opacity="0.8"/>
<ellipse cx="516.4" cy="32.4" rx="3.6" ry="2.5" transform="rotate(107 516.4 32.4)" fill="none" stroke="#1e0c03" stroke-width="0.9" opacity="0.8"/>
<ellipse cx="517.7" cy="151.6" rx="5.8" ry="2.3" transform="rotate(180 517.7 151.6)" fill="none" stroke="#1e0c03" stroke-width="0.9" opacity="0.8"/>
<ellipse cx="656.8" cy="147.0" rx="4.0" ry="3.3" transform="rotate(55 656.8 147.0)" fill="none" stroke="#1e0c03" stroke-width="0.9" opacity="0.8"/>
<ellipse cx="422.4" cy="35.0" rx="3.0" ry="2.4" transform="rotate(97 422.4 35.0)" fill="none" stroke="#1e0c03" stroke-width="0.9" opacity="0.8"/>
<ellipse cx="527.5" cy="153.6" rx="3.4" ry="3.5" transform="rotate(176 527.5 153.6)" fill="none" stroke="#1e0c03" stroke-width="0.9" opacity="0.8"/>
<ellipse cx="486.8" cy="56.9" rx="5.7" ry="3.7" transform="rotate(9 486.8 56.9)" fill="none" stroke="#1e0c03" stroke-width="0.9" opacity="0.8"/>
<ellipse cx="453.3" cy="110.0" rx="4.3" ry="2.3" transform="rotate(97 453.3 110.0)" fill="none" stroke="#1e0c03" stroke-width="0.9" opacity="0.8"/>
<ellipse cx="563.2" cy="40.8" rx="4.2" ry="3.0" transform="rotate(107 563.2 40.8)" fill="none" stroke="#1e0c03" stroke-width="0.9" opacity="0.8"/>
<ellipse cx="446.4" cy="79.5" rx="3.9" ry="3.3" transform="rotate(129 446.4 79.5)" fill="none" stroke="#1e0c03" stroke-width="0.9" opacity="0.8"/>
<ellipse cx="651.7" cy="60.6" rx="5.1" ry="2.5" transform="rotate(65 651.7 60.6)" fill="none" stroke="#1e0c03" stroke-width="0.9" opacity="0.8"/>
<ellipse cx="552.7" cy="162.7" rx="3.4" ry="3.8" transform="rotate(46 552.7 162.7)" fill="none" stroke="#1e0c03" stroke-width="0.9" opacity="0.8"/>
<ellipse cx="413.3" cy="145.2" rx="4.3" ry="2.5" transform="rotate(60 413.3 145.2)" fill="none" stroke="#1e0c03" stroke-width="0.9" opacity="0.8"/>
<ellipse cx="475.8" cy="70.4" rx="5.3" ry="3.7" transform="rotate(30 475.8 70.4)" fill="none" stroke="#1e0c03" stroke-width="0.9" opacity="0.8"/>
<ellipse cx="428.3" cy="80.2" rx="6.0" ry="2.6" transform="rotate(80 428.3 80.2)" fill="none" stroke="#1e0c03" stroke-width="0.9" opacity="0.8"/>
<ellipse cx="654.5" cy="9.3" rx="5.3" ry="3.0" transform="rotate(25 654.5 9.3)" fill="none" stroke="#1e0c03" stroke-width="0.9" opacity="0.8"/>
<ellipse cx="424.8" cy="15.7" rx="4.8" ry="2.5" transform="rotate(40 424.8 15.7)" fill="none" stroke="#1e0c03" stroke-width="0.9" opacity="0.8"/>
<ellipse cx="519.0" cy="25.4" rx="5.3" ry="2.7" transform="rotate(104 519.0 25.4)" fill="none" stroke="#1e0c03" stroke-width="0.9" opacity="0.8"/>
<ellipse cx="554.6" cy="146.4" rx="5.4" ry="3.0" transform="rotate(47 554.6 146.4)" fill="none" stroke="#1e0c03" stroke-width="0.9" opacity="0.8"/>
<ellipse cx="415.7" cy="106.6" rx="6.0" ry="3.1" transform="rotate(93 415.7 106.6)" fill="none" stroke="#1e0c03" stroke-width="0.9" opacity="0.8"/>
<ellipse cx="664.4" cy="52.7" rx="5.7" ry="3.6" transform="rotate(134 664.4 52.7)" fill="none" stroke="#1e0c03" stroke-width="0.9" opacity="0.8"/>
<ellipse cx="453.4" cy="72.0" rx="5.8" ry="3.0" transform="rotate(149 453.4 72.0)" fill="none" stroke="#1e0c03" stroke-width="0.9" opacity="0.8"/>
<ellipse cx="491.2" cy="56.7" rx="4.8" ry="2.5" transform="rotate(39 491.2 56.7)" fill="none" stroke="#1e0c03" stroke-width="0.9" opacity="0.8"/>
<ellipse cx="558.5" cy="7.5" rx="3.2" ry="2.7" transform="rotate(79 558.5 7.5)" fill="none" stroke="#1e0c03" stroke-width="0.9" opacity="0.8"/>
<ellipse cx="479.0" cy="65.8" rx="4.2" ry="2.4" transform="rotate(42 479.0 65.8)" fill="none" stroke="#1e0c03" stroke-width="0.9" opacity="0.8"/>
<ellipse cx="613.4" cy="106.0" rx="4.0" ry="3.3" transform="rotate(44 613.4 106.0)" fill="none" stroke="#1e0c03" stroke-width="0.9" opacity="0.8"/>
<ellipse cx="578.7" cy="118.4" rx="3.5" ry="3.1" transform="rotate(50 578.7 118.4)" fill="none" stroke="#1e0c03" stroke-width="0.9" opacity="0.8"/>
<ellipse cx="417.9" cy="73.0" rx="3.4" ry="3.1" transform="rotate(63 417.9 73.0)" fill="none" stroke="#1e0c03" stroke-width="0.9" opacity="0.8"/>
<ellipse cx="637.2" cy="100.3" rx="4.1" ry="2.5" transform="rotate(139 637.2 100.3)" fill="none" stroke="#1e0c03" stroke-width="0.9" opacity="0.8"/>
<ellipse cx="512.1" cy="38.5" rx="3.3" ry="2.9" transform="rotate(148 512.1 38.5)" fill="none" stroke="#1e0c03" stroke-width="0.9" opacity="0.8"/>
<ellipse cx="609.2" cy="63.1" rx="5.0" ry="2.8" transform="rotate(89 609.2 63.1)" fill="none" stroke="#1e0c03" stroke-width="0.9" opacity="0.8"/>
<ellipse cx="664.9" cy="61.5" rx="3.5" ry="2.6" transform="rotate(140 664.9 61.5)" fill="none" stroke="#1e0c03" stroke-width="0.9" opacity="0.8"/>
<ellipse cx="429.9" cy="23.2" rx="5.0" ry="3.5" transform="rotate(170 429.9 23.2)" fill="none" stroke="#1e0c03" stroke-width="0.9" opacity="0.8"/>
<ellipse cx="653.3" cy="72.6" rx="4.1" ry="2.6" transform="rotate(6 653.3 72.6)" fill="none" stroke="#1e0c03" stroke-width="0.9" opacity="0.8"/>
<ellipse cx="414.3" cy="142.5" rx="4.0" ry="2.8" transform="rotate(114 414.3 142.5)" fill="none" stroke="#1e0c03" stroke-width="0.9" opacity="0.8"/>
<ellipse cx="496.4" cy="121.2" rx="4.5" ry="3.3" transform="rotate(140 496.4 121.2)" fill="none" stroke="#1e0c03" stroke-width="0.9" opacity="0.8"/>
<ellipse cx="659.6" cy="102.8" rx="5.0" ry="2.2" transform="rotate(179 659.6 102.8)" fill="none" stroke="#1e0c03" stroke-width="0.9" opacity="0.8"/>
<ellipse cx="509.8" cy="33.9" rx="3.1" ry="3.5" transform="rotate(24 509.8 33.9)" fill="none" stroke="#1e0c03" stroke-width="0.9" opacity="0.8"/>
<ellipse cx="415.7" cy="54.8" rx="4.7" ry="2.6" transform="rotate(95 415.7 54.8)" fill="none" stroke="#1e0c03" stroke-width="0.9" opacity="0.8"/>
<ellipse cx="510.2" cy="47.9" rx="5.8" ry="3.0" transform="rotate(23 510.2 47.9)" fill="none" stroke="#1e0c03" stroke-width="0.9" opacity="0.8"/>
<ellipse cx="410.9" cy="143.2" rx="4.7" ry="3.6" transform="rotate(152 410.9 143.2)" fill="none" stroke="#1e0c03" stroke-width="0.9" opacity="0.8"/>
<ellipse cx="656.9" cy="30.3" rx="5.3" ry="3.9" transform="rotate(86 656.9 30.3)" fill="none" stroke="#1e0c03" stroke-width="0.9" opacity="0.8"/>
<ellipse cx="509.1" cy="130.6" rx="4.1" ry="2.2" transform="rotate(82 509.1 130.6)" fill="none" stroke="#1e0c03" stroke-width="0.9" opacity="0.8"/>
<ellipse cx="428.1" cy="18.8" rx="4.3" ry="3.0" transform="rotate(168 428.1 18.8)" fill="none" stroke="#1e0c03" stroke-width="0.9" opacity="0.8"/>
<ellipse cx="412.6" cy="129.2" rx="5.7" ry="2.2" transform="rotate(102 412.6 129.2)" fill="none" stroke="#1e0c03" stroke-width="0.9" opacity="0.8"/>
<ellipse cx="656.2" cy="162.6" rx="3.6" ry="3.3" transform="rotate(98 656.2 162.6)" fill="none" stroke="#1e0c03" stroke-width="0.9" opacity="0.8"/>
<ellipse cx="422.6" cy="80.3" rx="3.9" ry="2.7" transform="rotate(76 422.6 80.3)" fill="none" stroke="#1e0c03" stroke-width="0.9" opacity="0.8"/>
<ellipse cx="479.1" cy="110.7" rx="3.6" ry="2.2" transform="rotate(96 479.1 110.7)" fill="none" stroke="#1e0c03" stroke-width="0.9" opacity="0.8"/>
<ellipse cx="599.7" cy="101.2" rx="5.9" ry="3.6" transform="rotate(20 599.7 101.2)" fill="none" stroke="#1e0c03" stroke-width="0.9" opacity="0.8"/>
<ellipse cx="557.0" cy="13.4" rx="5.8" ry="3.6" transform="rotate(22 557.0 13.4)" fill="none" stroke="#1e0c03" stroke-width="0.9" opacity="0.8"/>
<ellipse cx="466.0" cy="71.6" rx="3.6" ry="2.8" transform="rotate(107 466.0 71.6)" fill="none" stroke="#1e0c03" stroke-width="0.9" opacity="0.8"/>
<ellipse cx="608.6" cy="108.2" rx="4.1" ry="2.4" transform="rotate(123 608.6 108.2)" fill="none" stroke="#1e0c03" stroke-width="0.9" opacity="0.8"/>
<ellipse cx="410.8" cy="53.8" rx="4.4" ry="3.0" transform="rotate(37 410.8 53.8)" fill="none" stroke="#1e0c03" stroke-width="0.9" opacity="0.8"/>
<ellipse cx="428.8" cy="80.2" rx="3.4" ry="2.8" transform="rotate(72 428.8 80.2)" fill="none" stroke="#1e0c03" stroke-width="0.9" opacity="0.8"/>
<ellipse cx="659.6" cy="58.0" rx="4.4" ry="2.5" transform="rotate(11 659.6 58.0)" fill="none" stroke="#1e0c03" stroke-width="0.9" opacity="0.8"/>
<ellipse cx="652.3" cy="39.2" rx="5.8" ry="3.8" transform="rotate(15 652.3 39.2)" fill="none" stroke="#1e0c03" stroke-width="0.9" opacity="0.8"/>
<ellipse cx="656.5" cy="62.8" rx="5.6" ry="3.6" transform="rotate(107 656.5 62.8)" fill="none" stroke="#1e0c03" stroke-width="0.9" opacity="0.8"/>
<ellipse cx="495.0" cy="123.5" rx="5.2" ry="3.0" transform="rotate(137 495.0 123.5)" fill="none" stroke="#1e0c03" stroke-width="0.9" opacity="0.8"/>
<ellipse cx="474.9" cy="109.3" rx="3.8" ry="2.9" transform="rotate(24 474.9 109.3)" fill="none" stroke="#1e0c03" stroke-width="0.9" opacity="0.8"/>
<ellipse cx="583.0" cy="114.5" rx="5.4" ry="3.7" transform="rotate(25 583.0 114.5)" fill="none" stroke="#1e0c03" stroke-width="0.9" opacity="0.8"/>
<ellipse cx="418.6" cy="146.7" rx="4.6" ry="3.9" transform="rotate(35 418.6 146.7)" fill="none" stroke="#1e0c03" stroke-width="0.9" opacity="0.8"/>
<ellipse cx="634.9" cy="76.0" rx="5.4" ry="3.7" transform="rotate(131 634.9 76.0)" fill="none" stroke="#1e0c03" stroke-width="0.9" opacity="0.8"/>
<ellipse cx="499.2" cy="67.8" rx="5.7" ry="2.7" transform="rotate(135 499.2 67.8)" fill="none" stroke="#1e0c03" stroke-width="0.9" opacity="0.8"/>
<ellipse cx="507.5" cy="125.8" rx="4.6" ry="2.4" transform="rotate(58 507.5 125.8)" fill="none" stroke="#1e0c03" stroke-width="0.9" opacity="0.8"/>
<ellipse cx="559.8" cy="140.7" rx="5.4" ry="3.4" transform="rotate(148 559.8 140.7)" fill="none" stroke="#1e0c03" stroke-width="0.9" opacity="0.8"/>
<ellipse cx="512.3" cy="130.9" rx="5.5" ry="3.8" transform="rotate(115 512.3 130.9)" fill="none" stroke="#1e0c03" stroke-width="0.9" opacity="0.8"/>
<ellipse cx="420.6" cy="89.2" rx="4.5" ry="3.4" transform="rotate(94 420.6 89.2)" fill="none" stroke="#1e0c03" stroke-width="0.9" opacity="0.8"/>
<ellipse cx="652.4" cy="14.4" rx="3.9" ry="2.3" transform="rotate(51 652.4 14.4)" fill="none" stroke="#1e0c03" stroke-width="0.9" opacity="0.8"/>
<ellipse cx="648.7" cy="14.7" rx="4.6" ry="2.7" transform="rotate(163 648.7 14.7)" fill="none" stroke="#1e0c03" stroke-width="0.9" opacity="0.8"/>
<ellipse cx="612.5" cy="71.5" rx="3.9" ry="2.5" transform="rotate(142 612.5 71.5)" fill="none" stroke="#1e0c03" stroke-width="0.9" opacity="0.8"/>
<ellipse cx="449.6" cy="93.8" rx="3.1" ry="3.1" transform="rotate(129 449.6 93.8)" fill="none" stroke="#1e0c03" stroke-width="0.9" opacity="0.8"/>
<ellipse cx="665.7" cy="41.8" rx="5.5" ry="2.6" transform="rotate(31 665.7 41.8)" fill="none" stroke="#1e0c03" stroke-width="0.9" opacity="0.8"/>
<ellipse cx="562.6" cy="150.0" rx="3.9" ry="2.2" transform="rotate(5 562.6 150.0)" fill="none" stroke="#1e0c03" stroke-width="0.9" opacity="0.8"/>
<ellipse cx="649.2" cy="42.1" rx="3.7" ry="3.9" transform="rotate(159 649.2 42.1)" fill="none" stroke="#1e0c03" stroke-width="0.9" opacity="0.8"/>
<ellipse cx="654.3" cy="43.6" rx="5.8" ry="3.8" transform="rotate(92 654.3 43.6)" fill="none" stroke="#1e0c03" stroke-width="0.9" opacity="0.8"/>
<ellipse cx="419.9" cy="58.8" rx="4.6" ry="2.8" transform="rotate(72 419.9 58.8)" fill="none" stroke="#1e0c03" stroke-width="0.9" opacity="0.8"/>
<ellipse cx="656.7" cy="50.1" rx="4.2" ry="2.2" transform="rotate(148 656.7 50.1)" fill="none" stroke="#1e0c03" stroke-width="0.9" opacity="0.8"/>
<ellipse cx="451.8" cy="72.3" rx="3.2" ry="3.1" transform="rotate(117 451.8 72.3)" fill="none" stroke="#1e0c03" stroke-width="0.9" opacity="0.8"/>
<ellipse cx="424.3" cy="95.1" rx="3.9" ry="2.2" transform="rotate(127 424.3 95.1)" fill="none" stroke="#1e0c03" stroke-width="0.9" opacity="0.8"/>
<ellipse cx="461.3" cy="104.4" rx="3.8" ry="3.7" transform="rotate(94 461.3 104.4)" fill="none" stroke="#1e0c03" stroke-width="0.9" opacity="0.8"/>
<ellipse cx="464.8" cy="78.1" rx="6.0" ry="2.9" transform="rotate(65 464.8 78.1)" fill="none" stroke="#1e0c03" stroke-width="0.9" opacity="0.8"/>
<ellipse cx="421.4" cy="36.6" rx="5.6" ry="3.5" transform="rotate(11 421.4 36.6)" fill="none" stroke="#1e0c03" stroke-width="0.9" opacity="0.8"/>
<ellipse cx="424.8" cy="11.4" rx="3.6" ry="3.1" transform="rotate(68 424.8 11.4)" fill="none" stroke="#1e0c03" stroke-width="0.9" opacity="0.8"/>
<ellipse cx="471.6" cy="103.9" rx="5.5" ry="3.0" transform="rotate(89 471.6 103.9)" fill="none" stroke="#1e0c03" stroke-width="0.9" opacity="0.8"/>
<ellipse cx="578.5" cy="53.2" rx="3.7" ry="3.6" transform="rotate(97 578.5 53.2)" fill="none" stroke="#1e0c03" stroke-width="0.9" opacity="0.8"/>
<ellipse cx="522.3" cy="142.8" rx="3.4" ry="3.7" transform="rotate(39 522.3 142.8)" fill="none" stroke="#1e0c03" stroke-width="0.9" opacity="0.8"/>
<ellipse cx="417.9" cy="108.7" rx="5.3" ry="3.3" transform="rotate(155 417.9 108.7)" fill="none" stroke="#1e0c03" stroke-width="0.9" opacity="0.8"/>
<ellipse cx="505.5" cy="36.5" rx="5.3" ry="3.1" transform="rotate(27 505.5 36.5)" fill="none" stroke="#1e0c03" stroke-width="0.9" opacity="0.8"/>
<ellipse cx="412.1" cy="70.8" rx="5.8" ry="3.6" transform="rotate(25 412.1 70.8)" fill="none" stroke="#1e0c03" stroke-width="0.9" opacity="0.8"/>
<ellipse cx="653.0" cy="64.7" rx="4.1" ry="2.4" transform="rotate(163 653.0 64.7)" fill="none" stroke="#1e0c03" stroke-width="0.9" opacity="0.8"/>
<ellipse cx="475.2" cy="105.4" rx="5.8" ry="3.3" transform="rotate(180 475.2 105.4)" fill="none" stroke="#1e0c03" stroke-width="0.9" opacity="0.8"/>
<ellipse cx="548.5" cy="39.6" rx="5.8" ry="3.7" transform="rotate(132 548.5 39.6)" fill="none" stroke="#1e0c03" stroke-width="0.9" opacity="0.8"/>
<ellipse cx="649.7" cy="6.4" rx="4.8" ry="3.7" transform="rotate(22 649.7 6.4)" fill="none" stroke="#1e0c03" stroke-width="0.9" opacity="0.8"/>
<ellipse cx="609.9" cy="64.1" rx="5.1" ry="2.2" transform="rotate(167 609.9 64.1)" fill="none" stroke="#1e0c03" stroke-width="0.9" opacity="0.8"/>
<ellipse cx="550.0" cy="131.5" rx="5.8" ry="2.9" transform="rotate(115 550.0 131.5)" fill="none" stroke="#1e0c03" stroke-width="0.9" opacity="0.8"/>
<ellipse cx="453.5" cy="105.8" rx="5.6" ry="2.4" transform="rotate(140 453.5 105.8)" fill="none" stroke="#1e0c03" stroke-width="0.9" opacity="0.8"/>
<ellipse cx="582.7" cy="115.2" rx="4.3" ry="3.3" transform="rotate(128 582.7 115.2)" fill="none" stroke="#1e0c03" stroke-width="0.9" opacity="0.8"/>
<ellipse cx="591.3" cy="56.8" rx="3.1" ry="3.9" transform="rotate(91 591.3 56.8)" fill="none" stroke="#1e0c03" stroke-width="0.9" opacity="0.8"/>
<ellipse cx="650.1" cy="100.9" rx="5.3" ry="3.8" transform="rotate(129 650.1 100.9)" fill="none" stroke="#1e0c03" stroke-width="0.9" opacity="0.8"/>
<ellipse cx="569.5" cy="68.2" rx="4.8" ry="3.6" transform="rotate(63 569.5 68.2)" fill="none" stroke="#1e0c03" stroke-width="0.9" opacity="0.8"/>
<ellipse cx="640.7" cy="7.5" rx="3.6" ry="3.6" transform="rotate(28 640.7 7.5)" fill="none" stroke="#1e0c03" stroke-width="0.9" opacity="0.8"/>
<ellipse cx="594.6" cy="105.9" rx="4.7" ry="2.7" transform="rotate(90 594.6 105.9)" fill="none" stroke="#1e0c03" stroke-width="0.9" opacity="0.8"/>
<ellipse cx="604.8" cy="63.9" rx="5.1" ry="3.0" transform="rotate(179 604.8 63.9)" fill="none" stroke="#1e0c03" stroke-width="0.9" opacity="0.8"/>
<ellipse cx="515.0" cy="40.2" rx="5.2" ry="3.7" transform="rotate(122 515.0 40.2)" fill="none" stroke="#1e0c03" stroke-width="0.9" opacity="0.8"/>
<ellipse cx="605.8" cy="70.0" rx="4.8" ry="3.7" transform="rotate(56 605.8 70.0)" fill="none" stroke="#1e0c03" stroke-width="0.9" opacity="0.8"/>
<ellipse cx="510.6" cy="46.8" rx="5.7" ry="3.1" transform="rotate(150 510.6 46.8)" fill="none" stroke="#1e0c03" stroke-width="0.9" opacity="0.8"/>
<ellipse cx="501.8" cy="111.2" rx="3.7" ry="2.7" transform="rotate(93 501.8 111.2)" fill="none" stroke="#1e0c03" stroke-width="0.9" opacity="0.8"/>
<ellipse cx="602.9" cy="107.9" rx="4.1" ry="3.4" transform="rotate(128 602.9 107.9)" fill="none" stroke="#1e0c03" stroke-width="0.9" opacity="0.8"/>
<ellipse cx="486.8" cy="119.3" rx="5.4" ry="2.8" transform="rotate(159 486.8 119.3)" fill="none" stroke="#1e0c03" stroke-width="0.9" opacity="0.8"/>
<ellipse cx="647.8" cy="73.2" rx="3.9" ry="3.2" transform="rotate(30 647.8 73.2)" fill="none" stroke="#1e0c03" stroke-width="0.9" opacity="0.8"/>
<ellipse cx="570.5" cy="116.2" rx="5.4" ry="2.4" transform="rotate(115 570.5 116.2)" fill="none" stroke="#1e0c03" stroke-width="0.9" opacity="0.8"/>
<ellipse cx="660.3" cy="111.0" rx="3.9" ry="2.4" transform="rotate(168 660.3 111.0)" fill="none" stroke="#1e0c03" stroke-width="0.9" opacity="0.8"/>
<ellipse cx="562.3" cy="134.1" rx="5.4" ry="3.1" transform="rotate(158 562.3 134.1)" fill="none" stroke="#1e0c03" stroke-width="0.9" opacity="0.8"/>
<polygon points="671.60,6.80 645.50,34.80 647.60,142.00 671.60,168.50" fill="#0e0400" />
<polyline points="671.60,6.80 645.50,34.80 647.60,142.00 671.60,168.50" fill="none" stroke="#e8e8e8" stroke-width="1.2" />
<polygon points="614.60,89.60 629.20,82.40 645.50,82.40 645.50,95.50 629.20,95.50" fill="#0e0400" />
<polyline points="645.50,82.40 629.20,82.40 614.60,89.60 629.20,95.50 645.50,95.50" fill="none" stroke="#e8e8e8" stroke-width="1.1" />
<circle cx="616.9" cy="91.2" r="6" fill="none" stroke="#ff1010" stroke-width="1.6"/>
</g>
<text transform="translate(438.00,64.60) scale(1,1.17)" font-size="16.3" text-anchor="middle" font-weight="normal" font-style="normal" fill="#000" >1</text>
<text transform="translate(472.00,64.60) scale(1,1.17)" font-size="16.3" text-anchor="middle" font-weight="normal" font-style="normal" fill="#000" >2</text>
<text transform="translate(492.50,64.60) scale(1,1.17)" font-size="16.3" text-anchor="middle" font-weight="normal" font-style="normal" fill="#fff" >3</text>
<text transform="translate(513.50,64.60) scale(1,1.17)" font-size="16.3" text-anchor="middle" font-weight="normal" font-style="normal" fill="#fff" >4</text>
<text transform="translate(536.00,64.60) scale(1,1.17)" font-size="16.3" text-anchor="middle" font-weight="normal" font-style="normal" fill="#fff" >5</text>
<text transform="translate(553.00,64.60) scale(1,1.17)" font-size="16.3" text-anchor="middle" font-weight="normal" font-style="normal" fill="#fff" >6</text>
<text transform="translate(577.20,64.60) scale(1,1.17)" font-size="16.3" text-anchor="middle" font-weight="normal" font-style="normal" fill="#fff" >7</text>
<text transform="translate(596.00,64.60) scale(1,1.17)" font-size="16.3" text-anchor="middle" font-weight="normal" font-style="normal" fill="#fff" >8</text>
<text transform="translate(615.60,64.60) scale(1,1.17)" font-size="16.3" text-anchor="middle" font-weight="normal" font-style="normal" fill="#000" >9</text>
<text transform="translate(636.30,64.60) scale(1,1.17)" font-size="16.3" text-anchor="middle" font-weight="normal" font-style="normal" fill="#000" >10</text>
<rect x="568.9" y="159" width="93.1" height="3" fill="#fff"/>
<text x="567.50" y="131.20" font-size="18" text-anchor="start" font-weight="bold" font-style="normal" fill="#fff" >500</text>
<text x="601.00" y="131.20" font-size="18" text-anchor="start" font-weight="bold" font-style="normal" fill="#fff" >μm</text>
<text x="1.30" y="221.20" font-size="25" text-anchor="start" font-weight="normal" font-style="normal" fill="#000" >b</text>
<text transform="translate(15.00,312.60) rotate(-90)" font-size="22.2" font-weight="normal" fill="#000">Force</text>
<text x="97.73" y="371.95" font-size="20.96" text-anchor="start" font-weight="normal" font-style="normal" fill="#000" >Tip-sample separation</text>
<line x1="65.40" y1="349.40" x2="65.40" y2="220.00" stroke="#222" stroke-width="1.3" />
<polygon points="65.30,208.70 62.00,221.40 68.60,221.40" fill="#000" />
<line x1="64.80" y1="349.40" x2="320.00" y2="349.40" stroke="#222" stroke-width="1.3" />
<polygon points="332.10,349.60 319.40,346.10 319.40,353.10" fill="#000" />
<defs>
<radialGradient id="bSph" cx="0.62" cy="0.38" r="0.62"><stop offset="0" stop-color="#b8b8b8"/><stop offset="0.35" stop-color="#707070"/><stop offset="1" stop-color="#3c3c3c"/></radialGradient>
<linearGradient id="bCant" x1="0" y1="0" x2="0" y2="1"><stop offset="0" stop-color="#6a6a6a"/><stop offset="1" stop-color="#4a4a4a"/></linearGradient>
</defs>
<path d="M108.6,267.4 C125,263.3 150,259.6 177.3,245.3 L186.7,250.5 C166,263 146,270.3 116,272.6 Z" fill="url(#bCant)"/>
<circle cx="118.1" cy="276.8" r="7.9" fill="url(#bSph)"/>
<path d="M108.6,321.3 C125,311.5 145,302.5 177.3,298.9 L187.3,305.3 C160,305.3 140,310.5 117,326 Z" fill="url(#bCant)"/>
<circle cx="118.8" cy="328.1" r="7.9" fill="url(#bSph)"/>
<line x1="88.20" y1="337.50" x2="198.00" y2="337.50" stroke="#111" stroke-width="1.3" stroke-dasharray="4.4 3.45"/>
<path d="M73.6,223 L79.6,312 C80,328 81,336.3 83.6,336.3 C86.5,336.3 89,331 94,321.3 C100,311 110,301 125,296 C140,292.3 160,291.9 200,291.9 L324,291.9" fill="none" stroke="#ff0000" stroke-width="2.4"/>
<path d="M75.4,220.4 L85.6,269 C88,281 91,290.5 97,291.4 C101,292 104,290.4 110,290.6 L324,290.8" fill="none" stroke="#000" stroke-width="2.1"/>
<line x1="73.30" y1="221.90" x2="80.00" y2="307.70" stroke="#0000ff" stroke-width="2.8" />
<line x1="80.00" y1="269.50" x2="94.50" y2="248.60" stroke="#0000ff" stroke-width="1.2" />
<polygon points="96.80,245.30 91.50,248.30 95.50,251.30" fill="#0000ff" />
<text x="88.72" y="242.66" font-size="14.0" text-anchor="start" font-weight="normal" font-style="normal" fill="#0000ff" >DMT modulus fit</text>
<text x="197.20" y="243.50" font-size="16.5" text-anchor="start" font-weight="normal" font-style="italic" fill="#1a1aff" stroke="#1a1aff" stroke-width="0.35">F</text>
<text x="210.50" y="243.50" font-size="16.5" text-anchor="start" font-weight="normal" font-style="normal" fill="#1a1aff" stroke="#1a1aff" stroke-width="0.35">=</text>
<text x="229.50" y="233.60" font-size="14.5" text-anchor="middle" font-weight="normal" font-style="normal" fill="#1a1aff" stroke="#1a1aff" stroke-width="0.35">4</text>
<line x1="225.00" y1="238.60" x2="234.00" y2="238.60" stroke="#1a1aff" stroke-width="1.1" />
<text x="229.50" y="253.30" font-size="14.5" text-anchor="middle" font-weight="normal" font-style="normal" fill="#1a1aff" stroke="#1a1aff" stroke-width="0.35">3</text>
<text x="235.50" y="243.50" font-size="16.5" text-anchor="start" font-weight="normal" font-style="italic" fill="#1a1aff" stroke="#1a1aff" stroke-width="0.35">E</text>
<polyline points="245.80,238.00 248.00,236.50 251.50,245.00 254.50,225.00 281.50,225.00" fill="none" stroke="#1a1aff" stroke-width="1.1" />
<text x="256.50" y="243.50" font-size="16.5" text-anchor="start" font-weight="normal" font-style="italic" fill="#1a1aff" stroke="#1a1aff" stroke-width="0.35">Rd</text>
<text x="275.40" y="234.50" font-size="11" text-anchor="start" font-weight="normal" font-style="normal" fill="#1a1aff" stroke="#1a1aff" stroke-width="0.35">3</text>
<text x="285.50" y="243.50" font-size="16.5" text-anchor="start" font-weight="normal" font-style="normal" fill="#1a1aff" stroke="#1a1aff" stroke-width="0.35">+</text>
<text x="299.20" y="243.50" font-size="16.5" text-anchor="start" font-weight="normal" font-style="italic" fill="#1a1aff" stroke="#1a1aff" stroke-width="0.35">F</text>
<text x="309.30" y="245.70" font-size="11.5" text-anchor="start" font-weight="normal" font-style="italic" fill="#1a1aff" stroke="#1a1aff" stroke-width="0.35">adh</text>
<text x="267.16" y="270.20" font-size="13.72" text-anchor="start" font-weight="normal" font-style="normal" fill="#000" >Approach</text>
<line x1="252.00" y1="280.70" x2="314.30" y2="280.70" stroke="#000" stroke-width="2.2" />
<polygon points="241.20,280.70 252.50,275.90 252.50,285.50" fill="#000" />
<line x1="241.20" y1="301.60" x2="303.00" y2="301.60" stroke="#ff0000" stroke-width="2.2" />
<polygon points="314.80,301.60 301.50,296.80 301.50,306.40" fill="#ff0000" />
<text x="256.90" y="319.00" font-size="13.61" text-anchor="start" font-weight="normal" font-style="normal" fill="#ff0000" >Withdrawal</text>
<line x1="194.90" y1="301.00" x2="194.90" y2="327.00" stroke="#333" stroke-width="1.2" />
<polygon points="194.90,293.10 191.50,303.00 198.30,303.00" fill="#000" />
<polygon points="194.90,335.20 191.50,325.20 198.30,325.20" fill="#000" />
<text x="201.20" y="327.50" font-size="13.5" text-anchor="start" font-weight="normal" font-style="italic" fill="#000" >F</text>
<text x="209.50" y="329.80" font-size="10" text-anchor="start" font-weight="normal" font-style="italic" fill="#000" >adh</text>
<text x="1.40" y="419.50" font-size="25" text-anchor="start" font-weight="normal" font-style="normal" fill="#000" >c</text>
<text transform="translate(20.30,510.00) rotate(-90)" font-size="17.6" font-weight="bold" fill="#000">Force (nN)</text>
<text x="110.07" y="584.10" font-size="15.64" text-anchor="start" font-weight="bold" font-style="normal" fill="#000" >Tip-sample separation (nm)</text>
<text transform="translate(60.50,405.16) scale(1,1.17)" font-size="15.8" text-anchor="end" font-weight="normal" font-style="normal" fill="#000" >800</text>
<text transform="translate(60.50,440.88) scale(1,1.17)" font-size="15.8" text-anchor="end" font-weight="normal" font-style="normal" fill="#000" >400</text>
<text transform="translate(60.50,476.60) scale(1,1.17)" font-size="15.8" text-anchor="end" font-weight="normal" font-style="normal" fill="#000" >0</text>
<text transform="translate(60.50,512.32) scale(1,1.17)" font-size="15.8" text-anchor="end" font-weight="normal" font-style="normal" fill="#000" >-400</text>
<text transform="translate(60.50,548.04) scale(1,1.17)" font-size="15.8" text-anchor="end" font-weight="normal" font-style="normal" fill="#000" >-800</text>
<text transform="translate(91.30,560.20) scale(1,1.17)" font-size="15.8" text-anchor="middle" font-weight="normal" font-style="normal" fill="#000" >0</text>
<text transform="translate(133.30,560.20) scale(1,1.17)" font-size="15.8" text-anchor="middle" font-weight="normal" font-style="normal" fill="#000" >300</text>
<text transform="translate(175.30,560.20) scale(1,1.17)" font-size="15.8" text-anchor="middle" font-weight="normal" font-style="normal" fill="#000" >600</text>
<text transform="translate(217.30,560.20) scale(1,1.17)" font-size="15.8" text-anchor="middle" font-weight="normal" font-style="normal" fill="#000" >900</text>
<text transform="translate(259.30,560.20) scale(1,1.17)" font-size="15.8" text-anchor="middle" font-weight="normal" font-style="normal" fill="#000" >1200</text>
<text transform="translate(301.30,560.20) scale(1,1.17)" font-size="15.8" text-anchor="middle" font-weight="normal" font-style="normal" fill="#000" >1500</text>
<line x1="63.80" y1="543.04" x2="68.30" y2="543.04" stroke="#000" stroke-width="1.3" />
<line x1="63.80" y1="525.18" x2="66.40" y2="525.18" stroke="#000" stroke-width="1.3" />
<line x1="63.80" y1="507.32" x2="68.30" y2="507.32" stroke="#000" stroke-width="1.3" />
<line x1="63.80" y1="489.46" x2="66.40" y2="489.46" stroke="#000" stroke-width="1.3" />
<line x1="63.80" y1="471.60" x2="68.30" y2="471.60" stroke="#000" stroke-width="1.3" />
<line x1="63.80" y1="453.74" x2="66.40" y2="453.74" stroke="#000" stroke-width="1.3" />
<line x1="63.80" y1="435.88" x2="68.30" y2="435.88" stroke="#000" stroke-width="1.3" />
<line x1="63.80" y1="418.02" x2="66.40" y2="418.02" stroke="#000" stroke-width="1.3" />
<line x1="63.80" y1="400.16" x2="68.30" y2="400.16" stroke="#000" stroke-width="1.3" />
<line x1="70.30" y1="543.00" x2="70.30" y2="540.40" stroke="#000" stroke-width="1.3" />
<line x1="91.30" y1="543.00" x2="91.30" y2="538.50" stroke="#000" stroke-width="1.3" />
<line x1="112.30" y1="543.00" x2="112.30" y2="540.40" stroke="#000" stroke-width="1.3" />
<line x1="133.30" y1="543.00" x2="133.30" y2="538.50" stroke="#000" stroke-width="1.3" />
<line x1="154.30" y1="543.00" x2="154.30" y2="540.40" stroke="#000" stroke-width="1.3" />
<line x1="175.30" y1="543.00" x2="175.30" y2="538.50" stroke="#000" stroke-width="1.3" />
<line x1="196.30" y1="543.00" x2="196.30" y2="540.40" stroke="#000" stroke-width="1.3" />
<line x1="217.30" y1="543.00" x2="217.30" y2="538.50" stroke="#000" stroke-width="1.3" />
<line x1="238.30" y1="543.00" x2="238.30" y2="540.40" stroke="#000" stroke-width="1.3" />
<line x1="259.30" y1="543.00" x2="259.30" y2="538.50" stroke="#000" stroke-width="1.3" />
<line x1="280.30" y1="543.00" x2="280.30" y2="540.40" stroke="#000" stroke-width="1.3" />
<line x1="301.30" y1="543.00" x2="301.30" y2="538.50" stroke="#000" stroke-width="1.3" />
<line x1="322.30" y1="543.00" x2="322.30" y2="540.40" stroke="#000" stroke-width="1.3" />
<rect x="63.8" y="400.6" width="265.2" height="142.39999999999998" fill="none" stroke="#000" stroke-width="1.6"/>
<line x1="101.52" y1="533.22" x2="101.52" y2="471.60" stroke="#000" stroke-width="0.6" />
<line x1="90.80" y1="447.49" x2="101.52" y2="533.22" stroke="#000" stroke-width="3.6" />
<line x1="104.74" y1="503.75" x2="104.74" y2="471.60" stroke="#ff0000" stroke-width="0.6" />
<line x1="91.30" y1="447.49" x2="104.74" y2="503.75" stroke="#ff0000" stroke-width="4.2" />
<line x1="104.74" y1="472.00" x2="302.42" y2="472.00" stroke="#ff0000" stroke-width="4.2" />
<line x1="133.86" y1="521.61" x2="133.86" y2="471.60" stroke="#3030ff" stroke-width="0.7" />
<polygon points="91.80,443.84 88.90,448.94 94.70,448.94" fill="#0000ff" />
<polygon points="93.04,446.04 90.14,451.14 95.94,451.14" fill="#0000ff" />
<polygon points="94.27,448.23 91.37,453.33 97.17,453.33" fill="#0000ff" />
<polygon points="95.51,450.42 92.61,455.52 98.41,455.52" fill="#0000ff" />
<polygon points="96.75,452.61 93.85,457.71 99.65,457.71" fill="#0000ff" />
<polygon points="97.99,454.81 95.09,459.91 100.89,459.91" fill="#0000ff" />
<polygon points="99.22,457.00 96.32,462.10 102.12,462.10" fill="#0000ff" />
<polygon points="100.46,459.19 97.56,464.29 103.36,464.29" fill="#0000ff" />
<polygon points="101.70,461.39 98.80,466.49 104.60,466.49" fill="#0000ff" />
<polygon points="102.93,463.58 100.03,468.68 105.83,468.68" fill="#0000ff" />
<polygon points="104.17,465.77 101.27,470.87 107.07,470.87" fill="#0000ff" />
<polygon points="105.41,467.97 102.51,473.07 108.31,473.07" fill="#0000ff" />
<polygon points="106.64,470.16 103.74,475.26 109.54,475.26" fill="#0000ff" />
<polygon points="107.88,472.35 104.98,477.45 110.78,477.45" fill="#0000ff" />
<polygon points="109.12,474.55 106.22,479.65 112.02,479.65" fill="#0000ff" />
<polygon points="110.36,476.74 107.46,481.84 113.26,481.84" fill="#0000ff" />
<polygon points="111.59,478.93 108.69,484.03 114.49,484.03" fill="#0000ff" />
<polygon points="112.83,481.13 109.93,486.23 115.73,486.23" fill="#0000ff" />
<polygon points="114.07,483.32 111.17,488.42 116.97,488.42" fill="#0000ff" />
<polygon points="115.30,485.51 112.40,490.61 118.20,490.61" fill="#0000ff" />
<polygon points="116.54,487.70 113.64,492.80 119.44,492.80" fill="#0000ff" />
<polygon points="117.78,489.90 114.88,495.00 120.68,495.00" fill="#0000ff" />
<polygon points="119.02,492.09 116.12,497.19 121.92,497.19" fill="#0000ff" />
<polygon points="120.25,494.28 117.35,499.38 123.15,499.38" fill="#0000ff" />
<polygon points="121.49,496.48 118.59,501.58 124.39,501.58" fill="#0000ff" />
<polygon points="122.73,498.67 119.83,503.77 125.63,503.77" fill="#0000ff" />
<polygon points="123.96,500.86 121.06,505.96 126.86,505.96" fill="#0000ff" />
<polygon points="125.20,503.06 122.30,508.16 128.10,508.16" fill="#0000ff" />
<polygon points="126.44,505.25 123.54,510.35 129.34,510.35" fill="#0000ff" />
<polygon points="127.67,507.44 124.77,512.54 130.57,512.54" fill="#0000ff" />
<polygon points="128.91,509.64 126.01,514.74 131.81,514.74" fill="#0000ff" />
<polygon points="130.15,511.83 127.25,516.93 133.05,516.93" fill="#0000ff" />
<polygon points="131.39,514.02 128.49,519.12 134.29,519.12" fill="#0000ff" />
<polygon points="132.62,516.21 129.72,521.31 135.52,521.31" fill="#0000ff" />
<polygon points="133.86,518.41 130.96,523.51 136.76,523.51" fill="#0000ff" />
<line x1="133.86" y1="471.90" x2="301.30" y2="471.90" stroke="#0000ff" stroke-width="3.8" />
<polygon points="133.86,468.20 130.96,473.30 136.76,473.30" fill="#0000ff" />
<polygon points="136.36,468.20 133.46,473.30 139.26,473.30" fill="#0000ff" />
<polygon points="138.86,468.20 135.96,473.30 141.76,473.30" fill="#0000ff" />
<polygon points="141.36,468.20 138.46,473.30 144.26,473.30" fill="#0000ff" />
<polygon points="143.86,468.20 140.96,473.30 146.76,473.30" fill="#0000ff" />
<polygon points="146.36,468.20 143.46,473.30 149.26,473.30" fill="#0000ff" />
<polygon points="148.85,468.20 145.95,473.30 151.75,473.30" fill="#0000ff" />
<polygon points="151.35,468.20 148.45,473.30 154.25,473.30" fill="#0000ff" />
<polygon points="153.85,468.20 150.95,473.30 156.75,473.30" fill="#0000ff" />
<polygon points="156.35,468.20 153.45,473.30 159.25,473.30" fill="#0000ff" />
<polygon points="158.85,468.20 155.95,473.30 161.75,473.30" fill="#0000ff" />
<polygon points="161.35,468.20 158.45,473.30 164.25,473.30" fill="#0000ff" />
<polygon points="163.85,468.20 160.95,473.30 166.75,473.30" fill="#0000ff" />
<polygon points="166.35,468.20 163.45,473.30 169.25,473.30" fill="#0000ff" />
<polygon points="168.85,468.20 165.95,473.30 171.75,473.30" fill="#0000ff" />
<polygon points="171.35,468.20 168.45,473.30 174.25,473.30" fill="#0000ff" />
<polygon points="173.85,468.20 170.95,473.30 176.75,473.30" fill="#0000ff" />
<polygon points="176.34,468.20 173.44,473.30 179.24,473.30" fill="#0000ff" />
<polygon points="178.84,468.20 175.94,473.30 181.74,473.30" fill="#0000ff" />
<polygon points="181.34,468.20 178.44,473.30 184.24,473.30" fill="#0000ff" />
<polygon points="183.84,468.20 180.94,473.30 186.74,473.30" fill="#0000ff" />
<polygon points="186.34,468.20 183.44,473.30 189.24,473.30" fill="#0000ff" />
<polygon points="188.84,468.20 185.94,473.30 191.74,473.30" fill="#0000ff" />
<polygon points="191.34,468.20 188.44,473.30 194.24,473.30" fill="#0000ff" />
<polygon points="193.84,468.20 190.94,473.30 196.74,473.30" fill="#0000ff" />
<polygon points="196.34,468.20 193.44,473.30 199.24,473.30" fill="#0000ff" />
<polygon points="198.84,468.20 195.94,473.30 201.74,473.30" fill="#0000ff" />
<polygon points="201.34,468.20 198.44,473.30 204.24,473.30" fill="#0000ff" />
<polygon points="203.83,468.20 200.93,473.30 206.73,473.30" fill="#0000ff" />
<polygon points="206.33,468.20 203.43,473.30 209.23,473.30" fill="#0000ff" />
<polygon points="208.83,468.20 205.93,473.30 211.73,473.30" fill="#0000ff" />
<polygon points="211.33,468.20 208.43,473.30 214.23,473.30" fill="#0000ff" />
<polygon points="213.83,468.20 210.93,473.30 216.73,473.30" fill="#0000ff" />
<polygon points="216.33,468.20 213.43,473.30 219.23,473.30" fill="#0000ff" />
<polygon points="218.83,468.20 215.93,473.30 221.73,473.30" fill="#0000ff" />
<polygon points="221.33,468.20 218.43,473.30 224.23,473.30" fill="#0000ff" />
<polygon points="223.83,468.20 220.93,473.30 226.73,473.30" fill="#0000ff" />
<polygon points="226.33,468.20 223.43,473.30 229.23,473.30" fill="#0000ff" />
<polygon points="228.83,468.20 225.93,473.30 231.73,473.30" fill="#0000ff" />
<polygon points="231.33,468.20 228.43,473.30 234.23,473.30" fill="#0000ff" />
<polygon points="233.82,468.20 230.92,473.30 236.72,473.30" fill="#0000ff" />
<polygon points="236.32,468.20 233.42,473.30 239.22,473.30" fill="#0000ff" />
<polygon points="238.82,468.20 235.92,473.30 241.72,473.30" fill="#0000ff" />
<polygon points="241.32,468.20 238.42,473.30 244.22,473.30" fill="#0000ff" />
<polygon points="243.82,468.20 240.92,473.30 246.72,473.30" fill="#0000ff" />
<polygon points="246.32,468.20 243.42,473.30 249.22,473.30" fill="#0000ff" />
<polygon points="248.82,468.20 245.92,473.30 251.72,473.30" fill="#0000ff" />
<polygon points="251.32,468.20 248.42,473.30 254.22,473.30" fill="#0000ff" />
<polygon points="253.82,468.20 250.92,473.30 256.72,473.30" fill="#0000ff" />
<polygon points="256.32,468.20 253.42,473.30 259.22,473.30" fill="#0000ff" />
<polygon points="258.82,468.20 255.92,473.30 261.72,473.30" fill="#0000ff" />
<polygon points="261.31,468.20 258.41,473.30 264.21,473.30" fill="#0000ff" />
<polygon points="263.81,468.20 260.91,473.30 266.71,473.30" fill="#0000ff" />
<polygon points="266.31,468.20 263.41,473.30 269.21,473.30" fill="#0000ff" />
<polygon points="268.81,468.20 265.91,473.30 271.71,473.30" fill="#0000ff" />
<polygon points="271.31,468.20 268.41,473.30 274.21,473.30" fill="#0000ff" />
<polygon points="273.81,468.20 270.91,473.30 276.71,473.30" fill="#0000ff" />
<polygon points="276.31,468.20 273.41,473.30 279.21,473.30" fill="#0000ff" />
<polygon points="278.81,468.20 275.91,473.30 281.71,473.30" fill="#0000ff" />
<polygon points="281.31,468.20 278.41,473.30 284.21,473.30" fill="#0000ff" />
<polygon points="283.81,468.20 280.91,473.30 286.71,473.30" fill="#0000ff" />
<polygon points="286.31,468.20 283.41,473.30 289.21,473.30" fill="#0000ff" />
<polygon points="288.80,468.20 285.90,473.30 291.70,473.30" fill="#0000ff" />
<polygon points="291.30,468.20 288.40,473.30 294.20,473.30" fill="#0000ff" />
<polygon points="293.80,468.20 290.90,473.30 296.70,473.30" fill="#0000ff" />
<polygon points="296.30,468.20 293.40,473.30 299.20,473.30" fill="#0000ff" />
<polygon points="298.80,468.20 295.90,473.30 301.70,473.30" fill="#0000ff" />
<polygon points="301.30,468.20 298.40,473.30 304.20,473.30" fill="#0000ff" />
<line x1="263.10" y1="486.60" x2="284.50" y2="486.60" stroke="#999" stroke-width="1.1" />
<rect x="271.6" y="484.40000000000003" width="4.4" height="4.4" fill="#000"/>
<line x1="263.10" y1="507.20" x2="284.50" y2="507.20" stroke="#ff8080" stroke-width="1.1" />
<circle cx="273.8" cy="507.2" r="2.5" fill="#ff0000"/>
<line x1="263.10" y1="527.40" x2="284.50" y2="527.40" stroke="#7070ff" stroke-width="1.1" />
<polygon points="273.80,524.10 270.80,529.40 276.80,529.40" fill="#0000ff" />
<text x="287.50" y="490.40" font-size="17.5" text-anchor="start" font-weight="normal" font-style="normal" fill="#000" >6</text>
<text x="287.50" y="511.20" font-size="17.5" text-anchor="start" font-weight="normal" font-style="normal" fill="#000" >8</text>
<text x="285.50" y="531.50" font-size="17.5" text-anchor="start" font-weight="normal" font-style="normal" fill="#000" >10</text>
<line x1="438.70" y1="85.60" x2="438.70" y2="526.50" stroke="#a2a2a2" stroke-width="1.4" stroke-dasharray="10.2 5.45" stroke-dashoffset="8.15"/>
<line x1="471.90" y1="85.60" x2="471.90" y2="526.50" stroke="#a2a2a2" stroke-width="1.4" stroke-dasharray="10.2 5.45" stroke-dashoffset="8.15"/>
<line x1="493.60" y1="85.60" x2="493.60" y2="526.50" stroke="#a2a2a2" stroke-width="1.4" stroke-dasharray="10.2 5.45" stroke-dashoffset="8.15"/>
<line x1="514.10" y1="85.60" x2="514.10" y2="526.50" stroke="#a2a2a2" stroke-width="1.4" stroke-dasharray="10.2 5.45" stroke-dashoffset="8.15"/>
<line x1="537.40" y1="85.60" x2="537.40" y2="526.50" stroke="#a2a2a2" stroke-width="1.4" stroke-dasharray="10.2 5.45" stroke-dashoffset="8.15"/>
<line x1="554.00" y1="85.60" x2="554.00" y2="526.50" stroke="#a2a2a2" stroke-width="1.4" stroke-dasharray="10.2 5.45" stroke-dashoffset="8.15"/>
<line x1="577.30" y1="85.60" x2="577.30" y2="526.50" stroke="#a2a2a2" stroke-width="1.4" stroke-dasharray="10.2 5.45" stroke-dashoffset="8.15"/>
<line x1="597.40" y1="85.60" x2="597.40" y2="526.50" stroke="#a2a2a2" stroke-width="1.4" stroke-dasharray="10.2 5.45" stroke-dashoffset="8.15"/>
<line x1="617.60" y1="85.60" x2="617.60" y2="526.50" stroke="#a2a2a2" stroke-width="1.4" stroke-dasharray="10.2 5.45" stroke-dashoffset="8.15"/>
<line x1="634.60" y1="85.60" x2="634.60" y2="526.50" stroke="#a2a2a2" stroke-width="1.4" stroke-dasharray="10.2 5.45" stroke-dashoffset="8.15"/>
<text x="344.40" y="221.60" font-size="26.5" text-anchor="start" font-weight="normal" font-style="normal" fill="#000" >e</text>
<text transform="translate(368.90,377.70) rotate(-90)" font-size="16.7" font-weight="bold" fill="#000">Coil density (number/mm)</text>
<text transform="translate(403.60,333.00) scale(1,1.17)" font-size="15.9" text-anchor="end" font-weight="normal" font-style="normal" fill="#000" >0</text>
<text transform="translate(403.60,310.28) scale(1,1.17)" font-size="15.9" text-anchor="end" font-weight="normal" font-style="normal" fill="#000" >300</text>
<text transform="translate(403.60,287.56) scale(1,1.17)" font-size="15.9" text-anchor="end" font-weight="normal" font-style="normal" fill="#000" >600</text>
<text transform="translate(403.60,264.84) scale(1,1.17)" font-size="15.9" text-anchor="end" font-weight="normal" font-style="normal" fill="#000" >900</text>
<text transform="translate(403.60,242.12) scale(1,1.17)" font-size="15.9" text-anchor="end" font-weight="normal" font-style="normal" fill="#000" >1200</text>
<text transform="translate(403.60,219.40) scale(1,1.17)" font-size="15.9" text-anchor="end" font-weight="normal" font-style="normal" fill="#000" >1500</text>
<text transform="translate(407.08,352.00) scale(1,1.17)" font-size="15.9" text-anchor="middle" font-weight="normal" font-style="normal" fill="#000" >-600</text>
<text transform="translate(451.22,352.00) scale(1,1.17)" font-size="15.9" text-anchor="middle" font-weight="normal" font-style="normal" fill="#000" >-400</text>
<text transform="translate(495.36,352.00) scale(1,1.17)" font-size="15.9" text-anchor="middle" font-weight="normal" font-style="normal" fill="#000" >-200</text>
<text transform="translate(539.50,352.00) scale(1,1.17)" font-size="15.9" text-anchor="middle" font-weight="normal" font-style="normal" fill="#000" >0</text>
<text transform="translate(583.64,352.00) scale(1,1.17)" font-size="15.9" text-anchor="middle" font-weight="normal" font-style="normal" fill="#000" >200</text>
<text transform="translate(627.78,352.00) scale(1,1.17)" font-size="15.9" text-anchor="middle" font-weight="normal" font-style="normal" fill="#000" >400</text>
<text transform="translate(671.92,352.00) scale(1,1.17)" font-size="15.9" text-anchor="middle" font-weight="normal" font-style="normal" fill="#000" >600</text>
<text x="431.20" y="372.40" font-size="16.27" text-anchor="start" font-weight="bold" font-style="normal" fill="#000" xml:space="preserve">Distance  from the center (mm)</text>
<line x1="407.10" y1="328.40" x2="411.70" y2="328.40" stroke="#000" stroke-width="1.5" />
<line x1="407.10" y1="317.04" x2="410.00" y2="317.04" stroke="#000" stroke-width="1.5" />
<line x1="407.10" y1="305.68" x2="411.70" y2="305.68" stroke="#000" stroke-width="1.5" />
<line x1="407.10" y1="294.32" x2="410.00" y2="294.32" stroke="#000" stroke-width="1.5" />
<line x1="407.10" y1="282.96" x2="411.70" y2="282.96" stroke="#000" stroke-width="1.5" />
<line x1="407.10" y1="271.60" x2="410.00" y2="271.60" stroke="#000" stroke-width="1.5" />
<line x1="407.10" y1="260.24" x2="411.70" y2="260.24" stroke="#000" stroke-width="1.5" />
<line x1="407.10" y1="248.88" x2="410.00" y2="248.88" stroke="#000" stroke-width="1.5" />
<line x1="407.10" y1="237.52" x2="411.70" y2="237.52" stroke="#000" stroke-width="1.5" />
<line x1="407.10" y1="226.16" x2="410.00" y2="226.16" stroke="#000" stroke-width="1.5" />
<line x1="407.10" y1="214.80" x2="411.70" y2="214.80" stroke="#000" stroke-width="1.5" />
<line x1="407.08" y1="335.30" x2="407.08" y2="330.70" stroke="#000" stroke-width="1.5" />
<line x1="429.15" y1="335.30" x2="429.15" y2="332.40" stroke="#000" stroke-width="1.5" />
<line x1="451.22" y1="335.30" x2="451.22" y2="330.70" stroke="#000" stroke-width="1.5" />
<line x1="473.29" y1="335.30" x2="473.29" y2="332.40" stroke="#000" stroke-width="1.5" />
<line x1="495.36" y1="335.30" x2="495.36" y2="330.70" stroke="#000" stroke-width="1.5" />
<line x1="517.43" y1="335.30" x2="517.43" y2="332.40" stroke="#000" stroke-width="1.5" />
<line x1="539.50" y1="335.30" x2="539.50" y2="330.70" stroke="#000" stroke-width="1.5" />
<line x1="561.57" y1="335.30" x2="561.57" y2="332.40" stroke="#000" stroke-width="1.5" />
<line x1="583.64" y1="335.30" x2="583.64" y2="330.70" stroke="#000" stroke-width="1.5" />
<line x1="605.71" y1="335.30" x2="605.71" y2="332.40" stroke="#000" stroke-width="1.5" />
<line x1="627.78" y1="335.30" x2="627.78" y2="330.70" stroke="#000" stroke-width="1.5" />
<line x1="649.85" y1="335.30" x2="649.85" y2="332.40" stroke="#000" stroke-width="1.5" />
<line x1="671.92" y1="335.30" x2="671.92" y2="330.70" stroke="#000" stroke-width="1.5" />
<rect x="407.1" y="214.8" width="264.79999999999995" height="120.5" fill="none" stroke="#000" stroke-width="1.7"/>
<polyline points="429.15,327.64 429.70,327.58 430.26,327.51 430.81,327.44 431.36,327.37 431.92,327.30 432.47,327.23 433.02,327.16 433.58,327.09 434.13,327.02 434.68,326.94 435.23,326.87 435.79,326.80 436.34,326.73 436.89,326.65 437.45,326.58 438.00,326.50 438.55,326.43 439.11,326.35 439.66,326.28 440.21,326.20 440.77,326.12 441.32,326.05 441.87,325.97 442.43,325.89 442.98,325.81 443.53,325.73 444.08,325.66 444.64,325.58 445.19,325.50 445.74,325.42 446.30,325.34 446.85,325.26 447.40,325.18 447.96,325.10 448.51,325.01 449.06,324.93 449.62,324.85 450.17,324.77 450.72,324.69 451.28,324.61 451.83,324.52 452.38,324.44 452.93,324.36 453.49,324.27 454.04,324.19 454.59,324.11 455.15,324.02 455.70,323.94 456.25,323.85 456.81,323.76 457.36,323.68 457.91,323.59 458.47,323.50 459.02,323.41 459.57,323.32 460.13,323.23 460.68,323.14 461.23,323.05 461.78,322.95 462.34,322.86 462.89,322.76 463.44,322.67 464.00,322.57 464.55,322.47 465.10,322.37 465.66,322.27 466.21,322.17 466.76,322.06 467.32,321.96 467.87,321.85 468.42,321.75 468.98,321.64 469.53,321.53 470.08,321.42 470.63,321.31 471.19,321.19 471.74,321.08 472.29,320.96 472.85,320.85 473.40,320.73 473.95,320.61 474.51,320.49 475.06,320.36 475.61,320.24 476.17,320.11 476.72,319.98 477.27,319.84 477.83,319.70 478.38,319.56 478.93,319.41 479.49,319.26 480.04,319.10 480.59,318.93 481.14,318.76 481.70,318.59 482.25,318.40 482.80,318.21 483.36,318.01 483.91,317.81 484.46,317.59 485.02,317.37 485.57,317.14 486.12,316.90 486.68,316.66 487.23,316.41 487.78,316.16 488.34,315.90 488.89,315.64 489.44,315.37 489.99,315.10 490.55,314.84 491.10,314.57 491.65,314.30 492.21,314.02 492.76,313.75 493.31,313.47 493.87,313.19 494.42,312.91 494.97,312.62 495.53,312.33 496.08,312.03 496.63,311.72 497.19,311.39 497.74,311.04 498.29,310.66 498.84,310.25 499.40,309.80 499.95,309.31 500.50,308.76 501.06,308.16 501.61,307.49 502.16,306.73 502.72,305.89 503.27,304.93 503.82,303.86 504.38,302.66 504.93,301.30 505.48,299.77 506.04,298.05 506.59,296.10 507.14,293.97 507.69,291.71 508.25,289.38 508.80,287.04 509.35,284.73 509.91,282.48 510.46,280.31 511.01,278.25 511.57,276.31 512.12,274.49 512.67,272.75 513.23,271.09 513.78,269.48 514.33,267.89 514.89,266.32 515.44,264.79 515.99,263.29 516.54,261.86 517.10,260.49 517.65,259.21 518.20,258.01 518.76,256.88 519.31,255.82 519.86,254.82 520.42,253.85 520.97,252.92 521.52,252.01 522.08,251.11 522.63,250.22 523.18,249.33 523.74,248.44 524.29,247.57 524.84,246.71 525.40,245.89 525.95,245.09 526.50,244.33 527.05,243.61 527.61,242.95 528.16,242.33 528.71,241.75 529.27,241.23 529.82,240.74 530.37,240.29 530.93,239.88 531.48,239.51 532.03,239.17 532.59,238.86 533.14,238.58 533.69,238.33 534.25,238.11 534.80,237.91 535.35,237.74 535.90,237.59 536.46,237.47 537.01,237.36 537.56,237.27 538.12,237.21 538.67,237.17 539.22,237.15 539.78,237.15 540.33,237.17 540.88,237.21 541.44,237.27 541.99,237.36 542.54,237.47 543.10,237.59 543.65,237.74 544.20,237.91 544.75,238.11 545.31,238.33 545.86,238.58 546.41,238.86 546.97,239.17 547.52,239.51 548.07,239.88 548.63,240.29 549.18,240.74 549.73,241.23 550.29,241.75 550.84,242.33 551.39,242.95 551.95,243.61 552.50,244.33 553.05,245.09 553.60,245.89 554.16,246.71 554.71,247.57 555.26,248.44 555.82,249.33 556.37,250.22 556.92,251.11 557.48,252.01 558.03,252.92 558.58,253.85 559.14,254.82 559.69,255.82 560.24,256.88 560.80,258.01 561.35,259.21 561.90,260.49 562.46,261.86 563.01,263.29 563.56,264.79 564.11,266.32 564.67,267.89 565.22,269.48 565.77,271.09 566.33,272.75 566.88,274.49 567.43,276.31 567.99,278.25 568.54,280.31 569.09,282.48 569.65,284.73 570.20,287.04 570.75,289.38 571.31,291.71 571.86,293.97 572.41,296.10 572.96,298.05 573.52,299.77 574.07,301.30 574.62,302.66 575.18,303.86 575.73,304.93 576.28,305.89 576.84,306.73 577.39,307.49 577.94,308.16 578.50,308.76 579.05,309.31 579.60,309.80 580.16,310.25 580.71,310.66 581.26,311.04 581.81,311.39 582.37,311.72 582.92,312.03 583.47,312.33 584.03,312.62 584.58,312.91 585.13,313.19 585.69,313.47 586.24,313.75 586.79,314.02 587.35,314.30 587.90,314.57 588.45,314.84 589.01,315.10 589.56,315.37 590.11,315.64 590.66,315.90 591.22,316.16 591.77,316.41 592.32,316.66 592.88,316.90 593.43,317.14 593.98,317.37 594.54,317.59 595.09,317.81 595.64,318.01 596.20,318.21 596.75,318.40 597.30,318.59 597.86,318.76 598.41,318.93 598.96,319.10 599.51,319.26 600.07,319.41 600.62,319.56 601.17,319.70 601.73,319.84 602.28,319.98 602.83,320.11 603.39,320.24 603.94,320.36 604.49,320.49 605.05,320.61 605.60,320.73 606.15,320.85 606.71,320.96 607.26,321.08 607.81,321.19 608.37,321.31 608.92,321.42 609.47,321.53 610.02,321.64 610.58,321.75 611.13,321.85 611.68,321.96 612.24,322.06 612.79,322.17 613.34,322.27 613.90,322.37 614.45,322.47 615.00,322.57 615.56,322.67 616.11,322.76 616.66,322.86 617.22,322.95 617.77,323.05 618.32,323.14 618.87,323.23 619.43,323.32 619.98,323.41 620.53,323.50 621.09,323.59 621.64,323.68 622.19,323.76 622.75,323.85 623.30,323.94 623.85,324.02 624.41,324.11 624.96,324.19 625.51,324.27 626.07,324.36 626.62,324.44 627.17,324.52 627.72,324.61 628.28,324.69 628.83,324.77 629.38,324.85 629.94,324.93 630.49,325.01 631.04,325.10 631.60,325.18 632.15,325.26 632.70,325.34 633.26,325.42 633.81,325.50 634.36,325.58 634.92,325.66 635.47,325.73 636.02,325.81 636.57,325.89 637.13,325.97 637.68,326.05 638.23,326.12 638.79,326.20 639.34,326.28 639.89,326.35 640.45,326.43 641.00,326.50 641.55,326.58 642.11,326.65 642.66,326.73 643.21,326.80 643.77,326.87 644.32,326.94 644.87,327.02 645.42,327.09 645.98,327.16 646.53,327.23 647.08,327.30 647.64,327.37 648.19,327.44 648.74,327.51 649.30,327.58 649.85,327.64" fill="none" stroke="#000" stroke-width="1.8" />
<rect x="427.05" y="325.39" width="4.2" height="4.2" fill="#000"/>
<rect x="449.12" y="322.51" width="4.2" height="4.2" fill="#000"/>
<rect x="471.19" y="318.73" width="4.2" height="4.2" fill="#000"/>
<rect x="493.26" y="311.15" width="4.2" height="4.2" fill="#000"/>
<rect x="502.09" y="302.82" width="4.2" height="4.2" fill="#000"/>
<rect x="515.33" y="252.84" width="4.2" height="4.2" fill="#000"/>
<rect x="537.40" y="226.34" width="4.2" height="4.2" fill="#000"/>
<rect x="559.47" y="252.84" width="4.2" height="4.2" fill="#000"/>
<rect x="572.71" y="302.82" width="4.2" height="4.2" fill="#000"/>
<rect x="581.54" y="311.15" width="4.2" height="4.2" fill="#000"/>
<rect x="603.61" y="318.73" width="4.2" height="4.2" fill="#000"/>
<rect x="625.68" y="322.51" width="4.2" height="4.2" fill="#000"/>
<rect x="647.75" y="325.39" width="4.2" height="4.2" fill="#000"/>
<text x="344.40" y="419.30" font-size="25.6" text-anchor="start" font-weight="normal" font-style="normal" fill="#000" >f</text>
<text transform="translate(369.40,558.60) rotate(-90)" font-size="17.17" font-weight="bold" fill="#000">DMT modulus (Mpa)</text>
<text transform="translate(403.60,546.60) scale(1,1.17)" font-size="15.9" text-anchor="end" font-weight="normal" font-style="normal" fill="#000" >0.0</text>
<text transform="translate(403.60,524.80) scale(1,1.17)" font-size="15.9" text-anchor="end" font-weight="normal" font-style="normal" fill="#000" >0.2</text>
<text transform="translate(403.60,503.00) scale(1,1.17)" font-size="15.9" text-anchor="end" font-weight="normal" font-style="normal" fill="#000" >0.4</text>
<text transform="translate(403.60,481.20) scale(1,1.17)" font-size="15.9" text-anchor="end" font-weight="normal" font-style="normal" fill="#000" >0.6</text>
<text transform="translate(403.60,459.40) scale(1,1.17)" font-size="15.9" text-anchor="end" font-weight="normal" font-style="normal" fill="#000" >0.8</text>
<text transform="translate(403.60,437.60) scale(1,1.17)" font-size="15.9" text-anchor="end" font-weight="normal" font-style="normal" fill="#000" >1.0</text>
<text transform="translate(403.60,415.80) scale(1,1.17)" font-size="15.9" text-anchor="end" font-weight="normal" font-style="normal" fill="#000" >1.2</text>
<text transform="translate(407.08,560.30) scale(1,1.17)" font-size="15.9" text-anchor="middle" font-weight="normal" font-style="normal" fill="#000" >-600</text>
<text transform="translate(451.22,560.30) scale(1,1.17)" font-size="15.9" text-anchor="middle" font-weight="normal" font-style="normal" fill="#000" >-400</text>
<text transform="translate(495.36,560.30) scale(1,1.17)" font-size="15.9" text-anchor="middle" font-weight="normal" font-style="normal" fill="#000" >-200</text>
<text transform="translate(539.50,560.30) scale(1,1.17)" font-size="15.9" text-anchor="middle" font-weight="normal" font-style="normal" fill="#000" >0</text>
<text transform="translate(583.64,560.30) scale(1,1.17)" font-size="15.9" text-anchor="middle" font-weight="normal" font-style="normal" fill="#000" >200</text>
<text transform="translate(627.78,560.30) scale(1,1.17)" font-size="15.9" text-anchor="middle" font-weight="normal" font-style="normal" fill="#000" >400</text>
<text transform="translate(671.92,560.30) scale(1,1.17)" font-size="15.9" text-anchor="middle" font-weight="normal" font-style="normal" fill="#000" >600</text>
<text x="445.90" y="584.30" font-size="15.83" text-anchor="start" font-weight="bold" font-style="normal" fill="#000" >Distance from the center (μm)</text>
<line x1="407.10" y1="542.00" x2="411.70" y2="542.00" stroke="#000" stroke-width="1.5" />
<line x1="407.10" y1="531.10" x2="410.00" y2="531.10" stroke="#000" stroke-width="1.5" />
<line x1="407.10" y1="520.20" x2="411.70" y2="520.20" stroke="#000" stroke-width="1.5" />
<line x1="407.10" y1="509.30" x2="410.00" y2="509.30" stroke="#000" stroke-width="1.5" />
<line x1="407.10" y1="498.40" x2="411.70" y2="498.40" stroke="#000" stroke-width="1.5" />
<line x1="407.10" y1="487.50" x2="410.00" y2="487.50" stroke="#000" stroke-width="1.5" />
<line x1="407.10" y1="476.60" x2="411.70" y2="476.60" stroke="#000" stroke-width="1.5" />
<line x1="407.10" y1="465.70" x2="410.00" y2="465.70" stroke="#000" stroke-width="1.5" />
<line x1="407.10" y1="454.80" x2="411.70" y2="454.80" stroke="#000" stroke-width="1.5" />
<line x1="407.10" y1="443.90" x2="410.00" y2="443.90" stroke="#000" stroke-width="1.5" />
<line x1="407.10" y1="433.00" x2="411.70" y2="433.00" stroke="#000" stroke-width="1.5" />
<line x1="407.10" y1="422.10" x2="410.00" y2="422.10" stroke="#000" stroke-width="1.5" />
<line x1="407.10" y1="411.20" x2="411.70" y2="411.20" stroke="#000" stroke-width="1.5" />
<line x1="407.10" y1="400.30" x2="410.00" y2="400.30" stroke="#000" stroke-width="1.5" />
<line x1="407.08" y1="542.00" x2="407.08" y2="537.40" stroke="#000" stroke-width="1.5" />
<line x1="429.15" y1="542.00" x2="429.15" y2="539.10" stroke="#000" stroke-width="1.5" />
<line x1="451.22" y1="542.00" x2="451.22" y2="537.40" stroke="#000" stroke-width="1.5" />
<line x1="473.29" y1="542.00" x2="473.29" y2="539.10" stroke="#000" stroke-width="1.5" />
<line x1="495.36" y1="542.00" x2="495.36" y2="537.40" stroke="#000" stroke-width="1.5" />
<line x1="517.43" y1="542.00" x2="517.43" y2="539.10" stroke="#000" stroke-width="1.5" />
<line x1="539.50" y1="542.00" x2="539.50" y2="537.40" stroke="#000" stroke-width="1.5" />
<line x1="561.57" y1="542.00" x2="561.57" y2="539.10" stroke="#000" stroke-width="1.5" />
<line x1="583.64" y1="542.00" x2="583.64" y2="537.40" stroke="#000" stroke-width="1.5" />
<line x1="605.71" y1="542.00" x2="605.71" y2="539.10" stroke="#000" stroke-width="1.5" />
<line x1="627.78" y1="542.00" x2="627.78" y2="537.40" stroke="#000" stroke-width="1.5" />
<line x1="649.85" y1="542.00" x2="649.85" y2="539.10" stroke="#000" stroke-width="1.5" />
<line x1="671.92" y1="542.00" x2="671.92" y2="537.40" stroke="#000" stroke-width="1.5" />
<rect x="407.1" y="400.3" width="264.79999999999995" height="141.7" fill="none" stroke="#000" stroke-width="1.7"/>
<polyline points="439.96,515.80 440.36,515.65 440.75,515.50 441.15,515.34 441.54,515.16 441.93,514.98 442.33,514.79 442.72,514.59 443.12,514.39 443.51,514.18 443.91,513.95 444.30,513.73 444.69,513.49 445.09,513.25 445.48,513.00 445.88,512.74 446.27,512.48 446.66,512.21 447.06,511.93 447.45,511.65 447.85,511.37 448.24,511.07 448.63,510.78 449.03,510.47 449.42,510.16 449.82,509.85 450.21,509.53 450.60,509.21 451.00,508.88 451.39,508.55 451.79,508.22 452.18,507.88 452.57,507.54 452.97,507.19 453.36,506.84 453.76,506.49 454.15,506.14 454.55,505.78 454.94,505.42 455.33,505.06 455.73,504.69 456.12,504.33 456.52,503.96 456.91,503.59 457.30,503.22 457.70,502.85 458.09,502.47 458.49,502.10 458.88,501.73 459.27,501.35 459.67,500.98 460.06,500.60 460.46,500.22 460.85,499.85 461.24,499.48 461.64,499.10 462.03,498.73 462.43,498.36 462.82,497.99 463.21,497.62 463.61,497.25 464.00,496.88 464.40,496.52 464.79,496.15 465.19,495.79 465.58,495.44 465.97,495.08 466.37,494.73 466.76,494.38 467.16,494.04 467.55,493.69 467.94,493.35 468.34,493.02 468.73,492.69 469.13,492.36 469.52,492.04 469.91,491.72 470.31,491.41 470.70,491.10 471.10,490.79 471.49,490.49 471.88,490.20 472.28,489.91 472.67,489.63 473.07,489.36 473.46,489.09 473.85,488.82 474.25,488.56 474.64,488.31 475.04,488.06 475.43,487.82 475.83,487.58 476.22,487.35 476.61,487.12 477.01,486.89 477.40,486.67 477.80,486.45 478.19,486.23 478.58,486.01 478.98,485.79 479.37,485.58 479.77,485.36 480.16,485.15 480.55,484.94 480.95,484.73 481.34,484.51 481.74,484.30 482.13,484.08 482.52,483.87 482.92,483.65 483.31,483.43 483.71,483.20 484.10,482.98 484.49,482.75 484.89,482.52 485.28,482.28 485.68,482.04 486.07,481.79 486.47,481.54 486.86,481.29 487.25,481.03 487.65,480.76 488.04,480.49 488.44,480.21 488.83,479.92 489.22,479.63 489.62,479.33 490.01,479.02 490.41,478.70 490.80,478.37 491.19,478.04 491.59,477.69 491.98,477.34 492.38,476.97 492.77,476.60 493.16,476.21 493.56,475.81 493.95,475.41 494.35,474.99 494.74,474.55 495.13,474.11 495.53,473.65 495.92,473.18 496.32,472.70 496.71,472.20 497.11,471.69 497.50,471.16 497.89,470.62 498.29,470.06 498.68,469.49 499.08,468.90 499.47,468.30 499.86,467.68 500.26,467.04 500.65,466.38 501.05,465.71 501.44,465.02 501.83,464.31 502.23,463.59 502.62,462.84 503.02,462.08 503.41,461.31 503.80,460.52 504.20,459.73 504.59,458.92 504.99,458.10 505.38,457.28 505.77,456.45 506.17,455.62 506.56,454.79 506.96,453.95 507.35,453.11 507.75,452.28 508.14,451.45 508.53,450.62 508.93,449.80 509.32,448.98 509.72,448.17 510.11,447.38 510.50,446.59 510.90,445.82 511.29,445.06 511.69,444.32 512.08,443.59 512.47,442.88 512.87,442.19 513.26,441.52 513.66,440.86 514.05,440.22 514.44,439.59 514.84,438.99 515.23,438.39 515.63,437.82 516.02,437.25 516.41,436.71 516.81,436.17 517.20,435.65 517.60,435.15 517.99,434.66 518.39,434.18 518.78,433.72 519.17,433.27 519.57,432.83 519.96,432.40 520.36,431.99 520.75,431.59 521.14,431.20 521.54,430.82 521.93,430.46 522.33,430.11 522.72,429.76 523.11,429.43 523.51,429.12 523.90,428.81 524.30,428.51 524.69,428.23 525.08,427.96 525.48,427.70 525.87,427.45 526.27,427.21 526.66,426.98 527.05,426.76 527.45,426.55 527.84,426.35 528.24,426.17 528.63,425.99 529.03,425.82 529.42,425.67 529.81,425.52 530.21,425.39 530.60,425.26 531.00,425.15 531.39,425.04 531.78,424.94 532.18,424.85 532.57,424.78 532.97,424.71 533.36,424.65 533.75,424.60 534.15,424.56 534.54,424.53 534.94,424.50 535.33,424.49 535.72,424.48 536.12,424.49 536.51,424.50 536.91,424.52 537.30,424.55 537.70,424.58 538.09,424.63 538.48,424.68 538.88,424.74 539.27,424.81 539.67,424.88 540.06,424.97 540.45,425.06 540.85,425.16 541.24,425.26 541.64,425.38 542.03,425.50 542.42,425.62 542.82,425.75 543.21,425.89 543.61,426.04 544.00,426.19 544.39,426.34 544.79,426.51 545.18,426.67 545.58,426.85 545.97,427.03 546.36,427.21 546.76,427.40 547.15,427.59 547.55,427.79 547.94,427.99 548.34,428.19 548.73,428.40 549.12,428.61 549.52,428.83 549.91,429.05 550.31,429.27 550.70,429.50 551.09,429.73 551.49,429.96 551.88,430.19 552.28,430.43 552.67,430.67 553.06,430.91 553.46,431.15 553.85,431.40 554.25,431.64 554.64,431.89 555.03,432.14 555.43,432.39 555.82,432.64 556.22,432.89 556.61,433.14 557.00,433.40 557.40,433.65 557.79,433.90 558.19,434.15 558.58,434.41 558.98,434.66 559.37,434.91 559.76,435.16 560.16,435.41 560.55,435.66 560.95,435.90 561.34,436.15 561.73,436.39 562.13,436.63 562.52,436.87 562.92,437.11 563.31,437.35 563.70,437.58 564.10,437.81 564.49,438.04 564.89,438.26 565.28,438.48 565.67,438.70 566.07,438.92 566.46,439.13 566.86,439.33 567.25,439.54 567.64,439.74 568.04,439.93 568.43,440.12 568.83,440.31 569.22,440.49 569.62,440.66 570.01,440.84 570.40,441.01 570.80,441.18 571.19,441.34 571.59,441.50 571.98,441.66 572.37,441.81 572.77,441.97 573.16,442.12 573.56,442.27 573.95,442.42 574.34,442.57 574.74,442.72 575.13,442.86 575.53,443.01 575.92,443.15 576.31,443.30 576.71,443.45 577.10,443.59 577.50,443.74 577.89,443.89 578.28,444.04 578.68,444.19 579.07,444.34 579.47,444.50 579.86,444.66 580.26,444.81 580.65,444.98 581.04,445.14 581.44,445.31 581.83,445.48 582.23,445.66 582.62,445.84 583.01,446.02 583.41,446.21 583.80,446.40 584.20,446.59 584.59,446.79 584.98,447.00 585.38,447.21 585.77,447.43 586.17,447.66 586.56,447.89 586.95,448.12 587.35,448.37 587.74,448.62 588.14,448.87 588.53,449.14 588.92,449.41 589.32,449.69 589.71,449.98 590.11,450.27 590.50,450.58 590.90,450.89 591.29,451.21 591.68,451.55 592.08,451.89 592.47,452.24 592.87,452.60 593.26,452.97 593.65,453.35 594.05,453.75 594.44,454.15 594.84,454.56 595.23,454.99 595.62,455.43 596.02,455.88 596.41,456.34 596.81,456.81 597.20,457.30 597.59,457.80 597.99,458.31 598.38,458.83 598.78,459.37 599.17,459.92 599.56,460.49 599.96,461.07 600.35,461.67 600.75,462.27 601.14,462.90 601.54,463.53 601.93,464.18 602.32,464.83 602.72,465.51 603.11,466.19 603.51,466.88 603.90,467.59 604.29,468.30 604.69,469.03 605.08,469.76 605.48,470.51 605.87,471.26 606.26,472.02 606.66,472.79 607.05,473.57 607.45,474.36 607.84,475.16 608.23,475.96 608.63,476.77 609.02,477.58 609.42,478.41 609.81,479.24 610.20,480.07 610.60,480.91 610.99,481.75 611.39,482.60 611.78,483.46 612.18,484.31 612.57,485.18 612.96,486.04 613.36,486.91 613.75,487.78 614.15,488.65 614.54,489.53 614.93,490.40 615.33,491.27 615.72,492.14 616.12,493.00 616.51,493.85 616.90,494.69 617.30,495.52 617.69,496.33 618.09,497.13 618.48,497.91 618.87,498.66 619.27,499.39 619.66,500.10 620.06,500.78 620.45,501.43 620.84,502.05 621.24,502.64 621.63,503.20 622.03,503.75 622.42,504.27 622.82,504.76 623.21,505.24 623.60,505.70 624.00,506.14 624.39,506.56 624.79,506.97 625.18,507.37 625.57,507.75 625.97,508.12 626.36,508.49 626.76,508.84 627.15,509.19 627.54,509.53 627.94,509.87 628.33,510.21 628.73,510.54 629.12,510.88 629.51,511.21 629.91,511.55 630.30,511.90 630.70,512.24 631.09,512.60 631.49,512.96 631.88,513.34 632.27,513.72 632.67,514.12 633.06,514.53 633.46,514.96 633.85,515.40 634.24,515.86 634.64,516.34 635.03,516.84 635.43,517.36 635.82,517.90 636.21,518.47 636.61,519.07" fill="none" stroke="#000" stroke-width="1.8" />
<line x1="439.96" y1="509.85" x2="439.96" y2="521.84" stroke="#000" stroke-width="1.5" />
<line x1="437.16" y1="509.85" x2="442.76" y2="509.85" stroke="#000" stroke-width="1.6" />
<line x1="437.16" y1="521.84" x2="442.76" y2="521.84" stroke="#000" stroke-width="1.6" />
<rect x="437.66" y="513.44" width="4.6" height="4.8" fill="#000"/>
<line x1="473.29" y1="482.05" x2="473.29" y2="493.82" stroke="#000" stroke-width="1.5" />
<line x1="470.49" y1="482.05" x2="476.09" y2="482.05" stroke="#000" stroke-width="1.6" />
<line x1="470.49" y1="493.82" x2="476.09" y2="493.82" stroke="#000" stroke-width="1.6" />
<rect x="470.99" y="485.54" width="4.6" height="4.8" fill="#000"/>
<line x1="494.70" y1="471.69" x2="494.70" y2="478.67" stroke="#000" stroke-width="1.5" />
<line x1="491.90" y1="471.69" x2="497.50" y2="471.69" stroke="#000" stroke-width="1.6" />
<line x1="491.90" y1="478.67" x2="497.50" y2="478.67" stroke="#000" stroke-width="1.6" />
<rect x="492.40" y="472.78" width="4.6" height="4.8" fill="#000"/>
<line x1="516.11" y1="428.10" x2="516.11" y2="440.09" stroke="#000" stroke-width="1.5" />
<line x1="513.31" y1="428.10" x2="518.91" y2="428.10" stroke="#000" stroke-width="1.6" />
<line x1="513.31" y1="440.09" x2="518.91" y2="440.09" stroke="#000" stroke-width="1.6" />
<rect x="513.81" y="431.69" width="4.6" height="4.8" fill="#000"/>
<line x1="539.50" y1="417.30" x2="539.50" y2="429.08" stroke="#000" stroke-width="1.5" />
<line x1="536.70" y1="417.30" x2="542.30" y2="417.30" stroke="#000" stroke-width="1.6" />
<line x1="536.70" y1="429.08" x2="542.30" y2="429.08" stroke="#000" stroke-width="1.6" />
<rect x="537.20" y="420.79" width="4.6" height="4.8" fill="#000"/>
<line x1="555.39" y1="431.04" x2="555.39" y2="437.14" stroke="#000" stroke-width="1.5" />
<line x1="552.59" y1="431.04" x2="558.19" y2="431.04" stroke="#000" stroke-width="1.6" />
<line x1="552.59" y1="437.14" x2="558.19" y2="437.14" stroke="#000" stroke-width="1.6" />
<rect x="553.09" y="431.69" width="4.6" height="4.8" fill="#000"/>
<line x1="580.11" y1="437.90" x2="580.11" y2="449.89" stroke="#000" stroke-width="1.5" />
<line x1="577.31" y1="437.90" x2="582.91" y2="437.90" stroke="#000" stroke-width="1.6" />
<line x1="577.31" y1="449.89" x2="582.91" y2="449.89" stroke="#000" stroke-width="1.6" />
<rect x="577.81" y="441.50" width="4.6" height="4.8" fill="#000"/>
<line x1="599.53" y1="456.87" x2="599.53" y2="464.50" stroke="#000" stroke-width="1.5" />
<line x1="596.73" y1="456.87" x2="602.33" y2="456.87" stroke="#000" stroke-width="1.6" />
<line x1="596.73" y1="464.50" x2="602.33" y2="464.50" stroke="#000" stroke-width="1.6" />
<rect x="597.23" y="458.29" width="4.6" height="4.8" fill="#000"/>
<line x1="620.06" y1="494.04" x2="620.06" y2="507.56" stroke="#000" stroke-width="1.5" />
<line x1="617.26" y1="494.04" x2="622.86" y2="494.04" stroke="#000" stroke-width="1.6" />
<line x1="617.26" y1="507.56" x2="622.86" y2="507.56" stroke="#000" stroke-width="1.6" />
<rect x="617.76" y="498.40" width="4.6" height="4.8" fill="#000"/>
<line x1="636.61" y1="515.29" x2="636.61" y2="522.93" stroke="#000" stroke-width="1.5" />
<line x1="633.81" y1="515.29" x2="639.41" y2="515.29" stroke="#000" stroke-width="1.6" />
<line x1="633.81" y1="522.93" x2="639.41" y2="522.93" stroke="#000" stroke-width="1.6" />
<rect x="634.31" y="516.71" width="4.6" height="4.8" fill="#000"/>
</svg></body></html>
